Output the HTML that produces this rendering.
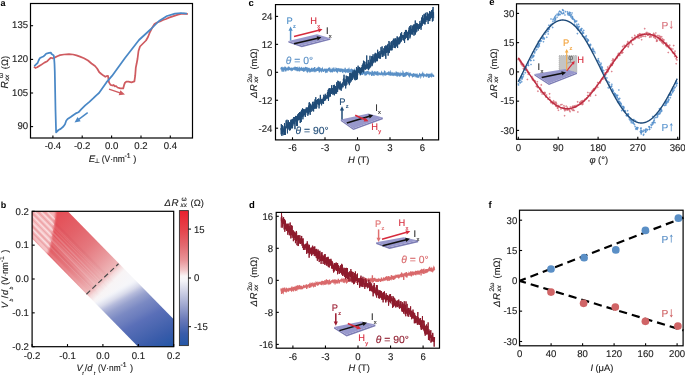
<!DOCTYPE html>
<html><head><meta charset="utf-8"><style>html,body{margin:0;padding:0;background:#fff;}svg{display:block;will-change:transform;}</style></head><body>
<svg xmlns="http://www.w3.org/2000/svg" width="685" height="375" viewBox="0 0 685 375" font-family="Liberation Sans, sans-serif" text-rendering="geometricPrecision">
<rect width="685" height="375" fill="#fff"/>
<text x="0.6" y="6.1" font-size="9" font-weight="bold">a</text>
<polyline points="34,66.6 35.4,68 37.2,67.3 40.8,65.1 44.4,62.6 47.3,61.2 49.4,59 50.9,57.8 52.3,58.3 54.5,57.6 57.3,56.2 60,55.1 64,54.5 69,54.1 73,54.5 76.5,55.4 80,56.6 84,58.2 88,60.5 91.5,63.5 95,66 97.1,68.5 99.3,72.3 101.4,74 103.5,75.6 105.3,76.8 106.7,76 108,75.8 108.3,78 109,82.4 110.5,84.9 112.4,85.5 113.5,85 114.9,86.3 116,86 117.5,87.5 120.3,88.4 123.2,88.4 124,85.4 124.8,83 126.3,81.7 128.5,81.7 131.5,82.3 134.4,81.4 135.2,75.7 135.8,67.6 136.7,63.3 137.5,59 138.5,51 140,46.5 143,43.5 146,40.5 148,37 150,32 152,28 154.5,24 157,22.5 160,21.5 163,20 166,19 169,17.6 172,16.6 175,15.6 178,14.6 181,14 184,13.6 188,14" fill="none" stroke="#CF5B60" stroke-width="1.75" stroke-linejoin="round"/>
<polyline points="187,13.6 181,13 175,13.6 167,16 159,21 151,29 139,40 125,58 112,75.9 106.4,82.4 99,93 96.3,95.3 93.4,98.2 89.4,101.9 85.2,105.4 81.4,109.1 78.4,112.3 76.4,113.1 73.5,115 70.7,117 67.6,119 66.2,120.7 65,124.3 63.4,126.5 60.7,128.9 58.5,130 56.1,132.3 55.5,110 54.8,72 54.5,63.7 54.1,58 53.7,55.4 52.7,54.7 51.6,54 50.9,52.6 49.1,52.9 47.3,53.3 45.8,54 44.7,55.4 43.3,56.5 41.5,57.2 39.7,58.3 38.6,60.5 37.6,63 36.1,64.4 34.3,66.2" fill="none" stroke="#4A88C6" stroke-width="1.75" stroke-linejoin="round"/>
<line x1="87.7" y1="112.7" x2="78.74" y2="119.42" stroke="#4A88C6" stroke-width="1.5"/>
<polygon points="74.5,122.6 77.58,117.04 80.7,121.2" fill="#4A88C6"/>
<line x1="109" y1="89.1" x2="119.99" y2="92.88" stroke="#CF5B60" stroke-width="1.5"/>
<polygon points="125,94.6 118.67,95.17 120.36,90.26" fill="#CF5B60"/>
<rect x="30.5" y="3.5" width="162" height="134.5" fill="none" stroke="#000" stroke-width="1.2"/>
<line x1="30.5" y1="25.7" x2="33.1" y2="25.7" stroke="#000" stroke-width="1.1"/>
<text x="28.1" y="28.2" font-size="9.8" text-anchor="end" fill="#1a1a1a" textLength="16.02" lengthAdjust="spacingAndGlyphs" stroke="#1a1a1a" stroke-width="0.12">135</text>
<line x1="30.5" y1="59.4" x2="33.1" y2="59.4" stroke="#000" stroke-width="1.1"/>
<text x="28.1" y="61.9" font-size="9.8" text-anchor="end" fill="#1a1a1a" textLength="16.02" lengthAdjust="spacingAndGlyphs" stroke="#1a1a1a" stroke-width="0.12">120</text>
<line x1="30.5" y1="93" x2="33.1" y2="93" stroke="#000" stroke-width="1.1"/>
<text x="28.1" y="95.5" font-size="9.8" text-anchor="end" fill="#1a1a1a" textLength="16.02" lengthAdjust="spacingAndGlyphs" stroke="#1a1a1a" stroke-width="0.12">105</text>
<line x1="30.5" y1="126.6" x2="33.1" y2="126.6" stroke="#000" stroke-width="1.1"/>
<text x="28.1" y="129.1" font-size="9.8" text-anchor="end" fill="#1a1a1a" textLength="10.68" lengthAdjust="spacingAndGlyphs" stroke="#1a1a1a" stroke-width="0.12">90</text>
<line x1="52.9" y1="138" x2="52.9" y2="135.4" stroke="#000" stroke-width="1.1"/>
<text x="52.9" y="149" font-size="9.8" text-anchor="middle" fill="#1a1a1a" textLength="16.54" lengthAdjust="spacingAndGlyphs" stroke="#1a1a1a" stroke-width="0.12">-0.4</text>
<line x1="82.2" y1="138" x2="82.2" y2="135.4" stroke="#000" stroke-width="1.1"/>
<text x="82.2" y="149" font-size="9.8" text-anchor="middle" fill="#1a1a1a" textLength="16.54" lengthAdjust="spacingAndGlyphs" stroke="#1a1a1a" stroke-width="0.12">-0.2</text>
<line x1="111.6" y1="138" x2="111.6" y2="135.4" stroke="#000" stroke-width="1.1"/>
<text x="111.6" y="149" font-size="9.8" text-anchor="middle" fill="#1a1a1a" textLength="13.35" lengthAdjust="spacingAndGlyphs" stroke="#1a1a1a" stroke-width="0.12">0.0</text>
<line x1="141" y1="138" x2="141" y2="135.4" stroke="#000" stroke-width="1.1"/>
<text x="141" y="149" font-size="9.8" text-anchor="middle" fill="#1a1a1a" textLength="13.35" lengthAdjust="spacingAndGlyphs" stroke="#1a1a1a" stroke-width="0.12">0.2</text>
<line x1="170.3" y1="138" x2="170.3" y2="135.4" stroke="#000" stroke-width="1.1"/>
<text x="170.3" y="149" font-size="9.8" text-anchor="middle" fill="#1a1a1a" textLength="13.35" lengthAdjust="spacingAndGlyphs" stroke="#1a1a1a" stroke-width="0.12">0.4</text>
<g transform="translate(88.8,162.2)" fill="#1a1a1a" stroke="#1a1a1a" stroke-width="0.12"><text x="0" y="0" font-size="9.6" font-style="italic">E</text><text x="5.4" y="0.9" font-size="6.5">⊥</text><text x="12.9" y="0" font-size="9.4" textLength="23.0" lengthAdjust="spacingAndGlyphs">(V·nm</text><text x="35.6" y="-3.9" font-size="6.8">-1</text><text x="44.4" y="0" font-size="9.4">)</text></g>
<g transform="translate(7.7,88.5) rotate(-90)" fill="#1a1a1a" stroke="#1a1a1a" stroke-width="0.12"><text x="0" y="0" font-size="10.2" font-style="italic">R</text><text x="7.4" y="1" font-size="6.3" font-style="italic">xx</text><text x="10.4" y="-5" font-size="6.6">ω</text><text x="19.3" y="0" font-size="9.4">(Ω)</text></g>
<text x="0.8" y="207.6" font-size="9" font-weight="bold">b</text>
<defs>
<linearGradient id="gb" gradientUnits="userSpaceOnUse" x1="121.5" y1="121.5" x2="259.75" y2="259.75">
<stop offset="0" stop-color="#E5434B"/>
<stop offset="0.13" stop-color="#E4525A"/>
<stop offset="0.232" stop-color="#E3636A"/>
<stop offset="0.333" stop-color="#E5787E"/>
<stop offset="0.42" stop-color="#E9969A"/>
<stop offset="0.5" stop-color="#EEB6B8"/>
<stop offset="0.522" stop-color="#F5DCDD"/>
<stop offset="0.548" stop-color="#F8F4F5"/>
<stop offset="0.6" stop-color="#F6F6F9"/>
<stop offset="1" stop-color="#F6F6F9"/>
</linearGradient>
<linearGradient id="gbb" gradientUnits="userSpaceOnUse" x1="147.8" y1="268.7" x2="187.9" y2="341.6">
<stop offset="0" stop-color="#F4F5FA" stop-opacity="0"/>
<stop offset="0.0316" stop-color="#F4F5FA" stop-opacity="0"/>
<stop offset="0.0737" stop-color="#ECEEF6" stop-opacity="0.9"/>
<stop offset="0.126" stop-color="#D8DAEA"/>
<stop offset="0.179" stop-color="#B4BADB"/>
<stop offset="0.238" stop-color="#98A2CE"/>
<stop offset="0.337" stop-color="#7A89C3"/>
<stop offset="0.437" stop-color="#6A7CBD"/>
<stop offset="0.513" stop-color="#5A6FB8"/>
<stop offset="0.653" stop-color="#4A66B0"/>
<stop offset="0.789" stop-color="#3A5CAA"/>
<stop offset="0.958" stop-color="#2356A6"/>
<stop offset="1" stop-color="#2255A5"/>
</linearGradient>
<linearGradient id="cb" x1="0" y1="0" x2="0" y2="1">
<stop offset="0" stop-color="#E9212F"/>
<stop offset="0.14" stop-color="#E6434B"/>
<stop offset="0.26" stop-color="#E26A70"/>
<stop offset="0.37" stop-color="#E99599"/>
<stop offset="0.44" stop-color="#F2C6C8"/>
<stop offset="0.485" stop-color="#FAF5F5"/>
<stop offset="0.52" stop-color="#F4F4F8"/>
<stop offset="0.59" stop-color="#D4D6E8"/>
<stop offset="0.70" stop-color="#A0A8D0"/>
<stop offset="0.81" stop-color="#6878B8"/>
<stop offset="0.91" stop-color="#3A5CAA"/>
<stop offset="1" stop-color="#2356A6"/>
</linearGradient>
<clipPath id="cbox"><rect x="32.1" y="211.3" width="141.6" height="135.4"/></clipPath>
<filter id="blur1"><feGaussianBlur stdDeviation="1.2"/></filter>
</defs>
<g clip-path="url(#cbox)"><polygon points="32.1,211.3 67.79,211.3 173.7,319.32 173.7,346.7 138.09,346.7 32.1,238.59" fill="url(#gb)"/><polygon points="32.1,211.3 67.79,211.3 173.7,319.32 173.7,346.7 138.09,346.7 32.1,238.59" fill="url(#gbb)"/>
<clipPath id="cs"><polygon points="32.1,211.3 67.79,211.3 173.7,319.32 173.7,346.7 138.09,346.7 32.1,238.59"/></clipPath>
<linearGradient id="gm" gradientUnits="userSpaceOnUse" x1="121.5" y1="121.5" x2="259.75" y2="259.75"><stop offset="0.3" stop-color="#fff"/><stop offset="0.5" stop-color="#fff" stop-opacity="0.6"/><stop offset="0.56" stop-color="#fff" stop-opacity="0"/></linearGradient>
<mask id="mk" maskUnits="userSpaceOnUse" x="0" y="180" width="200" height="195"><rect x="0" y="180" width="200" height="195" fill="url(#gm)"/></mask>
<g clip-path="url(#cs)" mask="url(#mk)">
<line x1="20" y1="202.91" x2="190" y2="376.31" stroke="#fff" stroke-width="1.02" opacity="0.08"/>
<line x1="20" y1="230.05" x2="190" y2="403.45" stroke="#fff" stroke-width="1.19" opacity="0.04"/>
<line x1="20" y1="204.4" x2="190" y2="377.8" stroke="#fff" stroke-width="0.93" opacity="0.14"/>
<line x1="20" y1="244.8" x2="190" y2="418.2" stroke="#fff" stroke-width="0.71" opacity="0.10"/>
<line x1="20" y1="230.69" x2="190" y2="404.09" stroke="#b03040" stroke-width="1.12" opacity="0.06"/>
<line x1="20" y1="233.25" x2="190" y2="406.65" stroke="#fff" stroke-width="1.01" opacity="0.12"/>
<line x1="20" y1="207.34" x2="190" y2="380.74" stroke="#fff" stroke-width="0.93" opacity="0.13"/>
<line x1="20" y1="236.57" x2="190" y2="409.97" stroke="#b03040" stroke-width="1.24" opacity="0.07"/>
<line x1="20" y1="213.9" x2="190" y2="387.3" stroke="#b03040" stroke-width="1.25" opacity="0.05"/>
<line x1="20" y1="247.77" x2="190" y2="421.17" stroke="#fff" stroke-width="0.75" opacity="0.05"/>
<line x1="20" y1="253.83" x2="190" y2="427.23" stroke="#fff" stroke-width="0.81" opacity="0.10"/>
<line x1="20" y1="221.76" x2="190" y2="395.16" stroke="#fff" stroke-width="1.01" opacity="0.08"/>
<line x1="20" y1="227.15" x2="190" y2="400.55" stroke="#b03040" stroke-width="1.25" opacity="0.06"/>
<line x1="20" y1="246.2" x2="190" y2="419.6" stroke="#b03040" stroke-width="0.71" opacity="0.06"/>
<line x1="20" y1="246.49" x2="190" y2="419.89" stroke="#b03040" stroke-width="1.00" opacity="0.08"/>
<line x1="20" y1="236.22" x2="190" y2="409.62" stroke="#fff" stroke-width="1.00" opacity="0.12"/>
<line x1="20" y1="206.2" x2="190" y2="379.6" stroke="#fff" stroke-width="1.29" opacity="0.13"/>
<line x1="20" y1="192.45" x2="190" y2="365.85" stroke="#b03040" stroke-width="0.71" opacity="0.05"/>
<line x1="20" y1="206.82" x2="190" y2="380.22" stroke="#b03040" stroke-width="0.63" opacity="0.07"/>
<line x1="20" y1="229.27" x2="190" y2="402.67" stroke="#fff" stroke-width="0.83" opacity="0.11"/>
<line x1="20" y1="247.91" x2="190" y2="421.31" stroke="#b03040" stroke-width="1.30" opacity="0.06"/>
<line x1="20" y1="207.93" x2="190" y2="381.33" stroke="#fff" stroke-width="0.62" opacity="0.10"/>
<line x1="20" y1="200.07" x2="190" y2="373.47" stroke="#fff" stroke-width="0.71" opacity="0.10"/>
<line x1="20" y1="189.22" x2="190" y2="362.62" stroke="#b03040" stroke-width="1.27" opacity="0.05"/>
<line x1="20" y1="249.02" x2="190" y2="422.42" stroke="#fff" stroke-width="0.96" opacity="0.09"/>
<line x1="20" y1="231.32" x2="190" y2="404.72" stroke="#fff" stroke-width="1.03" opacity="0.10"/>
<line x1="20" y1="252.09" x2="190" y2="425.49" stroke="#fff" stroke-width="1.10" opacity="0.08"/>
<line x1="20" y1="202.88" x2="190" y2="376.28" stroke="#fff" stroke-width="0.96" opacity="0.14"/>
<line x1="20" y1="224.64" x2="190" y2="398.04" stroke="#fff" stroke-width="1.01" opacity="0.08"/>
<line x1="20" y1="187.65" x2="190" y2="361.05" stroke="#b03040" stroke-width="0.64" opacity="0.06"/>
<line x1="20" y1="230.16" x2="190" y2="403.56" stroke="#fff" stroke-width="0.85" opacity="0.11"/>
<line x1="20" y1="235.74" x2="190" y2="409.14" stroke="#b03040" stroke-width="0.64" opacity="0.03"/>
<line x1="20" y1="233.57" x2="190" y2="406.97" stroke="#b03040" stroke-width="0.92" opacity="0.04"/>
<line x1="20" y1="227.74" x2="190" y2="401.14" stroke="#fff" stroke-width="0.82" opacity="0.08"/>
<line x1="20" y1="212.09" x2="190" y2="385.49" stroke="#fff" stroke-width="0.86" opacity="0.07"/>
<line x1="20" y1="240.31" x2="190" y2="413.71" stroke="#fff" stroke-width="1.11" opacity="0.10"/>
<line x1="20" y1="207.95" x2="190" y2="381.35" stroke="#fff" stroke-width="0.77" opacity="0.12"/>
<line x1="20" y1="199.37" x2="190" y2="372.77" stroke="#fff" stroke-width="0.67" opacity="0.11"/>
<line x1="20" y1="208.79" x2="190" y2="382.19" stroke="#fff" stroke-width="0.91" opacity="0.12"/>
<line x1="20" y1="246.14" x2="190" y2="419.54" stroke="#fff" stroke-width="1.06" opacity="0.07"/>
<line x1="20" y1="248.19" x2="190" y2="421.59" stroke="#fff" stroke-width="0.68" opacity="0.06"/>
<line x1="20" y1="223.32" x2="190" y2="396.72" stroke="#fff" stroke-width="1.19" opacity="0.12"/>
<line x1="20" y1="199.1" x2="190" y2="372.5" stroke="#fff" stroke-width="1.05" opacity="0.12"/>
<line x1="20" y1="242.69" x2="190" y2="416.09" stroke="#fff" stroke-width="0.80" opacity="0.05"/>
<line x1="20" y1="241.82" x2="190" y2="415.22" stroke="#fff" stroke-width="0.89" opacity="0.07"/>
<line x1="20" y1="215.63" x2="190" y2="389.03" stroke="#fff" stroke-width="0.71" opacity="0.13"/>
<line x1="20" y1="186.58" x2="190" y2="359.98" stroke="#b03040" stroke-width="1.29" opacity="0.07"/>
<line x1="20" y1="216.65" x2="190" y2="390.05" stroke="#b03040" stroke-width="0.76" opacity="0.08"/>
<line x1="20" y1="238.44" x2="190" y2="411.84" stroke="#b03040" stroke-width="0.96" opacity="0.06"/>
<line x1="20" y1="206.48" x2="190" y2="379.88" stroke="#fff" stroke-width="0.65" opacity="0.06"/>
<line x1="20" y1="227.46" x2="190" y2="400.86" stroke="#fff" stroke-width="0.63" opacity="0.12"/>
<line x1="20" y1="249.5" x2="190" y2="422.9" stroke="#b03040" stroke-width="1.23" opacity="0.08"/>
<line x1="20" y1="249.23" x2="190" y2="422.63" stroke="#fff" stroke-width="1.12" opacity="0.04"/>
<line x1="20" y1="198.28" x2="190" y2="371.68" stroke="#fff" stroke-width="0.97" opacity="0.11"/>
<line x1="20" y1="215.21" x2="190" y2="388.61" stroke="#b03040" stroke-width="0.84" opacity="0.06"/>
<line x1="20" y1="203.92" x2="190" y2="377.32" stroke="#b03040" stroke-width="1.15" opacity="0.05"/>
<line x1="20" y1="210.88" x2="190" y2="384.28" stroke="#fff" stroke-width="1.17" opacity="0.09"/>
<line x1="20" y1="198.24" x2="190" y2="371.64" stroke="#b03040" stroke-width="1.16" opacity="0.08"/>
<line x1="20" y1="243.89" x2="190" y2="417.29" stroke="#fff" stroke-width="1.20" opacity="0.10"/>
<line x1="20" y1="189.75" x2="190" y2="363.15" stroke="#fff" stroke-width="0.97" opacity="0.07"/>
<line x1="20" y1="215.86" x2="190" y2="389.26" stroke="#fff" stroke-width="0.60" opacity="0.12"/>
<line x1="20" y1="190.09" x2="190" y2="363.49" stroke="#fff" stroke-width="0.65" opacity="0.05"/>
<line x1="20" y1="254.48" x2="190" y2="427.88" stroke="#b03040" stroke-width="0.95" opacity="0.03"/>
<line x1="20" y1="208.36" x2="190" y2="381.76" stroke="#fff" stroke-width="1.05" opacity="0.08"/>
<line x1="20" y1="227.31" x2="190" y2="400.71" stroke="#fff" stroke-width="0.83" opacity="0.06"/>
<line x1="20" y1="194.91" x2="190" y2="368.31" stroke="#fff" stroke-width="0.87" opacity="0.11"/>
<line x1="20" y1="191.84" x2="190" y2="365.24" stroke="#fff" stroke-width="1.02" opacity="0.08"/>
<line x1="20" y1="241.03" x2="190" y2="414.43" stroke="#fff" stroke-width="1.04" opacity="0.12"/>
<line x1="20" y1="216.46" x2="190" y2="389.86" stroke="#fff" stroke-width="1.09" opacity="0.09"/>
<line x1="20" y1="215.69" x2="190" y2="389.09" stroke="#b03040" stroke-width="0.77" opacity="0.05"/>
</g>
<clipPath id="cw"><polygon points="32.1,211.3 55.9,211.3 54.8,220 53.5,228 52,234 51.2,240 49.6,248 47.5,254 44,252 32.1,238.59"/></clipPath>
<polygon points="32.1,211.3 55.9,211.3 54.8,220 53.5,228 52,234 51.2,240 49.6,248 47.5,254 44,252 32.1,238.59" fill="#fff" opacity="0.6" filter="url(#blur1)"/>
<g clip-path="url(#cw)" opacity="0.5">
<line x1="32.1" y1="196" x2="72.1" y2="236.8" stroke="#fff" stroke-width="1.2"/>
<line x1="32.1" y1="199.3" x2="72.1" y2="240.1" stroke="#E58A8E" stroke-width="1.2"/>
<line x1="32.1" y1="202.6" x2="72.1" y2="243.4" stroke="#fff" stroke-width="1.2"/>
<line x1="32.1" y1="205.9" x2="72.1" y2="246.7" stroke="#E58A8E" stroke-width="1.2"/>
<line x1="32.1" y1="209.2" x2="72.1" y2="250" stroke="#fff" stroke-width="1.2"/>
<line x1="32.1" y1="212.5" x2="72.1" y2="253.3" stroke="#E58A8E" stroke-width="1.2"/>
<line x1="32.1" y1="215.8" x2="72.1" y2="256.6" stroke="#fff" stroke-width="1.2"/>
<line x1="32.1" y1="219.1" x2="72.1" y2="259.9" stroke="#E58A8E" stroke-width="1.2"/>
<line x1="32.1" y1="222.4" x2="72.1" y2="263.2" stroke="#fff" stroke-width="1.2"/>
<line x1="32.1" y1="225.7" x2="72.1" y2="266.5" stroke="#E58A8E" stroke-width="1.2"/>
<line x1="32.1" y1="229" x2="72.1" y2="269.8" stroke="#fff" stroke-width="1.2"/>
<line x1="32.1" y1="232.3" x2="72.1" y2="273.1" stroke="#E58A8E" stroke-width="1.2"/>
</g>
</g>
<line x1="86.4" y1="294.2" x2="118.5" y2="263.8" stroke="#4a4a4a" stroke-width="1.2" stroke-dasharray="5.2,3"/>
<rect x="32.1" y="211.3" width="141.6" height="135.4" fill="none" stroke="#000" stroke-width="1.2"/>
<line x1="32.1" y1="211.3" x2="34.7" y2="211.3" stroke="#000" stroke-width="1.1"/>
<text x="28.9" y="214.6" font-size="9.8" text-anchor="end" fill="#1a1a1a" textLength="13.35" lengthAdjust="spacingAndGlyphs" stroke="#1a1a1a" stroke-width="0.12">0.2</text>
<line x1="32.1" y1="245.15" x2="34.7" y2="245.15" stroke="#000" stroke-width="1.1"/>
<text x="28.9" y="248.45" font-size="9.8" text-anchor="end" fill="#1a1a1a" textLength="13.35" lengthAdjust="spacingAndGlyphs" stroke="#1a1a1a" stroke-width="0.12">0.1</text>
<line x1="32.1" y1="279" x2="34.7" y2="279" stroke="#000" stroke-width="1.1"/>
<text x="28.9" y="282.3" font-size="9.8" text-anchor="end" fill="#1a1a1a" textLength="13.35" lengthAdjust="spacingAndGlyphs" stroke="#1a1a1a" stroke-width="0.12">0.0</text>
<line x1="32.1" y1="312.85" x2="34.7" y2="312.85" stroke="#000" stroke-width="1.1"/>
<text x="28.9" y="316.15" font-size="9.8" text-anchor="end" fill="#1a1a1a" textLength="16.54" lengthAdjust="spacingAndGlyphs" stroke="#1a1a1a" stroke-width="0.12">-0.1</text>
<line x1="32.1" y1="346.7" x2="34.7" y2="346.7" stroke="#000" stroke-width="1.1"/>
<text x="28.9" y="350" font-size="9.8" text-anchor="end" fill="#1a1a1a" textLength="16.54" lengthAdjust="spacingAndGlyphs" stroke="#1a1a1a" stroke-width="0.12">-0.2</text>
<line x1="32.1" y1="346.7" x2="32.1" y2="344.1" stroke="#000" stroke-width="1.1"/>
<text x="32.1" y="358.9" font-size="9.8" text-anchor="middle" fill="#1a1a1a" textLength="16.54" lengthAdjust="spacingAndGlyphs" stroke="#1a1a1a" stroke-width="0.12">-0.2</text>
<line x1="67.5" y1="346.7" x2="67.5" y2="344.1" stroke="#000" stroke-width="1.1"/>
<text x="67.5" y="358.9" font-size="9.8" text-anchor="middle" fill="#1a1a1a" textLength="16.54" lengthAdjust="spacingAndGlyphs" stroke="#1a1a1a" stroke-width="0.12">-0.1</text>
<line x1="102.9" y1="346.7" x2="102.9" y2="344.1" stroke="#000" stroke-width="1.1"/>
<text x="102.9" y="358.9" font-size="9.8" text-anchor="middle" fill="#1a1a1a" textLength="13.35" lengthAdjust="spacingAndGlyphs" stroke="#1a1a1a" stroke-width="0.12">0.0</text>
<line x1="138.3" y1="346.7" x2="138.3" y2="344.1" stroke="#000" stroke-width="1.1"/>
<text x="138.3" y="358.9" font-size="9.8" text-anchor="middle" fill="#1a1a1a" textLength="13.35" lengthAdjust="spacingAndGlyphs" stroke="#1a1a1a" stroke-width="0.12">0.1</text>
<line x1="173.7" y1="346.7" x2="173.7" y2="344.1" stroke="#000" stroke-width="1.1"/>
<text x="173.7" y="358.9" font-size="9.8" text-anchor="middle" fill="#1a1a1a" textLength="13.35" lengthAdjust="spacingAndGlyphs" stroke="#1a1a1a" stroke-width="0.12">0.2</text>
<g transform="translate(76.4,370.7)" fill="#1a1a1a" stroke="#1a1a1a" stroke-width="0.12"><text x="0" y="0" font-size="9.2" font-style="italic">V</text><text x="5.9" y="3.8" font-size="5" font-style="italic">t</text><text x="8.3" y="0" font-size="9.2">/</text><text x="10.9" y="0" font-size="9.2" font-style="italic">d</text><text x="17.4" y="4.2" font-size="5" font-style="italic">t</text><text x="21.6" y="0" font-size="9.4" textLength="22.6" lengthAdjust="spacingAndGlyphs">(V·nm</text><text x="44.2" y="-3.9" font-size="6.8">-1</text><text x="53.7" y="0" font-size="9.4">)</text></g>
<g transform="translate(8,308.2) rotate(-90)" fill="#1a1a1a" stroke="#1a1a1a" stroke-width="0.12"><text x="0" y="0" font-size="9.2" font-style="italic">V</text><text x="6.8" y="4.6" font-size="5" font-style="italic">b</text><text x="10" y="0" font-size="9.2">/</text><text x="13.3" y="0" font-size="9.2" font-style="italic">d</text><text x="18.6" y="4.6" font-size="5" font-style="italic">b</text><text x="23.4" y="0" font-size="9.4" textLength="22.6" lengthAdjust="spacingAndGlyphs">(V·nm</text><text x="46" y="-3.9" font-size="6.8">-1</text><text x="55.5" y="0" font-size="9.4">)</text></g>
<rect x="179.4" y="210.6" width="9" height="135" fill="url(#cb)" stroke="#333" stroke-width="0.9"/>
<line x1="188.4" y1="229.1" x2="191" y2="229.1" stroke="#000" stroke-width="1"/>
<text x="193.9" y="232.5" font-size="9.8" fill="#1a1a1a" textLength="10.68" lengthAdjust="spacingAndGlyphs" stroke="#1a1a1a" stroke-width="0.12">15</text>
<line x1="188.4" y1="278" x2="191" y2="278" stroke="#000" stroke-width="1"/>
<text x="193.9" y="281.4" font-size="9.8" fill="#1a1a1a" textLength="5.34" lengthAdjust="spacingAndGlyphs" stroke="#1a1a1a" stroke-width="0.12">0</text>
<line x1="188.4" y1="326.7" x2="191" y2="326.7" stroke="#000" stroke-width="1"/>
<text x="193.9" y="330.09999999999997" font-size="9.8" fill="#1a1a1a" textLength="13.88" lengthAdjust="spacingAndGlyphs" stroke="#1a1a1a" stroke-width="0.12">-15</text>
<g transform="translate(164.6,205.6)" fill="#1a1a1a" stroke="#1a1a1a" stroke-width="0.12"><text x="0" y="0" font-size="9.4" font-style="italic">Δ</text><text x="6.9" y="0" font-size="9.8" font-style="italic">R</text><text x="15.9" y="1" font-size="6.3" font-style="italic">xx</text><text x="16.9" y="-4.6" font-size="6.6">ω</text><text x="26" y="0" font-size="9.4">(Ω)</text></g>
<text x="248.6" y="5.6" font-size="9.5" font-weight="bold">c</text>
<polyline points="281,67.71 281.15,69.4 281.31,67.61 281.46,68.94 281.61,67.74 281.76,67.66 281.92,70.63 282.07,70.05 282.22,71.63 282.37,68.73 282.53,69.13 282.68,69.19 282.83,69.33 282.99,69.77 283.14,67.17 283.29,69.79 283.44,67.51 283.6,69.06 283.75,71.66 283.9,69.01 284.05,68.76 284.21,69.77 284.36,69.18 284.51,68.02 284.66,70.17 284.82,68.55 284.97,66.49 285.12,69.64 285.28,67.84 285.43,67.77 285.58,67.76 285.73,71.45 285.89,69.12 286.04,69.59 286.19,69.7 286.34,70.32 286.5,69.06 286.65,68.57 286.8,68.49 286.96,69.48 287.11,69.43 287.26,68.29 287.41,67.52 287.57,70.41 287.72,69.87 287.87,69.1 288.02,68.73 288.18,69.93 288.33,68.48 288.48,68.77 288.63,66.62 288.79,69.94 288.94,69.62 289.09,68.68 289.25,69.51 289.4,68.46 289.55,69.83 289.7,68.94 289.86,68.32 290.01,68.53 290.16,69.95 290.31,69.02 290.47,69.84 290.62,67.94 290.77,69.14 290.93,68.83 291.08,70.09 291.23,68.06 291.38,69.28 291.54,69.41 291.69,69.84 291.84,69.48 291.99,69.91 292.15,69.97 292.3,68.36 292.45,67.91 292.61,69.45 292.76,69.3 292.91,69.47 293.06,69.21 293.22,69.15 293.37,68.36 293.52,67.63 293.67,68.79 293.83,68.74 293.98,67.5 294.13,68.39 294.28,67.22 294.44,69.82 294.59,67.27 294.74,68.27 294.9,70.24 295.05,67.18 295.2,66.76 295.35,68 295.51,70.42 295.66,69.55 295.81,69.25 295.96,68.57 296.12,69.42 296.27,67.55 296.42,67.18 296.58,69.03 296.73,68.71 296.88,68.74 297.03,68.39 297.19,69 297.34,68.75 297.49,71.22 297.64,68.25 297.8,69.13 297.95,69.89 298.1,70.33 298.26,68.03 298.41,69.94 298.56,70.39 298.71,68.12 298.87,70.15 299.02,70.97 299.17,66.87 299.32,71.49 299.48,69.82 299.63,68.59 299.78,67.93 299.93,69.19 300.09,69.48 300.24,69.62 300.39,69.67 300.55,68.38 300.7,68.31 300.85,69.15 301,68.79 301.16,70.62 301.31,69.52 301.46,69.31 301.61,70.41 301.77,68.12 301.92,68.29 302.07,69.83 302.23,69.21 302.38,70.26 302.53,70.31 302.68,68.5 302.84,70.43 302.99,70.58 303.14,69.08 303.29,69.14 303.45,67.58 303.6,70.01 303.75,71.69 303.9,67.69 304.06,69.07 304.21,70.1 304.36,68.74 304.52,67.8 304.67,69.88 304.82,71.25 304.97,70.26 305.13,69.66 305.28,68.97 305.43,69.2 305.58,67.55 305.74,66.98 305.89,69.66 306.04,68.69 306.2,69.4 306.35,67.55 306.5,69.27 306.65,68.07 306.81,70.94 306.96,71.2 307.11,67.34 307.26,69.97 307.42,70.81 307.57,72.18 307.72,70.06 307.88,70.01 308.03,68.31 308.18,70.79 308.33,70.12 308.49,70.33 308.64,69.22 308.79,67.84 308.94,70.39 309.1,69.33 309.25,70.24 309.4,69.95 309.55,70.95 309.71,69.27 309.86,68.77 310.01,70.98 310.17,70.68 310.32,69.63 310.47,70.34 310.62,68.87 310.78,70.41 310.93,70.07 311.08,71.08 311.23,70.52 311.39,68.5 311.54,69.55 311.69,67.76 311.85,68.73 312,71.85 312.15,70.11 312.3,69.31 312.46,69.66 312.61,70.16 312.76,69.83 312.91,69.17 313.07,70.4 313.22,69.78 313.37,70.21 313.53,69.6 313.68,68.11 313.83,69.69 313.98,69.94 314.14,69.9 314.29,69.19 314.44,69.48 314.59,71.45 314.75,67.13 314.9,72.13 315.05,70.72 315.2,69.2 315.36,70.79 315.51,69.61 315.66,69.65 315.82,70.24 315.97,70.81 316.12,69.98 316.27,71.54 316.43,70.29 316.58,68.22 316.73,68.6 316.88,70.58 317.04,70.06 317.19,69.02 317.34,70.13 317.5,67.9 317.65,70.97 317.8,68.69 317.95,68.41 318.11,70.75 318.26,69.66 318.41,69.84 318.56,69.27 318.72,69.28 318.87,69.02 319.02,71.14 319.18,67.23 319.33,72.43 319.48,70.4 319.63,67.24 319.79,69.8 319.94,70.91 320.09,69.51 320.24,70.19 320.4,68.67 320.55,69.47 320.7,71.36 320.85,69.82 321.01,68.42 321.16,68.85 321.31,70.51 321.47,70.88 321.62,69.6 321.77,69.65 321.92,68.49 322.08,69.66 322.23,69.14 322.38,68.79 322.53,69.85 322.69,70.08 322.84,70.88 322.99,71.38 323.15,69.91 323.3,69.58 323.45,71.96 323.6,70.94 323.76,70.7 323.91,69.8 324.06,69.73 324.21,68.78 324.37,69.53 324.52,69.63 324.67,70.05 324.82,70.28 324.98,68.5 325.13,70.51 325.28,69.01 325.44,69.42 325.59,72.56 325.74,69.93 325.89,71.65 326.05,71.43 326.2,69.45 326.35,70.63 326.5,68.74 326.66,69.18 326.81,70.02 326.96,72.6 327.12,70.36 327.27,70.1 327.42,69.66 327.57,69.67 327.73,71.37 327.88,70.83 328.03,69.18 328.18,70.88 328.34,69.96 328.49,68.03 328.64,70.57 328.8,68.67 328.95,69.32 329.1,70.42 329.25,68.25 329.41,67.45 329.56,70 329.71,67.69 329.86,71.82 330.02,71.29 330.17,68.96 330.32,69.6 330.47,70.14 330.63,69.67 330.78,70.86 330.93,70.52 331.09,69.97 331.24,70.66 331.39,69.75 331.54,70.49 331.7,72.27 331.85,68.89 332,70.4 332.15,69.27 332.31,72.16 332.46,69.23 332.61,69.46 332.77,70.87 332.92,70.59 333.07,71.4 333.22,70.83 333.38,68.98 333.53,70.81 333.68,69.56 333.83,67.66 333.99,69.03 334.14,71.37 334.29,70.68 334.44,71.66 334.6,71.01 334.75,69.78 334.9,69.73 335.06,70.2 335.21,70.92 335.36,70.28 335.51,69.14 335.67,69.61 335.82,69.11 335.97,69.59 336.12,67.95 336.28,69.17 336.43,68.42 336.58,72.23 336.74,68.51 336.89,69.75 337.04,68.39 337.19,71.27 337.35,71.6 337.5,70.58 337.65,70.85 337.8,70.6 337.96,70.17 338.11,69.16 338.26,68.79 338.42,68.9 338.57,70.61 338.72,70.78 338.87,70.68 339.03,69.97 339.18,68.88 339.33,70.14 339.48,70.91 339.64,68.43 339.79,69.7 339.94,72.05 340.09,68.77 340.25,71.45 340.4,69.97 340.55,72.08 340.71,69.69 340.86,69.46 341.01,70.22 341.16,70.32 341.32,70.47 341.47,70.8 341.62,68.73 341.77,70.83 341.93,71.1 342.08,68.84 342.23,70.18 342.39,69.75 342.54,71.17 342.69,71.45 342.84,68.74 343,70.25 343.15,69.89 343.3,71.7 343.45,69.97 343.61,70.63 343.76,69.31 343.91,70.7 344.07,69.73 344.22,71.46 344.37,72.04 344.52,71.18 344.68,70.8 344.83,69.37 344.98,71.63 345.13,67.79 345.29,71.05 345.44,71.42 345.59,70.48 345.74,70.81 345.9,69.96 346.05,70.8 346.2,71.82 346.36,69.56 346.51,70.21 346.66,70.02 346.81,69.73 346.97,69.22 347.12,72.66 347.27,69.48 347.42,72.16 347.58,71.76 347.73,71.33 347.88,68.82 348.04,71.61 348.19,70.55 348.34,71.07 348.49,72.59 348.65,71.51 348.8,69.4 348.95,69.05 349.1,69.65 349.26,71.43 349.41,72.33 349.56,70.28 349.72,71.43 349.87,70.61 350.02,71.3 350.17,71.15 350.33,71.19 350.48,69.26 350.63,71.65 350.78,69.82 350.94,71.64 351.09,71.9 351.24,70.19 351.39,68.69 351.55,70.17 351.7,70.17 351.85,69.25 352.01,69.95 352.16,69.96 352.31,71.63 352.46,72.24 352.62,72.47 352.77,70.01 352.92,70.49 353.07,71.39 353.23,69.52 353.38,70.3 353.53,73.03 353.69,71.2 353.84,70.3 353.99,71.55 354.14,71.05 354.3,70.44 354.45,70.19 354.6,69.93 354.75,71.03 354.91,70.42 355.06,71.12 355.21,71.61 355.36,72.16 355.52,70.31 355.67,72.38 355.82,72.71 355.98,73.19 356.13,69.87 356.28,71.9 356.43,71.16 356.59,69.95 356.74,71.83 356.89,70.34 357.04,72.27 357.2,70.52 357.35,72.04 357.5,70.79 357.66,72.73 357.81,70.38 357.96,70.94 358.11,72.78 358.27,70.31 358.42,71.93 358.57,71.12 358.72,70.38 358.88,71.01 359.03,72.13 359.18,73.21 359.34,71.4 359.49,72.01 359.64,71.09 359.79,72.22 359.95,71.59 360.1,68.62 360.25,71.33 360.4,71.79 360.56,72.34 360.71,71.25 360.86,72.66 361.01,74.31 361.17,72.57 361.32,74.77 361.47,71.04 361.63,71.57 361.78,74.55 361.93,72.82 362.08,71.51 362.24,74.89 362.39,70.05 362.54,73.22 362.69,74.5 362.85,72.38 363,71.65 363.15,72.45 363.31,72.07 363.46,72.25 363.61,72.83 363.76,72.55 363.92,72.08 364.07,71.84 364.22,71.23 364.37,73.91 364.53,71.96 364.68,74.32 364.83,72.27 364.99,75.53 365.14,74.61 365.29,72.7 365.44,72.95 365.6,73.01 365.75,74.92 365.9,73.06 366.05,72.25 366.21,73.92 366.36,75.11 366.51,71.36 366.66,73.48 366.82,72.41 366.97,73.07 367.12,72.1 367.28,74.27 367.43,71.06 367.58,73.02 367.73,73.72 367.89,72.91 368.04,72.51 368.19,72.64 368.34,73.55 368.5,71.32 368.65,73.38 368.8,74.5 368.96,71.78 369.11,72.2 369.26,73.4 369.41,73.71 369.57,72.4 369.72,73.47 369.87,74.32 370.02,72.44 370.18,73.24 370.33,73.79 370.48,72.63 370.63,74.55 370.79,72.83 370.94,72.98 371.09,73.21 371.25,73.85 371.4,73.32 371.55,72.88 371.7,73.83 371.86,75.85 372.01,73.48 372.16,70.67 372.31,73.26 372.47,72.98 372.62,73.94 372.77,74.1 372.93,73.54 373.08,73.43 373.23,73.23 373.38,72.56 373.54,73.38 373.69,74.49 373.84,71.79 373.99,75.86 374.15,72.09 374.3,74.22 374.45,72.64 374.61,71.38 374.76,72.34 374.91,73.61 375.06,73.52 375.22,72.66 375.37,72.79 375.52,73.2 375.67,72.51 375.83,73.58 375.98,72.51 376.13,71.52 376.28,74.86 376.44,74.14 376.59,74.09 376.74,73.51 376.9,74.92 377.05,72.68 377.2,74.86 377.35,75.49 377.51,72.55 377.66,71.21 377.81,75.36 377.96,74.57 378.12,73.14 378.27,73.45 378.42,74.08 378.58,73.66 378.73,73.09 378.88,74.54 379.03,73.3 379.19,72.74 379.34,73.96 379.49,74.11 379.64,72.68 379.8,74.13 379.95,73.3 380.1,74.49 380.25,75.03 380.41,73.8 380.56,74.45 380.71,73.45 380.87,73.93 381.02,75.16 381.17,74.12 381.32,73.04 381.48,72.67 381.63,74.08 381.78,73.04 381.93,74.71 382.09,72.66 382.24,74.33 382.39,73.68 382.55,74.11 382.7,74.47 382.85,74.79 383,73.6 383.16,73.46 383.31,74.67 383.46,74.1 383.61,72.68 383.77,73.09 383.92,74.66 384.07,73.85 384.23,73.6 384.38,75.27 384.53,71.77 384.68,72 384.84,75.42 384.99,73.1 385.14,72.83 385.29,74.33 385.45,74.51 385.6,73.06 385.75,74.59 385.9,74.72 386.06,74.37 386.21,73.7 386.36,73.6 386.52,73.1 386.67,73.89 386.82,75.03 386.97,72.86 387.13,72.87 387.28,73.34 387.43,74.67 387.58,73.5 387.74,72.26 387.89,74.13 388.04,73.3 388.2,72.93 388.35,73.47 388.5,73.12 388.65,73.71 388.81,74.44 388.96,75.02 389.11,74.34 389.26,74.11 389.42,72.18 389.57,74.45 389.72,75.33 389.88,72.34 390.03,72.06 390.18,73.85 390.33,73.92 390.49,75.61 390.64,74.07 390.79,71.94 390.94,72.52 391.1,74.76 391.25,74.15 391.4,73.47 391.55,74.32 391.71,74.66 391.86,74.55 392.01,73.9 392.17,73.29 392.32,73.24 392.47,75.6 392.62,74.53 392.78,73.65 392.93,75.7 393.08,73.93 393.23,74.26 393.39,73.42 393.54,74.7 393.69,73.85 393.85,75.09 394,75.11 394.15,73.96 394.3,74.27 394.46,73.53 394.61,74.83 394.76,73.78 394.91,74.02 395.07,74.3 395.22,73.53 395.37,73.53 395.52,73.59 395.68,74.75 395.83,74.85 395.98,73.59 396.14,71.56 396.29,74.54 396.44,73.09 396.59,74.28 396.75,75.42 396.9,74.66 397.05,73.77 397.2,76.64 397.36,72.34 397.51,74.9 397.66,74.84 397.82,74.33 397.97,73.11 398.12,75.59 398.27,74.96 398.43,74.37 398.58,74.93 398.73,72.52 398.88,74.9 399.04,72.4 399.19,76.34 399.34,75.8 399.5,74.5 399.65,76.59 399.8,73.52 399.95,74.95 400.11,73.32 400.26,75.43 400.41,75.08 400.56,73.8 400.72,74.29 400.87,73.61 401.02,74.06 401.17,73.75 401.33,73.7 401.48,75.26 401.63,73.8 401.79,75.54 401.94,75.05 402.09,73.75 402.24,75.5 402.4,74.31 402.55,73.02 402.7,75.3 402.85,73.28 403.01,72.13 403.16,72.45 403.31,76.9 403.47,73.35 403.62,75.49 403.77,76.02 403.92,73.11 404.08,73.99 404.23,74.25 404.38,72.98 404.53,74.93 404.69,74.66 404.84,75.9 404.99,75.94 405.15,74.79 405.3,72.49 405.45,73.15 405.6,76.23 405.76,74.45 405.91,75.59 406.06,74.46 406.21,75.76 406.37,74.47 406.52,73.09 406.67,72.56 406.82,71.96 406.98,74.33 407.13,74.38 407.28,73.81 407.44,72.54 407.59,74.12 407.74,74.34 407.89,74.28 408.05,73.83 408.2,74.66 408.35,74.79 408.5,73.31 408.66,75.21 408.81,75.46 408.96,73.46 409.12,76.38 409.27,75.09 409.42,75.61 409.57,75 409.73,74.44 409.88,73.2 410.03,73.13 410.18,73.66 410.34,73.73 410.49,74.12 410.64,74.09 410.79,74.95 410.95,75.22 411.1,75.09 411.25,75.11 411.41,74.31 411.56,75.29 411.71,74.67 411.86,73.77 412.02,75.66 412.17,75.95 412.32,73.8 412.47,75.41 412.63,73.86 412.78,76.14 412.93,74.34 413.09,76.89 413.24,74.3 413.39,73.78 413.54,74.76 413.7,73.41 413.85,74.09 414,75.26 414.15,74.41 414.31,76.41 414.46,74.38 414.61,75.16 414.77,74.03 414.92,75.33 415.07,73.77 415.22,74.18 415.38,75.74 415.53,75.43 415.68,74.44 415.83,74.07 415.99,76.39 416.14,75.14 416.29,74.04 416.44,75.13 416.6,77.54 416.75,74.41 416.9,75.67 417.06,73.62 417.21,76.03 417.36,75.44 417.51,75.61 417.67,77.58 417.82,75.64 417.97,75.82 418.12,75.76 418.28,76.32 418.43,74.97 418.58,76.93 418.74,76.96 418.89,75.84 419.04,75.22 419.19,74.9 419.35,74.55 419.5,74.95 419.65,74.52 419.8,75.04 419.96,76.14 420.11,75.74 420.26,75.1 420.42,76.17 420.57,73.81 420.72,75.5 420.87,76.73 421.03,76.36 421.18,74.06 421.33,74.96 421.48,75.15 421.64,74.89 421.79,74.98 421.94,73.5 422.09,75.65 422.25,75.25 422.4,73.9 422.55,73.58 422.71,75.9 422.86,75.57 423.01,74.61 423.16,76.26 423.32,76.48 423.47,74.76 423.62,74.51 423.77,75.76 423.93,74.47 424.08,76.05 424.23,74.19 424.39,75.73 424.54,76.44 424.69,75.74 424.84,75.34 425,75.74 425.15,74.51 425.3,75.35 425.45,76.35 425.61,75.63 425.76,76.27 425.91,75.06 426.06,74.85 426.22,76.68 426.37,74.05 426.52,75.34 426.68,76 426.83,75.78 426.98,73.48 427.13,76.29 427.29,75.16 427.44,74.96 427.59,74.93 427.74,76.18 427.9,75.15 428.05,75.1 428.2,74.45 428.36,74.45 428.51,77.83 428.66,75.75 428.81,77.13 428.97,75.48 429.12,77.75 429.27,75.19 429.42,73.8 429.58,76.08 429.73,74.96 429.88,75.66 430.04,75.93 430.19,75.69 430.34,74.98 430.49,75.32 430.65,76.77 430.8,75.1 430.95,74.37 431.1,76.16 431.26,76.34 431.41,74.67 431.56,74.39 431.71,76.62 431.87,75.14 432.02,74.57 432.17,75.51 432.33,74.91 432.48,75.2 432.63,76.08 432.78,74.53 432.94,75.44 433.09,74.7 433.24,76.66 433.39,74.82 433.55,77.03 433.7,75.43" fill="none" stroke="#5A90C6" stroke-width="1.3"/>
<polyline points="281,130.19 281.11,127.97 281.22,134.39 281.33,124.11 281.44,128.13 281.55,128.84 281.65,131.03 281.76,130.4 281.87,135.96 281.98,128.13 282.09,129.69 282.2,133.19 282.31,125.12 282.42,131.39 282.53,133.59 282.64,130.45 282.75,126.19 282.85,128.9 282.96,127.28 283.07,128.3 283.18,135.21 283.29,129.59 283.4,130.09 283.51,128.83 283.62,131.47 283.73,128.92 283.84,131.52 283.94,130.29 284.05,127.78 284.16,126.11 284.27,126.53 284.38,125.26 284.49,123.17 284.6,135 284.71,130.78 284.82,128.74 284.93,131.49 285.04,131.47 285.14,126.96 285.25,128.87 285.36,134.99 285.47,127.29 285.58,126.89 285.69,126.39 285.8,127.07 285.91,128.29 286.02,122.98 286.13,120.4 286.24,123.75 286.34,128.21 286.45,123.71 286.56,124.39 286.67,126.53 286.78,126.06 286.89,123.81 287,119.73 287.11,123.89 287.22,125.74 287.33,128.97 287.44,133.39 287.54,125.24 287.65,126.76 287.76,125.9 287.87,124.48 287.98,122.3 288.09,128.89 288.2,124.51 288.31,126.92 288.42,120.3 288.53,124.22 288.63,122.21 288.74,127.77 288.85,125.2 288.96,126.7 289.07,122.56 289.18,129.99 289.29,125.43 289.4,122.29 289.51,124.36 289.62,125.29 289.73,130.59 289.83,124.47 289.94,127.76 290.05,124.68 290.16,128.5 290.27,124.02 290.38,130.05 290.49,123.21 290.6,126.41 290.71,126.88 290.82,120.28 290.93,124.3 291.03,126.55 291.14,119.57 291.25,128.45 291.36,126.73 291.47,127.13 291.58,123.9 291.69,120.36 291.8,122.85 291.91,119.64 292.02,122.08 292.13,123.5 292.23,124.32 292.34,128.32 292.45,118.86 292.56,128.05 292.67,124.14 292.78,121.63 292.89,125.63 293,118.95 293.11,120.99 293.22,122.98 293.33,123.51 293.43,121.02 293.54,122.28 293.65,122.94 293.76,117.03 293.87,119.39 293.98,121.61 294.09,122.26 294.2,124.22 294.31,119.51 294.42,118.8 294.52,119.91 294.63,117.02 294.74,121.73 294.85,123.2 294.96,129.17 295.07,119.73 295.18,120.97 295.29,117.91 295.4,118.25 295.51,115.94 295.62,120.1 295.72,120.53 295.83,120.14 295.94,117.58 296.05,122.14 296.16,115.92 296.27,124.29 296.38,116.37 296.49,118.6 296.6,120.03 296.71,125.99 296.82,120.95 296.92,122.01 297.03,121.2 297.14,122.98 297.25,122.67 297.36,126.11 297.47,116.52 297.58,121.6 297.69,115.63 297.8,118.14 297.91,114.64 298.02,116.36 298.12,114.01 298.23,118.53 298.34,116.83 298.45,118.31 298.56,120.27 298.67,113.16 298.78,114.58 298.89,117.47 299,114.14 299.11,117.59 299.21,114.64 299.32,117.16 299.43,119.77 299.54,112.53 299.65,114.9 299.76,112.12 299.87,117.36 299.98,114.99 300.09,116.96 300.2,123.04 300.31,117.49 300.41,112.52 300.52,115.63 300.63,115.37 300.74,121.95 300.85,115.38 300.96,114.27 301.07,111.28 301.18,122.02 301.29,119 301.4,116.91 301.51,109.77 301.61,113.28 301.72,112.77 301.83,116.98 301.94,115.44 302.05,112.25 302.16,110.9 302.27,114.01 302.38,116.97 302.49,112.07 302.6,108.31 302.71,116.64 302.81,113.25 302.92,119.3 303.03,113.18 303.14,113.84 303.25,113.71 303.36,109.37 303.47,114.82 303.58,112.04 303.69,109.21 303.8,111.58 303.9,116.47 304.01,111.05 304.12,115.03 304.23,114.85 304.34,112.96 304.45,113.54 304.56,109.49 304.67,114.89 304.78,111.73 304.89,111.07 305,109.71 305.1,110.55 305.21,111.93 305.32,110.49 305.43,116.98 305.54,109.44 305.65,113.16 305.76,114.64 305.87,110.45 305.98,111.01 306.09,109.07 306.2,107.62 306.3,109.7 306.41,111.75 306.52,108.01 306.63,111.25 306.74,112.59 306.85,110.06 306.96,111.59 307.07,107.39 307.18,111.47 307.29,112.87 307.4,112.67 307.5,107.92 307.61,110.65 307.72,110.49 307.83,115.77 307.94,108.49 308.05,112.8 308.16,108.27 308.27,108.21 308.38,107.07 308.49,111.05 308.6,105.65 308.7,114.32 308.81,106.36 308.92,112.31 309.03,108.56 309.14,102.63 309.25,105.67 309.36,111.14 309.47,102.38 309.58,107.32 309.69,112.2 309.79,109.44 309.9,107.49 310.01,107.62 310.12,111.65 310.23,114.84 310.34,110.21 310.45,106.16 310.56,108.89 310.67,103.66 310.78,107.34 310.89,104.71 310.99,111.51 311.1,111.94 311.21,110.24 311.32,107.24 311.43,106.11 311.54,107.83 311.65,106.46 311.76,105.56 311.87,109.95 311.98,110.57 312.09,111.12 312.19,107.07 312.3,107.26 312.41,105.96 312.52,105.03 312.63,101.87 312.74,103.58 312.85,109.57 312.96,108.18 313.07,108.61 313.18,106.52 313.29,110.6 313.39,106.19 313.5,104 313.61,111.46 313.72,107.04 313.83,104.72 313.94,101.62 314.05,106.49 314.16,108.98 314.27,107.11 314.38,102.11 314.48,105.85 314.59,107.45 314.7,107.92 314.81,104.66 314.92,108.19 315.03,99.39 315.14,102.22 315.25,108.5 315.36,106.28 315.47,103.26 315.58,104.49 315.68,106.43 315.79,97.16 315.9,103.38 316.01,108.24 316.12,100.68 316.23,108.6 316.34,104.66 316.45,101.76 316.56,100.03 316.67,102.92 316.78,107.35 316.88,103.67 316.99,104.46 317.1,101.57 317.21,102.15 317.32,99.91 317.43,103.9 317.54,103.25 317.65,99.02 317.76,99.99 317.87,102.89 317.98,99.32 318.08,103.43 318.19,102.67 318.3,103.64 318.41,100.75 318.52,100.76 318.63,104.57 318.74,98.45 318.85,99.34 318.96,102.88 319.07,108.43 319.18,99.51 319.28,105.37 319.39,101.06 319.5,103.9 319.61,102.83 319.72,103.1 319.83,101.52 319.94,104.16 320.05,103.6 320.16,101.43 320.27,97.17 320.37,94.89 320.48,102.27 320.59,97.36 320.7,101.9 320.81,100.25 320.92,100.13 321.03,100.71 321.14,101.47 321.25,103.87 321.36,99.23 321.47,99.71 321.57,105.34 321.68,100.67 321.79,100.14 321.9,100 322.01,100.38 322.12,102.08 322.23,98.86 322.34,101.09 322.45,103.13 322.56,102.87 322.67,100.2 322.77,99.04 322.88,103.62 322.99,101.05 323.1,98.43 323.21,98.28 323.32,97.73 323.43,97.21 323.54,103.94 323.65,96.46 323.76,94.78 323.87,97.26 323.97,98.22 324.08,101.06 324.19,97.84 324.3,97.14 324.41,99.29 324.52,99.21 324.63,100.77 324.74,95.63 324.85,96.66 324.96,100.06 325.06,100.07 325.17,99.5 325.28,93.82 325.39,96.92 325.5,96.07 325.61,100.35 325.72,97.52 325.83,97.52 325.94,97.13 326.05,97.27 326.16,96.1 326.26,96.93 326.37,97.65 326.48,97.11 326.59,97.7 326.7,98.29 326.81,99.03 326.92,95.09 327.03,95.96 327.14,95.54 327.25,96 327.36,92.75 327.46,97.76 327.57,92.02 327.68,98.36 327.79,95.94 327.9,94.69 328.01,95.07 328.12,89.9 328.23,96.04 328.34,97.48 328.45,100.88 328.56,99.91 328.66,92 328.77,97.49 328.88,89 328.99,91.47 329.1,90.12 329.21,88.02 329.32,92.64 329.43,94.4 329.54,93.41 329.65,96.32 329.75,88.31 329.86,95.49 329.97,90.59 330.08,96.8 330.19,94.55 330.3,92.81 330.41,95.8 330.52,93.16 330.63,92.35 330.74,92.15 330.85,88.26 330.95,93.33 331.06,90.48 331.17,93.83 331.28,92.37 331.39,89.23 331.5,93.92 331.61,85.29 331.72,92.61 331.83,92.78 331.94,91.58 332.05,88.2 332.15,92.77 332.26,92.25 332.37,90.22 332.48,88.27 332.59,92.52 332.7,91.45 332.81,94.65 332.92,92.67 333.03,92.39 333.14,88.73 333.25,90.21 333.35,84.98 333.46,93.7 333.57,87.47 333.68,91.31 333.79,86.36 333.9,90.19 334.01,94.36 334.12,91.79 334.23,90.82 334.34,95.32 334.44,89.79 334.55,84.78 334.66,89.74 334.77,86.94 334.88,90.06 334.99,90.57 335.1,91.01 335.21,90.47 335.32,90.76 335.43,89.61 335.54,86.12 335.64,93.79 335.75,87.79 335.86,90.06 335.97,90.08 336.08,92.83 336.19,90.46 336.3,87.93 336.41,88.01 336.52,91.62 336.63,93.6 336.74,82.21 336.84,89.41 336.95,91.95 337.06,89.18 337.17,89.71 337.28,90.31 337.39,91.64 337.5,86.47 337.61,91.93 337.72,84.63 337.83,80.69 337.94,85.37 338.04,84.92 338.15,86.42 338.26,87.31 338.37,84.44 338.48,86.53 338.59,81.05 338.7,88.38 338.81,83.72 338.92,85.42 339.03,87.89 339.14,89.6 339.24,89.66 339.35,86.8 339.46,82.29 339.57,82.65 339.68,88.38 339.79,83.18 339.9,89.01 340.01,88.78 340.12,81.45 340.23,82.5 340.33,88.28 340.44,89.65 340.55,88.45 340.66,84.25 340.77,86.22 340.88,86.08 340.99,84.28 341.1,85.86 341.21,90.75 341.32,85.51 341.43,87 341.53,84.53 341.64,83.83 341.75,83.59 341.86,88.39 341.97,83.88 342.08,83.9 342.19,83.79 342.3,84.74 342.41,86.65 342.52,83.39 342.63,82.44 342.73,83.48 342.84,84.66 342.95,84.26 343.06,87.25 343.17,83.17 343.28,83.49 343.39,79.02 343.5,82.28 343.61,81.54 343.72,78.38 343.83,82.41 343.93,81.24 344.04,74.72 344.15,85.02 344.26,81.88 344.37,80.28 344.48,81.43 344.59,85.61 344.7,80.94 344.81,84.17 344.92,82.98 345.02,80.44 345.13,79.25 345.24,79.59 345.35,82.2 345.46,82.84 345.57,82.97 345.68,88.43 345.79,81.5 345.9,84.2 346.01,85.73 346.12,81.29 346.22,75.66 346.33,82.18 346.44,82.03 346.55,83.53 346.66,78.91 346.77,80.82 346.88,84.69 346.99,77.46 347.1,81.57 347.21,76.01 347.32,81.39 347.42,77.69 347.53,79.33 347.64,81.07 347.75,80.07 347.86,80.12 347.97,79.04 348.08,78.98 348.19,80.95 348.3,78.07 348.41,82.67 348.52,79.8 348.62,81.28 348.73,77.09 348.84,83.53 348.95,76.31 349.06,79.62 349.17,78.34 349.28,83.92 349.39,85.18 349.5,76.74 349.61,80 349.72,83.3 349.82,73.04 349.93,80.11 350.04,82.71 350.15,72.78 350.26,77.09 350.37,80.72 350.48,78.19 350.59,76.63 350.7,72.84 350.81,79.22 350.91,74.58 351.02,76.46 351.13,81.54 351.24,77.59 351.35,73.77 351.46,78.56 351.57,77.41 351.68,80.3 351.79,74.7 351.9,75.85 352.01,77.36 352.11,72.85 352.22,76.4 352.33,72.86 352.44,79.87 352.55,73.24 352.66,72.31 352.77,75.16 352.88,76.46 352.99,75.05 353.1,70.33 353.21,71.94 353.31,77.18 353.42,74.89 353.53,75.44 353.64,71.92 353.75,75.45 353.86,74.88 353.97,78.67 354.08,73.15 354.19,74.74 354.3,73.76 354.41,77.93 354.51,75.3 354.62,79.61 354.73,69.97 354.84,73.72 354.95,78.55 355.06,71.41 355.17,75.85 355.28,80.26 355.39,71.47 355.5,74.14 355.6,75.91 355.71,71.57 355.82,71.93 355.93,74.77 356.04,73.58 356.15,73.8 356.26,72.54 356.37,74.58 356.48,67.06 356.59,80.01 356.7,71.32 356.8,72.74 356.91,67.8 357.02,68.45 357.13,71.91 357.24,77.16 357.35,78.56 357.46,79.21 357.57,70.49 357.68,75.29 357.79,69.55 357.9,71.32 358,67.16 358.11,65.7 358.22,72.21 358.33,69.72 358.44,67.75 358.55,70.79 358.66,70.57 358.77,72.37 358.88,68.18 358.99,69.61 359.1,66.94 359.2,71.05 359.31,72.98 359.42,68.65 359.53,67.64 359.64,67 359.75,67.59 359.86,69.89 359.97,72.79 360.08,73.96 360.19,67.94 360.29,75.28 360.4,68.73 360.51,73.96 360.62,70.26 360.73,70.35 360.84,67.94 360.95,73.51 361.06,69.19 361.17,72.69 361.28,69.2 361.39,71.87 361.49,69.4 361.6,67.3 361.71,68.92 361.82,67.78 361.93,69.8 362.04,69.64 362.15,66.21 362.26,65 362.37,68.14 362.48,67.59 362.59,71.62 362.69,67.25 362.8,67.97 362.91,70.11 363.02,63.48 363.13,68.18 363.24,64.32 363.35,72.46 363.46,60.7 363.57,63.91 363.68,65.87 363.79,70.85 363.89,66.68 364,66.45 364.11,67.93 364.22,67.6 364.33,69.44 364.44,63.73 364.55,61.45 364.66,68.73 364.77,66.29 364.88,67.78 364.99,67.13 365.09,68.06 365.2,65.97 365.31,67.69 365.42,64.7 365.53,69.54 365.64,66.88 365.75,69.38 365.86,68.95 365.97,66.28 366.08,61.9 366.18,65.21 366.29,67.87 366.4,65.8 366.51,66.3 366.62,65.34 366.73,55.48 366.84,68.89 366.95,66.22 367.06,64.32 367.17,66.86 367.28,68.08 367.38,65.27 367.49,66.98 367.6,63.74 367.71,64.98 367.82,64.76 367.93,68.54 368.04,65.57 368.15,66.41 368.26,59.94 368.37,70.22 368.48,62.51 368.58,66.38 368.69,62.9 368.8,69.34 368.91,63.91 369.02,64.29 369.13,66.28 369.24,65.72 369.35,65.2 369.46,62.65 369.57,68.36 369.68,62.97 369.78,62.58 369.89,61.19 370,55.77 370.11,63.61 370.22,65.64 370.33,66.17 370.44,61.66 370.55,67.41 370.66,59.91 370.77,63.82 370.87,61.8 370.98,61.96 371.09,64.49 371.2,59.13 371.31,59.6 371.42,62.57 371.53,62.65 371.64,63.09 371.75,56.15 371.86,66.24 371.97,63.78 372.07,62.25 372.18,57.83 372.29,63.38 372.4,56.18 372.51,65.34 372.62,62.34 372.73,59.79 372.84,63.44 372.95,60.64 373.06,54.29 373.17,59.43 373.27,59.42 373.38,58.41 373.49,59.59 373.6,62.51 373.71,61.24 373.82,61.64 373.93,59.38 374.04,56.84 374.15,58.19 374.26,60.12 374.37,59.84 374.47,61.05 374.58,55.59 374.69,60.28 374.8,60.91 374.91,53.97 375.02,55.51 375.13,62.57 375.24,52.84 375.35,62.07 375.46,59.51 375.56,55.11 375.67,60.16 375.78,59.95 375.89,56.89 376,53.21 376.11,53.72 376.22,55.97 376.33,56.28 376.44,60.66 376.55,54.4 376.66,61.19 376.76,56.34 376.87,57.7 376.98,58.58 377.09,61.24 377.2,60.04 377.31,56.61 377.42,59.65 377.53,60.96 377.64,49.75 377.75,53.92 377.86,53.92 377.96,54.52 378.07,55.49 378.18,54.89 378.29,54.21 378.4,58.24 378.51,53.08 378.62,51.87 378.73,54.48 378.84,55.96 378.95,57.23 379.06,57.94 379.16,54.78 379.27,53.75 379.38,53.75 379.49,54.97 379.6,57.35 379.71,57.11 379.82,58.74 379.93,51.02 380.04,55.39 380.15,54.06 380.25,52.86 380.36,58.61 380.47,53.93 380.58,53.81 380.69,57.12 380.8,53.96 380.91,52.41 381.02,47.14 381.13,54.33 381.24,54.44 381.35,54.17 381.45,50.02 381.56,50.35 381.67,50.37 381.78,51.06 381.89,52.3 382,52.92 382.11,46.4 382.22,56.58 382.33,50.41 382.44,52.85 382.55,54.99 382.65,56.99 382.76,54.05 382.87,56.51 382.98,55.28 383.09,50.82 383.2,53.86 383.31,54.71 383.42,55.01 383.53,54.58 383.64,53.15 383.75,48.25 383.85,50.08 383.96,50.53 384.07,55.8 384.18,52.91 384.29,52.75 384.4,53.31 384.51,49.6 384.62,50 384.73,52.76 384.84,46.17 384.95,48.6 385.05,50.28 385.16,46.89 385.27,52.56 385.38,50.24 385.49,56.53 385.6,47.49 385.71,48.87 385.82,58.89 385.93,45.3 386.04,48.65 386.14,48.07 386.25,50.42 386.36,45.96 386.47,48.59 386.58,52.94 386.69,52.14 386.8,46.61 386.91,49.77 387.02,52.31 387.13,52.39 387.24,47.82 387.34,50.05 387.45,44.93 387.56,50.41 387.67,52.19 387.78,47.48 387.89,45.27 388,43.89 388.11,55.67 388.22,49.12 388.33,49.6 388.44,49.61 388.54,48.6 388.65,47.84 388.76,53.1 388.87,44.05 388.98,41 389.09,43.53 389.2,46.75 389.31,47.8 389.42,52.71 389.53,45.73 389.64,47.4 389.74,50.3 389.85,46.25 389.96,42.5 390.07,48.61 390.18,50.09 390.29,49.98 390.4,45.46 390.51,50.05 390.62,46.78 390.73,46.32 390.83,49.4 390.94,50.24 391.05,46.45 391.16,50.22 391.27,41.71 391.38,48.44 391.49,43.85 391.6,46.09 391.71,41.18 391.82,46.4 391.93,47.23 392.03,50.29 392.14,50.14 392.25,44.86 392.36,48 392.47,46.7 392.58,45.45 392.69,43.03 392.8,42.23 392.91,40.32 393.02,41.02 393.13,44.2 393.23,40.87 393.34,42.99 393.45,38.69 393.56,43.28 393.67,44.99 393.78,39.9 393.89,47.62 394,46.68 394.11,40.26 394.22,42.75 394.33,42.39 394.43,48.01 394.54,42.47 394.65,46.53 394.76,43.72 394.87,38.5 394.98,46.48 395.09,42.72 395.2,41.07 395.31,48.13 395.42,38.52 395.52,42.6 395.63,44.36 395.74,42.3 395.85,46.34 395.96,38.72 396.07,46.55 396.18,40.81 396.29,42.88 396.4,45.36 396.51,43.17 396.62,39.92 396.72,41.98 396.83,42.94 396.94,41.15 397.05,38.82 397.16,36.32 397.27,39.14 397.38,37.79 397.49,40.18 397.6,48.02 397.71,43.27 397.82,41.49 397.92,37.02 398.03,40.89 398.14,44.19 398.25,39.4 398.36,39.95 398.47,44.16 398.58,41.19 398.69,43.75 398.8,38.13 398.91,42.49 399.02,38.66 399.12,44.36 399.23,38.78 399.34,41.6 399.45,42.29 399.56,38.72 399.67,43.42 399.78,36.88 399.89,43.21 400,42.79 400.11,36.29 400.22,42.04 400.32,36.89 400.43,39.28 400.54,42.02 400.65,33.44 400.76,39.43 400.87,37.75 400.98,36.9 401.09,41.7 401.2,37.7 401.31,41.07 401.41,37.69 401.52,33.63 401.63,32.19 401.74,33.7 401.85,34.59 401.96,39.07 402.07,40.11 402.18,38.31 402.29,38.16 402.4,38.33 402.51,35.76 402.61,35.04 402.72,37.53 402.83,37.09 402.94,36.81 403.05,37.77 403.16,35.84 403.27,37.61 403.38,37.82 403.49,40.43 403.6,36.71 403.71,34.87 403.81,36.8 403.92,36.09 404.03,35.61 404.14,36.56 404.25,32.91 404.36,33.74 404.47,32.21 404.58,42.96 404.69,37.57 404.8,39.15 404.91,34.39 405.01,31.95 405.12,37.09 405.23,33.11 405.34,38.89 405.45,30.03 405.56,36.75 405.67,36.77 405.78,37.88 405.89,34.45 406,29.91 406.1,30.67 406.21,37.66 406.32,30.19 406.43,32.88 406.54,34.02 406.65,33.26 406.76,31.75 406.87,31.96 406.98,34.93 407.09,35.75 407.2,37.83 407.3,34.81 407.41,36.8 407.52,40.15 407.63,31.91 407.74,33.95 407.85,33.85 407.96,34.08 408.07,33.19 408.18,40.18 408.29,36.86 408.4,31.16 408.5,34.63 408.61,30.36 408.72,31.59 408.83,31.82 408.94,33.78 409.05,27.56 409.16,31.57 409.27,30.94 409.38,33.51 409.49,30.64 409.6,31.49 409.7,27.49 409.81,26.1 409.92,38.41 410.03,34.75 410.14,29.38 410.25,36.64 410.36,29.46 410.47,33.81 410.58,27.06 410.69,28.18 410.79,31.91 410.9,25.19 411.01,27.38 411.12,33.64 411.23,28.97 411.34,34.32 411.45,29.72 411.56,32.67 411.67,34.23 411.78,29.97 411.89,33.03 411.99,29.81 412.1,31.03 412.21,30.94 412.32,25.61 412.43,28.32 412.54,34.59 412.65,30.39 412.76,29.86 412.87,28.49 412.98,29.18 413.09,28.7 413.19,31.25 413.3,26.64 413.41,31.99 413.52,27.3 413.63,27.57 413.74,24.96 413.85,26.15 413.96,35.71 414.07,24.17 414.18,28.12 414.29,32.51 414.39,31.87 414.5,30.65 414.61,29.45 414.72,24.78 414.83,29.37 414.94,28.41 415.05,34.87 415.16,28.21 415.27,20.49 415.38,29.83 415.49,33.93 415.59,28.44 415.7,30.71 415.81,27.84 415.92,32.5 416.03,25.32 416.14,27.86 416.25,22.92 416.36,27.61 416.47,27.71 416.58,27.57 416.68,26.35 416.79,31.76 416.9,30.41 417.01,23.84 417.12,24.79 417.23,25.25 417.34,23.47 417.45,28.72 417.56,27.33 417.67,24.46 417.78,24.56 417.88,27.11 417.99,26.27 418.1,26.4 418.21,29.16 418.32,30.61 418.43,27.06 418.54,27.44 418.65,29.04 418.76,24.06 418.87,25.52 418.98,25.54 419.08,26.43 419.19,25.94 419.3,26.18 419.41,28.9 419.52,25.19 419.63,25.57 419.74,22.67 419.85,21.13 419.96,21.38 420.07,24.74 420.18,28.14 420.28,25.41 420.39,23.33 420.5,26.51 420.61,23.68 420.72,25.06 420.83,24.3 420.94,24.08 421.05,29.79 421.16,24.02 421.27,20.51 421.37,20.14 421.48,26.72 421.59,21.58 421.7,23.43 421.81,17.38 421.92,22.65 422.03,21.81 422.14,18 422.25,25.71 422.36,20.33 422.47,15.4 422.57,20.6 422.68,19.47 422.79,21.88 422.9,23.79 423.01,21.75 423.12,20.25 423.23,18.6 423.34,22.73 423.45,21.18 423.56,18.69 423.67,18.98 423.77,23.29 423.88,18.82 423.99,22.13 424.1,13.88 424.21,23.55 424.32,14.73 424.43,24.2 424.54,17.58 424.65,21.59 424.76,19.79 424.87,16.64 424.97,17.02 425.08,24.38 425.19,18.18 425.3,19.48 425.41,12.87 425.52,21.23 425.63,20.76 425.74,20.38 425.85,21.01 425.96,21.94 426.06,21.81 426.17,17.1 426.28,18.06 426.39,18.89 426.5,16.38 426.61,20.06 426.72,19.31 426.83,19.89 426.94,20.2 427.05,12.28 427.16,16.86 427.26,16.76 427.37,17.1 427.48,18.55 427.59,19.72 427.7,13.78 427.81,13.17 427.92,14.22 428.03,22.07 428.14,23.99 428.25,13.98 428.36,20.8 428.46,19.42 428.57,17.21 428.68,17.63 428.79,19.03 428.9,20.67 429.01,20.08 429.12,19.73 429.23,18.89 429.34,18.15 429.45,12.99 429.56,11.21 429.66,17.79 429.77,21.09 429.88,17.5 429.99,19.17 430.1,17.53 430.21,13.15 430.32,11.8 430.43,18.51 430.54,15.25 430.65,18.38 430.76,17.82 430.86,16.2 430.97,17.81 431.08,11.68 431.19,16.37 431.3,17.65 431.41,14.37 431.52,10.2 431.63,14.78 431.74,15.13 431.85,16.3 431.95,13.4 432.06,15.56 432.17,13.5 432.28,14.79 432.39,21.48 432.5,9.5 432.61,20.62 432.72,14.36 432.83,15.05 432.94,20.82 433.05,6.98 433.15,15.53 433.26,13.42 433.37,15.07 433.48,12.57 433.59,12.08 433.7,18.23" fill="none" stroke="#1F4B77" stroke-width="1"/>
<rect x="275.5" y="4.6" width="163.1" height="135.3" fill="none" stroke="#000" stroke-width="1.2"/>
<line x1="275.5" y1="16.4" x2="278.1" y2="16.4" stroke="#000" stroke-width="1.1"/>
<text x="272.4" y="19.7" font-size="9.8" text-anchor="end" fill="#1a1a1a" textLength="10.68" lengthAdjust="spacingAndGlyphs" stroke="#1a1a1a" stroke-width="0.12">24</text>
<line x1="275.5" y1="44.35" x2="278.1" y2="44.35" stroke="#000" stroke-width="1.1"/>
<text x="272.4" y="47.65" font-size="9.8" text-anchor="end" fill="#1a1a1a" textLength="10.68" lengthAdjust="spacingAndGlyphs" stroke="#1a1a1a" stroke-width="0.12">12</text>
<line x1="275.5" y1="72.3" x2="278.1" y2="72.3" stroke="#000" stroke-width="1.1"/>
<text x="272.4" y="75.6" font-size="9.8" text-anchor="end" fill="#1a1a1a" textLength="5.34" lengthAdjust="spacingAndGlyphs" stroke="#1a1a1a" stroke-width="0.12">0</text>
<line x1="275.5" y1="100.25" x2="278.1" y2="100.25" stroke="#000" stroke-width="1.1"/>
<text x="272.4" y="103.55" font-size="9.8" text-anchor="end" fill="#1a1a1a" textLength="13.88" lengthAdjust="spacingAndGlyphs" stroke="#1a1a1a" stroke-width="0.12">-12</text>
<line x1="275.5" y1="128.2" x2="278.1" y2="128.2" stroke="#000" stroke-width="1.1"/>
<text x="272.4" y="131.5" font-size="9.8" text-anchor="end" fill="#1a1a1a" textLength="13.88" lengthAdjust="spacingAndGlyphs" stroke="#1a1a1a" stroke-width="0.12">-24</text>
<line x1="292.5" y1="139.9" x2="292.5" y2="137.3" stroke="#000" stroke-width="1.1"/>
<text x="292.5" y="151.3" font-size="9.8" text-anchor="middle" fill="#1a1a1a" textLength="8.54" lengthAdjust="spacingAndGlyphs" stroke="#1a1a1a" stroke-width="0.12">-6</text>
<line x1="325" y1="139.9" x2="325" y2="137.3" stroke="#000" stroke-width="1.1"/>
<text x="325" y="151.3" font-size="9.8" text-anchor="middle" fill="#1a1a1a" textLength="8.54" lengthAdjust="spacingAndGlyphs" stroke="#1a1a1a" stroke-width="0.12">-3</text>
<line x1="357.5" y1="139.9" x2="357.5" y2="137.3" stroke="#000" stroke-width="1.1"/>
<text x="357.5" y="151.3" font-size="9.8" text-anchor="middle" fill="#1a1a1a" textLength="5.34" lengthAdjust="spacingAndGlyphs" stroke="#1a1a1a" stroke-width="0.12">0</text>
<line x1="390" y1="139.9" x2="390" y2="137.3" stroke="#000" stroke-width="1.1"/>
<text x="390" y="151.3" font-size="9.8" text-anchor="middle" fill="#1a1a1a" textLength="5.34" lengthAdjust="spacingAndGlyphs" stroke="#1a1a1a" stroke-width="0.12">3</text>
<line x1="422.5" y1="139.9" x2="422.5" y2="137.3" stroke="#000" stroke-width="1.1"/>
<text x="422.5" y="151.3" font-size="9.8" text-anchor="middle" fill="#1a1a1a" textLength="5.34" lengthAdjust="spacingAndGlyphs" stroke="#1a1a1a" stroke-width="0.12">6</text>
<g transform="translate(348,162.8)" fill="#1a1a1a" stroke="#1a1a1a" stroke-width="0.12"><text x="0" y="0" font-size="9.4" font-style="italic">H</text><text x="9.4" y="0" font-size="9.4">(T)</text></g>
<g transform="translate(256.9,98.1) rotate(-90)" fill="#1a1a1a" stroke="#1a1a1a" stroke-width="0.12"><text x="0" y="0" font-size="9.4" font-style="italic">Δ</text><text x="6.9" y="0" font-size="9.8" font-style="italic">R</text><text x="15.3" y="1" font-size="6.3" font-style="italic">xx</text><text x="15.6" y="-5.3" font-size="6.6">2ω</text><text x="28.6" y="0" font-size="9.4">(mΩ)</text></g>
<text x="285.8" y="64.3" font-size="10.4" fill="#5A90C6" stroke="#5A90C6" stroke-width="0.12"><tspan font-style="italic">θ</tspan> = 0°</text>
<text x="295.5" y="134" font-size="10.4" fill="#1F4B77" stroke="#1F4B77" stroke-width="0.12"><tspan font-style="italic">θ</tspan> = 90°</text>
<polygon points="288.4,41 301.8,45.6 330.4,38.2 330.4,39.8 301.8,47.2 288.4,42.6" fill="#7C7CB4"/>
<polygon points="288.4,41 317,34.3 330.4,38.2 301.8,45.6" fill="#9898CC"/>
<line x1="294" y1="43.8" x2="317.7" y2="38.18" stroke="#111" stroke-width="1.5"/>
<polygon points="321.4,37.3 317.72,40.43 316.71,36.15" fill="#111"/>
<line x1="294" y1="36.5" x2="318.82" y2="30.23" stroke="#D62A3C" stroke-width="1.5"/>
<polygon points="322.5,29.3 318.87,32.49 317.79,28.22" fill="#D62A3C"/>
<line x1="290.6" y1="40.5" x2="290.6" y2="30.2" stroke="#4F8FC8" stroke-width="1.5"/>
<polygon points="290.6,26.5 292.7,30.7 288.5,30.7" fill="#4F8FC8"/>
<text x="286.6" y="24.3" font-size="9.3" fill="#4F8FC8" stroke="#4F8FC8" stroke-width="0.12">P<tspan font-size="5.8" dx="0.3" dy="3.8">z</tspan></text>
<text x="310.2" y="23.8" font-size="9.3" fill="#D62A3C" stroke="#D62A3C" stroke-width="0.12">H<tspan font-size="5.8" dx="0.3" dy="3.8">x</tspan></text>
<text x="325.9" y="34.4" font-size="9.3" fill="#222" stroke="#222" stroke-width="0.12">I<tspan font-size="5.8" dx="0.3" dy="3.8">x</tspan></text>
<polygon points="340.8,119.4 353.4,128.4 382.8,117.6 382.8,119.2 353.4,130 340.8,121" fill="#7C7CB4"/>
<polygon points="340.8,119.4 368.4,113.4 382.8,117.6 353.4,128.4" fill="#9898CC"/>
<line x1="346.8" y1="123" x2="369.56" y2="116.28" stroke="#111" stroke-width="1.5"/>
<polygon points="373.2,115.2 369.7,118.53 368.45,114.31" fill="#111"/>
<line x1="355.2" y1="115.2" x2="365.03" y2="119.67" stroke="#D62A3C" stroke-width="1.6"/>
<polygon points="368.4,121.2 363.67,121.46 365.49,117.46" fill="#D62A3C"/>
<line x1="342" y1="119.4" x2="342" y2="109.9" stroke="#1F4B77" stroke-width="1.5"/>
<polygon points="342,106.2 344.1,110.4 339.9,110.4" fill="#1F4B77"/>
<text x="339.3" y="104.5" font-size="9.3" fill="#1F4B77" stroke="#1F4B77" stroke-width="0.12">P<tspan font-size="5.8" dx="0.3" dy="3.8">z</tspan></text>
<text x="375.2" y="110.5" font-size="9.3" fill="#222" stroke="#222" stroke-width="0.12">I<tspan font-size="5.8" dx="0.3" dy="3.8">x</tspan></text>
<text x="371.2" y="129.6" font-size="9.3" fill="#D62A3C" stroke="#D62A3C" stroke-width="0.12">H<tspan font-size="5.8" dx="0.3" dy="3.8">y</tspan></text>
<text x="249" y="207.8" font-size="9.5" font-weight="bold">d</text>
<polyline points="281,288.46 281.15,290.55 281.31,291.37 281.46,290.34 281.61,293.88 281.77,291.2 281.92,290.42 282.08,290.86 282.23,290.63 282.38,291.24 282.54,291.5 282.69,291.49 282.84,287.86 283,292.58 283.15,292.85 283.3,291.8 283.46,291.49 283.61,288.33 283.76,291.53 283.92,290.19 284.07,289.39 284.23,289.94 284.38,290.94 284.53,287.63 284.69,291.67 284.84,289.52 284.99,290.03 285.15,289.23 285.3,291.74 285.45,291.2 285.61,291.71 285.76,289.65 285.92,289.29 286.07,290.59 286.22,292.56 286.38,289.87 286.53,289.79 286.68,288.08 286.84,289.38 286.99,289.93 287.14,289.89 287.3,290.31 287.45,291.36 287.6,289.26 287.76,291.43 287.91,290.26 288.07,288.52 288.22,289.62 288.37,289.88 288.53,291.64 288.68,288.71 288.83,289.96 288.99,287.82 289.14,288.88 289.29,288.49 289.45,290.71 289.6,287.95 289.76,288.96 289.91,289.97 290.06,288.64 290.22,289.36 290.37,289.8 290.52,290.7 290.68,287.88 290.83,289.72 290.98,288.42 291.14,290.67 291.29,288.52 291.44,289.94 291.6,289.6 291.75,288.11 291.91,286.47 292.06,289.86 292.21,289.58 292.37,289.13 292.52,288.18 292.67,288.35 292.83,290.62 292.98,289.86 293.13,288.96 293.29,287.95 293.44,291.51 293.6,287.08 293.75,288.82 293.9,288.41 294.06,289.39 294.21,289.58 294.36,289.46 294.52,287.59 294.67,286.83 294.82,288.3 294.98,288.58 295.13,287.66 295.28,289.45 295.44,290.37 295.59,290.26 295.75,288.79 295.9,287.43 296.05,286.47 296.21,285.81 296.36,287.4 296.51,289.85 296.67,290.03 296.82,287.73 296.97,286.73 297.13,288.73 297.28,289.24 297.44,288.17 297.59,285.28 297.74,288.21 297.9,288.94 298.05,285.64 298.2,287.94 298.36,287.65 298.51,288.12 298.66,289.4 298.82,288.2 298.97,287.39 299.12,288.16 299.28,285.82 299.43,285.75 299.59,287.22 299.74,286.58 299.89,285.48 300.05,289.26 300.2,287.8 300.35,288.57 300.51,285.84 300.66,286.49 300.81,285.99 300.97,287.77 301.12,289.4 301.28,286.8 301.43,285.83 301.58,286.47 301.74,287.59 301.89,287.38 302.04,287.82 302.2,288.02 302.35,286.72 302.5,289.02 302.66,287.84 302.81,287.61 302.96,287.06 303.12,287.12 303.27,286.88 303.43,288.11 303.58,284.91 303.73,285.53 303.89,288.25 304.04,285.51 304.19,286.89 304.35,286.21 304.5,285.51 304.65,286.25 304.81,285.85 304.96,287.59 305.12,286.13 305.27,286.1 305.42,285.37 305.58,287.68 305.73,285.95 305.88,285.83 306.04,285.77 306.19,285.42 306.34,284.43 306.5,286.09 306.65,288.97 306.8,288.1 306.96,285.67 307.11,286.85 307.27,286.84 307.42,284.76 307.57,286.38 307.73,286.32 307.88,286.55 308.03,284.76 308.19,286.58 308.34,285.53 308.49,285.6 308.65,284.66 308.8,285.1 308.96,285.63 309.11,284.09 309.26,285.55 309.42,284.86 309.57,285.37 309.72,287.84 309.88,286.8 310.03,285.67 310.18,284.54 310.34,284.2 310.49,284.09 310.64,286.76 310.8,286.06 310.95,284.92 311.11,287.19 311.26,284.04 311.41,284.27 311.57,285.12 311.72,285.89 311.87,283.86 312.03,283.61 312.18,284.65 312.33,285.39 312.49,284.38 312.64,283.76 312.8,286.4 312.95,283.29 313.1,284.83 313.26,283.72 313.41,284.96 313.56,285.92 313.72,285.53 313.87,285.21 314.02,285.53 314.18,282.56 314.33,283.71 314.48,284.69 314.64,283.43 314.79,285.06 314.95,286.36 315.1,286.83 315.25,285.47 315.41,283.63 315.56,283.68 315.71,282.97 315.87,284 316.02,284.61 316.17,282.46 316.33,282.62 316.48,284.51 316.64,282.51 316.79,284.65 316.94,283.78 317.1,285.38 317.25,284.55 317.4,284.74 317.56,283.65 317.71,284.47 317.86,283.17 318.02,283.49 318.17,283.73 318.32,283.43 318.48,284.98 318.63,282.34 318.79,283.88 318.94,283.62 319.09,282.57 319.25,283.46 319.4,282.9 319.55,283.73 319.71,281.87 319.86,282.69 320.01,284.04 320.17,283.27 320.32,282.78 320.48,283.84 320.63,281.9 320.78,282.92 320.94,284.33 321.09,284.4 321.24,283.84 321.4,283.08 321.55,281.32 321.7,285.21 321.86,284.26 322.01,283.67 322.16,280.9 322.32,283.22 322.47,282.77 322.63,281.77 322.78,284.44 322.93,281.05 323.09,284.35 323.24,283.34 323.39,281.91 323.55,283.94 323.7,282.44 323.85,282.15 324.01,282.34 324.16,283.95 324.32,283.74 324.47,282.73 324.62,284.81 324.78,282.85 324.93,280.16 325.08,283.53 325.24,282.83 325.39,284.57 325.54,283.18 325.7,282.19 325.85,280.63 326,282.18 326.16,281.39 326.31,281.26 326.47,279.31 326.62,281.44 326.77,282.42 326.93,284.44 327.08,281.77 327.23,280.56 327.39,283.46 327.54,281.38 327.69,280.03 327.85,281.29 328,279.97 328.16,282.79 328.31,281.94 328.46,283.15 328.62,283.47 328.77,282.79 328.92,281.64 329.08,284.58 329.23,281.97 329.38,284.49 329.54,279.55 329.69,283.14 329.84,281.19 330,282.96 330.15,281.94 330.31,283.07 330.46,284 330.61,283.31 330.77,280.98 330.92,281.57 331.07,282.13 331.23,281.66 331.38,281.45 331.53,280.94 331.69,280.83 331.84,281.68 332,282.2 332.15,280.95 332.3,282.58 332.46,280.7 332.61,280.62 332.76,282.23 332.92,279.61 333.07,281.16 333.22,281.03 333.38,281.63 333.53,282.31 333.68,279.77 333.84,282.22 333.99,282.03 334.15,282.86 334.3,279.93 334.45,281.26 334.61,279.65 334.76,281.77 334.91,281.78 335.07,284.38 335.22,280.03 335.37,280.05 335.53,279.59 335.68,281.2 335.84,282.99 335.99,282.18 336.14,280.59 336.3,279.87 336.45,282.68 336.6,281.34 336.76,280.35 336.91,282.78 337.06,282.71 337.22,283.54 337.37,281.94 337.52,282.03 337.68,282.09 337.83,280.96 337.99,281.45 338.14,280.74 338.29,278.87 338.45,280.19 338.6,282.3 338.75,280.39 338.91,280.61 339.06,281.84 339.21,280.75 339.37,283.39 339.52,281.45 339.68,280.01 339.83,281.2 339.98,281.11 340.14,280.56 340.29,281.37 340.44,280.45 340.6,279.56 340.75,280.39 340.9,280.46 341.06,281.68 341.21,281.02 341.36,279.15 341.52,279.82 341.67,279.54 341.83,281.53 341.98,278.96 342.13,280.44 342.29,280.1 342.44,278.86 342.59,281.47 342.75,280.6 342.9,279.11 343.05,280.44 343.21,279.73 343.36,282.7 343.52,280.6 343.67,279.93 343.82,278.98 343.98,278.28 344.13,281.55 344.28,279.81 344.44,278.74 344.59,281.84 344.74,282.13 344.9,281.78 345.05,279.58 345.2,278.93 345.36,280.62 345.51,281.37 345.67,280.77 345.82,280.63 345.97,281.02 346.13,279.5 346.28,280.92 346.43,282.72 346.59,278.8 346.74,282.37 346.89,282.17 347.05,280.13 347.2,280.57 347.36,280.87 347.51,279.84 347.66,281.2 347.82,280.58 347.97,280.66 348.12,277.63 348.28,279.59 348.43,281.01 348.58,281.71 348.74,280.33 348.89,279.94 349.04,281.51 349.2,277.47 349.35,281.76 349.51,278.97 349.66,278.77 349.81,280.08 349.97,279.23 350.12,280.7 350.27,278.88 350.43,281.43 350.58,279.86 350.73,278.76 350.89,280.08 351.04,280.64 351.2,279.62 351.35,279.75 351.5,280.53 351.66,279.97 351.81,278.73 351.96,279.97 352.12,280.63 352.27,279.82 352.42,280.42 352.58,279.4 352.73,279.9 352.88,279.46 353.04,280.24 353.19,278.15 353.35,278.06 353.5,278.42 353.65,279.92 353.81,278.13 353.96,282.08 354.11,281.48 354.27,280.55 354.42,280.33 354.57,281.71 354.73,278.07 354.88,280.11 355.04,280.56 355.19,280.98 355.34,279.28 355.5,281.13 355.65,279.78 355.8,280.1 355.96,279.21 356.11,279.7 356.26,278.46 356.42,280.11 356.57,282.89 356.72,279.66 356.88,280.31 357.03,279.36 357.19,279.85 357.34,280.16 357.49,279.7 357.65,282.63 357.8,279.84 357.95,282.08 358.11,279.31 358.26,278.37 358.41,280.47 358.57,280.78 358.72,279.55 358.88,280.32 359.03,277.97 359.18,282.47 359.34,280.9 359.49,280.19 359.64,280.42 359.8,280.6 359.95,279.45 360.1,279.22 360.26,278.57 360.41,279.56 360.56,279.35 360.72,279.33 360.87,280.36 361.03,280.25 361.18,281.07 361.33,280.13 361.49,280.06 361.64,279.9 361.79,281.28 361.95,282.8 362.1,280.01 362.25,279.73 362.41,279.84 362.56,279.81 362.72,280.52 362.87,279.25 363.02,281.17 363.18,281.49 363.33,280.34 363.48,281.31 363.64,280.43 363.79,281.69 363.94,278.75 364.1,279.5 364.25,279.32 364.4,280.22 364.56,277.2 364.71,280.78 364.87,280.56 365.02,280.93 365.17,282.8 365.33,279.92 365.48,279.74 365.63,281.96 365.79,278.46 365.94,279.33 366.09,280.58 366.25,281.28 366.4,279.92 366.56,280.69 366.71,279.93 366.86,281.33 367.02,280.6 367.17,281.15 367.32,279.21 367.48,278.75 367.63,279.66 367.78,279.64 367.94,279.92 368.09,280.45 368.24,279.87 368.4,280.82 368.55,279.72 368.71,279.18 368.86,279.44 369.01,278.81 369.17,280.11 369.32,279.45 369.47,280.68 369.63,279.86 369.78,281.42 369.93,280.42 370.09,278.27 370.24,282.8 370.4,279.54 370.55,280.85 370.7,279.62 370.86,280.15 371.01,279.73 371.16,280.87 371.32,279.59 371.47,279.86 371.62,280.94 371.78,280.1 371.93,281.48 372.08,282.8 372.24,278.84 372.39,275.28 372.55,280.38 372.7,281.66 372.85,280.76 373.01,278.5 373.16,278.56 373.31,281.45 373.47,281.5 373.62,280.57 373.77,280.25 373.93,278.36 374.08,280.87 374.24,280.4 374.39,280.31 374.54,280.13 374.7,277.9 374.85,280.27 375,279.47 375.16,280.74 375.31,280.75 375.46,279.9 375.62,278.68 375.77,280.32 375.92,280.39 376.08,282.03 376.23,280.52 376.39,280.27 376.54,280.11 376.69,281.7 376.85,280.51 377,280.59 377.15,278.88 377.31,281.38 377.46,279.82 377.61,281.22 377.77,280.72 377.92,281.88 378.08,279.84 378.23,279.55 378.38,280.34 378.54,281.77 378.69,278.9 378.84,280.03 379,280.93 379.15,279.43 379.3,280.03 379.46,279.27 379.61,278.81 379.76,280.86 379.92,279.13 380.07,280.7 380.23,278.98 380.38,281.69 380.53,281.13 380.69,281.82 380.84,280.47 380.99,280.26 381.15,280.09 381.3,279.5 381.45,277.62 381.61,278.97 381.76,280.9 381.92,279.37 382.07,279.64 382.22,280.29 382.38,279.48 382.53,280.4 382.68,280.51 382.84,278.78 382.99,279.58 383.14,279.35 383.3,279.02 383.45,280.6 383.6,277.66 383.76,278.48 383.91,279.02 384.07,280.49 384.22,279.44 384.37,279.42 384.53,280.6 384.68,278.72 384.83,278.1 384.99,279.03 385.14,278.85 385.29,279.27 385.45,277.07 385.6,279.12 385.76,278.01 385.91,279.9 386.06,279.91 386.22,278.93 386.37,276.24 386.52,278.22 386.68,277.76 386.83,278.96 386.98,278.3 387.14,278.85 387.29,279.2 387.44,278.18 387.6,277.28 387.75,278.1 387.91,280.89 388.06,277.52 388.21,276.12 388.37,279.39 388.52,277.62 388.67,279.01 388.83,277.22 388.98,277.16 389.13,277.53 389.29,276.4 389.44,280.83 389.6,276.73 389.75,278.29 389.9,278.72 390.06,278.83 390.21,277.29 390.36,278.2 390.52,277.97 390.67,278.28 390.82,277.05 390.98,278.86 391.13,279.05 391.28,275.32 391.44,275.67 391.59,278.27 391.75,278.9 391.9,276.83 392.05,277.39 392.21,277.13 392.36,278.75 392.51,277.75 392.67,279.34 392.82,277.08 392.97,278.54 393.13,276.56 393.28,277.07 393.44,275.84 393.59,277.45 393.74,279.93 393.9,275.77 394.05,277.76 394.2,277.25 394.36,277.61 394.51,277.78 394.66,275.61 394.82,277.02 394.97,278.13 395.12,277.57 395.28,277.7 395.43,276.81 395.59,276.35 395.74,276.03 395.89,277.15 396.05,276.63 396.2,277.75 396.35,275.04 396.51,276.09 396.66,275.84 396.81,275.05 396.97,275.97 397.12,277.4 397.28,276.45 397.43,276.84 397.58,277.65 397.74,275.52 397.89,276.3 398.04,274.78 398.2,277.7 398.35,276.51 398.5,274.54 398.66,278.36 398.81,275.97 398.96,277.91 399.12,276.2 399.27,275.4 399.43,274.88 399.58,276.29 399.73,275.42 399.89,277.37 400.04,276.61 400.19,275.78 400.35,274.11 400.5,274.89 400.65,274.69 400.81,275 400.96,275.18 401.12,274.51 401.27,276.3 401.42,276.43 401.58,272.51 401.73,276.83 401.88,276.31 402.04,275.64 402.19,274.32 402.34,274.63 402.5,275.59 402.65,275.93 402.8,275.9 402.96,276.21 403.11,275.27 403.27,273.55 403.42,274.32 403.57,275.34 403.73,279.93 403.88,274.73 404.03,274.52 404.19,275.34 404.34,273.98 404.49,274.75 404.65,275.69 404.8,274.05 404.96,274.24 405.11,274.84 405.26,274.58 405.42,275.79 405.57,273.11 405.72,275.84 405.88,276.68 406.03,273.21 406.18,272.04 406.34,274.08 406.49,277.5 406.64,274.83 406.8,274.42 406.95,275.38 407.11,275.71 407.26,274.42 407.41,275.03 407.57,274.21 407.72,274.36 407.87,275.06 408.03,273.98 408.18,275.6 408.33,274.83 408.49,273.01 408.64,275.45 408.8,273.6 408.95,274.83 409.1,272.99 409.26,273.18 409.41,272.48 409.56,273.42 409.72,275.74 409.87,272.81 410.02,275.13 410.18,273.58 410.33,275.71 410.48,273.04 410.64,273.66 410.79,271.4 410.95,272.46 411.1,273.23 411.25,272.52 411.41,276.52 411.56,274.38 411.71,272.09 411.87,272.74 412.02,271.91 412.17,273.33 412.33,273.37 412.48,274.06 412.64,274.45 412.79,274.35 412.94,271.39 413.1,273.72 413.25,272.66 413.4,275.44 413.56,272.05 413.71,273.5 413.86,272.56 414.02,273.76 414.17,272.15 414.32,274.75 414.48,273.06 414.63,273.68 414.79,274.5 414.94,272.95 415.09,271.42 415.25,272.78 415.4,273.03 415.55,275.24 415.71,270.85 415.86,273.58 416.01,271.88 416.17,273.08 416.32,272.94 416.48,271.1 416.63,272.75 416.78,273.29 416.94,273.05 417.09,273.84 417.24,273.64 417.4,272.48 417.55,271.26 417.7,270.82 417.86,271.99 418.01,272.41 418.16,271.87 418.32,274.38 418.47,272.11 418.63,271.35 418.78,271.14 418.93,271.16 419.09,272.56 419.24,274.75 419.39,271.71 419.55,270.74 419.7,272.03 419.85,272.08 420.01,272.16 420.16,271.15 420.32,273.26 420.47,270.75 420.62,270.53 420.78,270.58 420.93,271.85 421.08,275.5 421.24,270.25 421.39,270.09 421.54,271.71 421.7,271.27 421.85,270.63 422,272.1 422.16,272.28 422.31,269.51 422.47,270.96 422.62,270.3 422.77,272.27 422.93,271.82 423.08,271.15 423.23,269 423.39,273.66 423.54,269.93 423.69,269.7 423.85,272.61 424,273.98 424.16,271 424.31,271.32 424.46,272.12 424.62,270.85 424.77,272.55 424.92,271.31 425.08,270.8 425.23,269.44 425.38,270.71 425.54,271.4 425.69,273.18 425.84,272.12 426,272.7 426.15,271.56 426.31,268.96 426.46,272.51 426.61,270.25 426.77,270.39 426.92,270.63 427.07,272.75 427.23,270.18 427.38,271.93 427.53,270.44 427.69,270.62 427.84,269.08 428,270.8 428.15,270.77 428.3,271.38 428.46,268.74 428.61,270.62 428.76,268.88 428.92,268.57 429.07,269.79 429.22,268.73 429.38,270.29 429.53,269.06 429.68,266.79 429.84,271.34 429.99,268.99 430.15,268.45 430.3,269.35 430.45,269.45 430.61,271.19 430.76,269.84 430.91,270.06 431.07,268.12 431.22,269.14 431.37,268.87 431.53,271.67 431.68,268.68 431.84,268.58 431.99,269.35 432.14,270.55 432.3,269.4 432.45,268.85 432.6,270.87 432.76,271.22 432.91,270.78 433.06,269.32 433.22,268.54 433.37,269.2 433.52,267.2 433.68,270.63 433.83,270.08 433.99,267.33 434.14,267.56 434.29,269.03 434.45,269.24 434.6,269.81" fill="none" stroke="#D9696B" stroke-width="1.3"/>
<polyline points="281.2,227.59 281.31,217.3 281.42,221.18 281.53,211.97 281.64,220.15 281.75,215.9 281.86,222.51 281.97,220.34 282.08,218.48 282.19,227.73 282.3,220.18 282.41,220.31 282.51,223.89 282.62,221.57 282.73,226.29 282.84,220.53 282.95,223.89 283.06,220.09 283.17,224.03 283.28,222.45 283.39,217.49 283.5,223.68 283.61,217.34 283.72,220.89 283.83,219.24 283.94,224.12 284.05,225.72 284.16,229.45 284.27,222.96 284.38,219.11 284.49,223.09 284.6,219.36 284.71,228.22 284.82,231.75 284.93,220.05 285.03,223.24 285.14,227.08 285.25,220.87 285.36,223.14 285.47,221.07 285.58,224.58 285.69,229.36 285.8,225.53 285.91,228.65 286.02,226.45 286.13,226.05 286.24,227.9 286.35,225.89 286.46,230.86 286.57,224.45 286.68,227.44 286.79,226.39 286.9,226.72 287.01,223.56 287.12,224.23 287.23,229.78 287.34,223.94 287.45,226.47 287.56,230.6 287.66,225.96 287.77,234.72 287.88,224.02 287.99,227.65 288.1,228.55 288.21,226.02 288.32,230.18 288.43,227.08 288.54,228.27 288.65,232.39 288.76,232.01 288.87,223.59 288.98,232.02 289.09,231.92 289.2,229.33 289.31,235.27 289.42,230.14 289.53,226.34 289.64,227.74 289.75,234 289.86,230.55 289.97,228.93 290.08,226.42 290.18,222.51 290.29,234.38 290.4,235.34 290.51,233.61 290.62,232.29 290.73,232.81 290.84,238.43 290.95,227.73 291.06,234.25 291.17,225.18 291.28,227.67 291.39,234.49 291.5,235.06 291.61,234.11 291.72,231.9 291.83,225.95 291.94,232.48 292.05,225.75 292.16,237.8 292.27,230.64 292.38,235.57 292.49,232.61 292.6,231.77 292.7,231.46 292.81,234.86 292.92,235.22 293.03,235.26 293.14,233.78 293.25,230.32 293.36,241.2 293.47,238.07 293.58,234.5 293.69,236.97 293.8,233.19 293.91,231.31 294.02,234.2 294.13,240.13 294.24,238.71 294.35,235.08 294.46,232.31 294.57,237.47 294.68,236.09 294.79,235.07 294.9,236.44 295.01,237.59 295.12,238.09 295.23,233.05 295.33,232.77 295.44,243.2 295.55,233.59 295.66,236.55 295.77,236.6 295.88,237.76 295.99,233.94 296.1,237.77 296.21,231.62 296.32,241.05 296.43,230.97 296.54,234.15 296.65,232.5 296.76,237.91 296.87,240.28 296.98,245.18 297.09,238.76 297.2,235.86 297.31,238.96 297.42,236.07 297.53,235.57 297.64,240.01 297.75,240.31 297.85,240.76 297.96,241.14 298.07,246.05 298.18,237.62 298.29,237.19 298.4,235.52 298.51,245.73 298.62,237.28 298.73,240.2 298.84,235.24 298.95,240.17 299.06,238.42 299.17,238.61 299.28,243.51 299.39,242.74 299.5,241.6 299.61,241.42 299.72,240.22 299.83,235.24 299.94,241.91 300.05,239.7 300.16,239.72 300.27,242.47 300.38,243.9 300.48,240.38 300.59,240.34 300.7,243.44 300.81,238.26 300.92,241.05 301.03,240.84 301.14,243.22 301.25,240.6 301.36,236.03 301.47,243.24 301.58,240.12 301.69,235.94 301.8,242.05 301.91,239.59 302.02,245.73 302.13,242.85 302.24,238.65 302.35,240.44 302.46,239.22 302.57,243.19 302.68,243.62 302.79,243.98 302.9,248.03 303,245.41 303.11,238.38 303.22,240.73 303.33,246.59 303.44,249.99 303.55,243.6 303.66,245.5 303.77,247.2 303.88,250 303.99,245.29 304.1,246.66 304.21,247.31 304.32,246.82 304.43,248.27 304.54,246.5 304.65,247.18 304.76,244.68 304.87,247.04 304.98,249.91 305.09,246.91 305.2,244.32 305.31,246.32 305.42,245.74 305.52,244.98 305.63,247.23 305.74,245.55 305.85,248.06 305.96,243.84 306.07,244.68 306.18,243.93 306.29,249.08 306.4,243.55 306.51,246.99 306.62,253.77 306.73,246.12 306.84,246.45 306.95,250.95 307.06,253.28 307.17,244.88 307.28,241.33 307.39,244.21 307.5,249.14 307.61,243.38 307.72,245.34 307.83,246.55 307.94,247 308.05,251.54 308.15,244.54 308.26,252.33 308.37,246.56 308.48,253.08 308.59,252.78 308.7,246.66 308.81,248.58 308.92,252.71 309.03,247.47 309.14,257.71 309.25,246.4 309.36,248.31 309.47,244.85 309.58,254.48 309.69,247.49 309.8,250.66 309.91,251.95 310.02,254.16 310.13,250.29 310.24,252.68 310.35,250.63 310.46,250.84 310.57,248.69 310.67,247.86 310.78,248.07 310.89,252.12 311,251.22 311.11,253.64 311.22,249.01 311.33,250.61 311.44,247.54 311.55,255.74 311.66,248.76 311.77,252.12 311.88,255.12 311.99,249.84 312.1,252.54 312.21,250.29 312.32,252.55 312.43,245.96 312.54,249.7 312.65,245.69 312.76,247.39 312.87,252.3 312.98,254.18 313.09,251.41 313.19,253.65 313.3,246.84 313.41,254 313.52,253.16 313.63,251.23 313.74,250.91 313.85,252.93 313.96,250.24 314.07,251.09 314.18,250.57 314.29,255.85 314.4,247.08 314.51,247.12 314.62,253.51 314.73,246.33 314.84,246.74 314.95,250.38 315.06,249.07 315.17,256.19 315.28,250.61 315.39,250.07 315.5,255.82 315.61,254.5 315.71,251.56 315.82,254.51 315.93,251.52 316.04,249.53 316.15,252.49 316.26,257.53 316.37,258.13 316.48,249.17 316.59,251.41 316.7,248.89 316.81,252.53 316.92,255.07 317.03,250.34 317.14,252.56 317.25,257.16 317.36,260.78 317.47,252.22 317.58,254.7 317.69,255.13 317.8,252.13 317.91,253.29 318.02,259.34 318.13,249.56 318.24,257.87 318.34,255.21 318.45,255.4 318.56,255.94 318.67,258.74 318.78,256.9 318.89,251.04 319,258.33 319.11,253.21 319.22,262.07 319.33,251.65 319.44,257.66 319.55,257.69 319.66,253.09 319.77,255.57 319.88,250.79 319.99,253.28 320.1,256.95 320.21,256.89 320.32,257.09 320.43,258.5 320.54,260.61 320.65,259.56 320.76,260.85 320.86,258.58 320.97,255.55 321.08,263.91 321.19,260.2 321.3,252.69 321.41,258.76 321.52,258.95 321.63,260.59 321.74,259.97 321.85,253.27 321.96,252.09 322.07,252.29 322.18,254.89 322.29,258.72 322.4,260.99 322.51,260.63 322.62,257.47 322.73,258.17 322.84,257.82 322.95,254.89 323.06,257.35 323.17,263.99 323.28,260.5 323.38,256.47 323.49,256.94 323.6,256.84 323.71,258.82 323.82,258.57 323.93,261.42 324.04,256.32 324.15,261.04 324.26,260.24 324.37,256.71 324.48,263.33 324.59,255.43 324.7,254.38 324.81,264.88 324.92,259.01 325.03,254.71 325.14,254.11 325.25,255.26 325.36,257.15 325.47,259.48 325.58,263.16 325.69,262.37 325.8,262.25 325.91,263.08 326.01,258.2 326.12,262.24 326.23,264.6 326.34,262.49 326.45,265.57 326.56,260.54 326.67,257.29 326.78,260.35 326.89,258.83 327,260.98 327.11,263.4 327.22,263.98 327.33,258.9 327.44,260.61 327.55,259.04 327.66,257.27 327.77,258.65 327.88,265.8 327.99,261.52 328.1,256.77 328.21,261.25 328.32,267.09 328.43,262.09 328.53,258.73 328.64,265.62 328.75,262.39 328.86,264.58 328.97,260.53 329.08,259.97 329.19,263.49 329.3,267.47 329.41,261.04 329.52,259.94 329.63,262.78 329.74,259.12 329.85,259.34 329.96,259.4 330.07,261.45 330.18,259.73 330.29,264.04 330.4,265.41 330.51,265.38 330.62,263.48 330.73,260.79 330.84,263.62 330.95,258.81 331.06,265.61 331.16,262.88 331.27,264.23 331.38,260.68 331.49,267.01 331.6,268.47 331.71,262.02 331.82,264.56 331.93,263.68 332.04,260.96 332.15,262.65 332.26,266.7 332.37,264.7 332.48,268.33 332.59,266.24 332.7,262.49 332.81,268.79 332.92,263.73 333.03,265.83 333.14,267.11 333.25,265.43 333.36,270.98 333.47,266.65 333.58,272.5 333.68,271.72 333.79,268.47 333.9,265.32 334.01,266.74 334.12,269.14 334.23,269.3 334.34,271.35 334.45,263.18 334.56,264.2 334.67,263.94 334.78,267.17 334.89,267.55 335,268.85 335.11,263.15 335.22,267.84 335.33,264.23 335.44,266.21 335.55,268.44 335.66,264.22 335.77,268.78 335.88,270.25 335.99,265.37 336.1,264.22 336.2,262.49 336.31,268.26 336.42,270.99 336.53,268.33 336.64,270.53 336.75,266.84 336.86,264.42 336.97,270.81 337.08,263.09 337.19,269.96 337.3,267.17 337.41,268.99 337.52,274.25 337.63,263.17 337.74,273.44 337.85,272.65 337.96,268.9 338.07,271.34 338.18,267.15 338.29,268.36 338.4,265.19 338.51,268.67 338.62,270.63 338.73,270.19 338.83,266.22 338.94,270.52 339.05,268.06 339.16,272.46 339.27,273.88 339.38,271.63 339.49,270.87 339.6,270.31 339.71,272.17 339.82,268.09 339.93,269.82 340.04,273.05 340.15,271.98 340.26,266.36 340.37,267.93 340.48,265.32 340.59,271.43 340.7,267.24 340.81,270.53 340.92,272.5 341.03,272.6 341.14,272.55 341.25,272.11 341.35,273.09 341.46,273.38 341.57,268.83 341.68,263.84 341.79,269.17 341.9,274.32 342.01,274.02 342.12,266.79 342.23,274.84 342.34,267.28 342.45,264.77 342.56,275.57 342.67,270.03 342.78,275.91 342.89,267.81 343,269.75 343.11,271.93 343.22,273.12 343.33,269.77 343.44,272.19 343.55,273.74 343.66,269.58 343.77,272.38 343.87,272.26 343.98,274.78 344.09,267.78 344.2,272.32 344.31,276.11 344.42,271.1 344.53,272.51 344.64,273.26 344.75,277 344.86,276.4 344.97,275.09 345.08,268.02 345.19,273.28 345.3,277.37 345.41,272.35 345.52,278.64 345.63,279.17 345.74,274.1 345.85,273.01 345.96,268.15 346.07,272.94 346.18,271.04 346.29,267.83 346.39,269.11 346.5,269.08 346.61,269.55 346.72,278.06 346.83,271.12 346.94,272.45 347.05,275.7 347.16,271.53 347.27,276.1 347.38,279.01 347.49,268.11 347.6,271.91 347.71,277.23 347.82,275.34 347.93,276 348.04,279.01 348.15,272.66 348.26,272.89 348.37,276.81 348.48,275.52 348.59,277.15 348.7,278.3 348.81,272.35 348.92,278.69 349.02,281.51 349.13,277.73 349.24,274.37 349.35,275.18 349.46,275.46 349.57,272.74 349.68,275.1 349.79,271.21 349.9,274.94 350.01,274.68 350.12,276.83 350.23,273.53 350.34,275.02 350.45,273.76 350.56,273.95 350.67,277.04 350.78,274.69 350.89,269.07 351,281.42 351.11,276.08 351.22,271.77 351.33,275.22 351.44,271.48 351.54,272.09 351.65,275.1 351.76,276.38 351.87,278.58 351.98,273.04 352.09,282.43 352.2,275.73 352.31,274.8 352.42,271.8 352.53,275.83 352.64,272.21 352.75,277.23 352.86,282.43 352.97,277.17 353.08,271.96 353.19,277.12 353.3,279.91 353.41,277.99 353.52,278.66 353.63,284.18 353.74,280.74 353.85,277.94 353.96,276.15 354.06,283.99 354.17,277.34 354.28,273.77 354.39,280.44 354.5,273 354.61,274.47 354.72,282.91 354.83,274.52 354.94,277.7 355.05,278.04 355.16,281.54 355.27,277.62 355.38,271.45 355.49,276.69 355.6,279.7 355.71,275.4 355.82,279.69 355.93,278.95 356.04,281.07 356.15,274.34 356.26,276.3 356.37,278.62 356.48,277.17 356.59,281 356.69,278.07 356.8,280.45 356.91,278.96 357.02,278.16 357.13,280.53 357.24,278.8 357.35,275.97 357.46,273.51 357.57,285 357.68,282.84 357.79,282.53 357.9,278.94 358.01,278.27 358.12,279.76 358.23,279.34 358.34,280.3 358.45,278.94 358.56,281.96 358.67,279.4 358.78,279.91 358.89,281.72 359,278.69 359.11,281.86 359.21,280.87 359.32,278.51 359.43,285.32 359.54,281.01 359.65,287.79 359.76,284.32 359.87,279.81 359.98,286.64 360.09,284.15 360.2,280.75 360.31,282.37 360.42,277.53 360.53,285.25 360.64,285.78 360.75,278.78 360.86,283.86 360.97,275.66 361.08,285.44 361.19,282.96 361.3,283.64 361.41,282.75 361.52,277.95 361.63,284.53 361.74,284.47 361.84,286.59 361.95,283.43 362.06,278.45 362.17,286.57 362.28,279.47 362.39,281.81 362.5,286.23 362.61,282.97 362.72,281.79 362.83,284.78 362.94,276.72 363.05,287.06 363.16,283.91 363.27,284.23 363.38,280.01 363.49,280.66 363.6,283.07 363.71,282.42 363.82,279.43 363.93,279.65 364.04,278.85 364.15,282.23 364.26,282.81 364.36,285.36 364.47,285.81 364.58,283.71 364.69,282.69 364.8,288.83 364.91,284.19 365.02,286.83 365.13,284.56 365.24,286.01 365.35,286.07 365.46,282.67 365.57,286.58 365.68,286.52 365.79,278.35 365.9,285.64 366.01,285.76 366.12,286.25 366.23,284.05 366.34,284.14 366.45,284.99 366.56,280.52 366.67,281.52 366.78,283.92 366.88,286.76 366.99,284.4 367.1,283.39 367.21,286.16 367.32,287.64 367.43,288.28 367.54,283.25 367.65,284.54 367.76,285.72 367.87,284.73 367.98,286.36 368.09,287.43 368.2,283.82 368.31,285.28 368.42,286.46 368.53,286.82 368.64,283.89 368.75,283.29 368.86,279.76 368.97,287.58 369.08,284.73 369.19,283.08 369.3,283.78 369.41,286.59 369.51,285 369.62,291.09 369.73,282.56 369.84,284.09 369.95,287.63 370.06,282.1 370.17,285.34 370.28,289.83 370.39,287.08 370.5,288.31 370.61,283.64 370.72,286.11 370.83,290.71 370.94,286.88 371.05,287.76 371.16,291.11 371.27,289.85 371.38,288.61 371.49,289.35 371.6,283.45 371.71,291.34 371.82,289.29 371.93,288.45 372.03,287.08 372.14,290.42 372.25,291 372.36,288.82 372.47,290.42 372.58,290.48 372.69,290.98 372.8,285.71 372.91,292.25 373.02,288.77 373.13,296.31 373.24,287.36 373.35,288.19 373.46,291.19 373.57,293.39 373.68,290.6 373.79,291.21 373.9,285.08 374.01,292.6 374.12,290.4 374.23,283.02 374.34,290.74 374.45,286.38 374.55,285.04 374.66,285 374.77,293.26 374.88,291.35 374.99,291.62 375.1,287.43 375.21,290.87 375.32,289.81 375.43,292.58 375.54,290.36 375.65,290.26 375.76,294.54 375.87,294.65 375.98,292.5 376.09,291.23 376.2,290.48 376.31,296.22 376.42,290.34 376.53,297.5 376.64,285.03 376.75,292.96 376.86,291.03 376.97,289.26 377.07,291.7 377.18,285.17 377.29,288.74 377.4,291.14 377.51,288.7 377.62,295.25 377.73,290.28 377.84,291.31 377.95,292.28 378.06,289.75 378.17,294.54 378.28,291.76 378.39,298.03 378.5,294.73 378.61,292.3 378.72,293.51 378.83,293.69 378.94,297.68 379.05,298.07 379.16,293.8 379.27,298.66 379.38,293.32 379.49,290.33 379.6,292.23 379.7,294.47 379.81,292.4 379.92,294.74 380.03,295.22 380.14,295.12 380.25,291.74 380.36,293.02 380.47,290.64 380.58,291.38 380.69,297.68 380.8,293.04 380.91,294.42 381.02,291.68 381.13,297 381.24,296.01 381.35,298.32 381.46,291.17 381.57,296.75 381.68,296 381.79,295.72 381.9,299.83 382.01,293.89 382.12,292.67 382.22,294.95 382.33,297.83 382.44,294 382.55,294.55 382.66,293.33 382.77,299.52 382.88,300.07 382.99,294.95 383.1,302.35 383.21,300.44 383.32,297.91 383.43,292.18 383.54,293.16 383.65,295.58 383.76,297.42 383.87,296.93 383.98,298.6 384.09,292.13 384.2,298.88 384.31,293.09 384.42,291.32 384.53,298.79 384.64,294.39 384.75,296.76 384.85,294.63 384.96,299.57 385.07,297.62 385.18,297.2 385.29,296.56 385.4,299.42 385.51,297.57 385.62,301.77 385.73,298.93 385.84,302.51 385.95,301.72 386.06,299.28 386.17,293.17 386.28,300.35 386.39,295.3 386.5,298.31 386.61,298.92 386.72,296.89 386.83,298.68 386.94,298.31 387.05,299.11 387.16,295.15 387.27,296.63 387.37,299.59 387.48,294.98 387.59,299.56 387.7,295.88 387.81,298.29 387.92,300.22 388.03,296.28 388.14,297.61 388.25,302.12 388.36,297.6 388.47,299.26 388.58,305.67 388.69,303.82 388.8,300.72 388.91,295.74 389.02,299.7 389.13,299.27 389.24,300.04 389.35,297.92 389.46,294.47 389.57,301.71 389.68,300.28 389.79,298.79 389.89,298.36 390,298.95 390.11,301.76 390.22,296.74 390.33,303.24 390.44,296.06 390.55,294 390.66,300.49 390.77,301.85 390.88,300.35 390.99,297.27 391.1,299.33 391.21,297.76 391.32,299.31 391.43,299.99 391.54,301.01 391.65,298.45 391.76,298.42 391.87,298.57 391.98,296 392.09,304.32 392.2,303.74 392.31,301.4 392.42,299.98 392.52,303.47 392.63,307.93 392.74,298.28 392.85,305.98 392.96,305.01 393.07,304.02 393.18,300.68 393.29,303.83 393.4,298.32 393.51,296.56 393.62,306.86 393.73,304.52 393.84,300.61 393.95,303.07 394.06,297.73 394.17,298.01 394.28,305.73 394.39,302.64 394.5,301.02 394.61,300.55 394.72,298.52 394.83,300.6 394.94,300.78 395.04,305.2 395.15,299.8 395.26,303.04 395.37,304.22 395.48,305.18 395.59,306.39 395.7,303.65 395.81,307.52 395.92,303.23 396.03,304.63 396.14,304.35 396.25,303.51 396.36,304.35 396.47,306.33 396.58,304.13 396.69,300.78 396.8,306.12 396.91,301.68 397.02,305.08 397.13,303.91 397.24,302.52 397.35,303.54 397.46,307.1 397.56,302.55 397.67,303.5 397.78,306.76 397.89,300.44 398,302.4 398.11,304.92 398.22,300.45 398.33,305.21 398.44,304.1 398.55,304.3 398.66,305.86 398.77,299.56 398.88,302.92 398.99,306.29 399.1,305.32 399.21,307.84 399.32,304.86 399.43,308.69 399.54,308.77 399.65,305.43 399.76,304.64 399.87,307.69 399.98,301.34 400.09,307.16 400.19,305.68 400.3,304.43 400.41,307.44 400.52,302.71 400.63,306.05 400.74,307.6 400.85,301.06 400.96,301.21 401.07,306.13 401.18,307.85 401.29,307.85 401.4,308.98 401.51,308.39 401.62,309.62 401.73,310.49 401.84,309.34 401.95,304.42 402.06,310.42 402.17,311.67 402.28,302.08 402.39,311.56 402.5,309.92 402.61,309.45 402.71,306.88 402.82,307.11 402.93,303.34 403.04,306.55 403.15,307.52 403.26,308.89 403.37,306.25 403.48,311.23 403.59,313.53 403.7,308.34 403.81,305.83 403.92,304.22 404.03,310.5 404.14,307.13 404.25,301.26 404.36,310.41 404.47,311.4 404.58,308.66 404.69,310.85 404.8,308.3 404.91,311.61 405.02,314.28 405.13,311.4 405.23,312.15 405.34,309.52 405.45,304.79 405.56,308.67 405.67,313.95 405.78,316.26 405.89,311.28 406,301.37 406.11,304.44 406.22,311.94 406.33,313.51 406.44,312.22 406.55,310.67 406.66,309.45 406.77,310.23 406.88,313.39 406.99,310.94 407.1,303.89 407.21,307.19 407.32,308.98 407.43,310.09 407.54,312.94 407.65,315.59 407.75,308.85 407.86,309.3 407.97,308.91 408.08,308.9 408.19,316.44 408.3,316.87 408.41,313.2 408.52,310.83 408.63,307.89 408.74,310.45 408.85,311.57 408.96,308.41 409.07,308.02 409.18,311.26 409.29,309.71 409.4,310.14 409.51,311.03 409.62,314.37 409.73,312.73 409.84,310.63 409.95,313.85 410.06,314.4 410.17,313.69 410.28,316.74 410.38,313.93 410.49,314.08 410.6,306.34 410.71,312.94 410.82,312.1 410.93,311.53 411.04,314.12 411.15,315.31 411.26,311.2 411.37,316.67 411.48,316.47 411.59,310.71 411.7,319.22 411.81,319.01 411.92,316.89 412.03,315.66 412.14,317.65 412.25,317.3 412.36,311.56 412.47,313.38 412.58,318.26 412.69,318.13 412.8,312.27 412.9,317.71 413.01,309.58 413.12,314.19 413.23,315.33 413.34,317.99 413.45,315.99 413.56,314.01 413.67,312.14 413.78,313.44 413.89,313.56 414,318.99 414.11,316.42 414.22,318.18 414.33,323.33 414.44,315.27 414.55,322.95 414.66,313.14 414.77,317.46 414.88,318.16 414.99,319.67 415.1,317.94 415.21,318.49 415.32,320.21 415.43,323.04 415.53,315.5 415.64,321.07 415.75,322.7 415.86,318.4 415.97,318.03 416.08,323.25 416.19,322.37 416.3,321.54 416.41,319.36 416.52,319.71 416.63,317.73 416.74,316.23 416.85,317.16 416.96,319.69 417.07,317.98 417.18,321.72 417.29,319.76 417.4,324.88 417.51,316.25 417.62,320.13 417.73,318.36 417.84,312 417.95,322.96 418.05,320.94 418.16,321.72 418.27,321.04 418.38,317.45 418.49,319.45 418.6,317.9 418.71,324.52 418.82,324.54 418.93,319.67 419.04,321.58 419.15,319.2 419.26,320.42 419.37,322.61 419.48,323.02 419.59,323.99 419.7,324.84 419.81,320.78 419.92,318.36 420.03,320.54 420.14,319.94 420.25,324.59 420.36,320.04 420.47,327.18 420.57,318.01 420.68,324.33 420.79,322.83 420.9,320.46 421.01,321.24 421.12,329.49 421.23,323.08 421.34,322.82 421.45,321.13 421.56,320.45 421.67,329.81 421.78,328.44 421.89,321.04 422,327.42 422.11,329.04 422.22,327.24 422.33,323.42 422.44,316.11 422.55,321.24 422.66,320.7 422.77,320.43 422.88,327.78 422.99,325.94 423.1,325.84 423.2,328.07 423.31,327.08 423.42,329.66 423.53,327.52 423.64,327.15 423.75,320.57 423.86,322.85 423.97,320.84 424.08,331.25 424.19,327.35 424.3,325.03 424.41,323.47 424.52,324.81 424.63,328.37 424.74,333.45 424.85,325.87 424.96,327.65 425.07,326.51 425.18,335.73 425.29,325.73 425.4,330.76 425.51,334.15 425.62,332.96 425.72,328.53 425.83,330.65 425.94,328.33 426.05,334.73 426.16,332.13 426.27,329.14 426.38,330.73 426.49,330.82 426.6,324.45 426.71,328.43 426.82,326.02 426.93,334.08 427.04,331.57 427.15,334.18 427.26,331.51 427.37,328.52 427.48,326.44 427.59,329.02 427.7,334.23 427.81,333.54 427.92,330.74 428.03,333.8 428.14,322.39 428.24,331.31 428.35,334.63 428.46,340 428.57,331.48 428.68,333.28 428.79,334.54 428.9,331.07 429.01,329.42 429.12,330.92 429.23,333.07 429.34,335.69 429.45,340.43 429.56,334.04 429.67,338.14 429.78,334.37 429.89,330.82 430,333.34 430.11,337.94 430.22,334.38 430.33,331.87 430.44,337.1 430.55,335.05 430.66,335.91 430.77,331.2 430.87,330.16 430.98,342.62 431.09,334.87 431.2,337.05 431.31,336.36 431.42,338.29 431.53,337.4 431.64,341.12 431.75,341.77 431.86,335.74 431.97,339.2 432.08,336.01 432.19,337.58 432.3,337.76 432.41,341.14 432.52,333.27 432.63,341.29 432.74,332.87 432.85,334.25 432.96,337.7 433.07,338.73 433.18,339.76 433.29,339.26 433.39,340.37 433.5,338.14 433.61,337.02 433.72,338.38 433.83,341.97 433.94,338.63 434.05,338.83 434.16,346.63 434.27,341.58 434.38,337.39 434.49,341.62 434.6,337.09" fill="none" stroke="#8E1A2C" stroke-width="1"/>
<rect x="276.2" y="212.4" width="163.3" height="135.8" fill="none" stroke="#000" stroke-width="1.2"/>
<line x1="276.2" y1="216.3" x2="278.8" y2="216.3" stroke="#000" stroke-width="1.1"/>
<text x="273.1" y="219.6" font-size="9.8" text-anchor="end" fill="#1a1a1a" textLength="10.68" lengthAdjust="spacingAndGlyphs" stroke="#1a1a1a" stroke-width="0.12">16</text>
<line x1="276.2" y1="248.3" x2="278.8" y2="248.3" stroke="#000" stroke-width="1.1"/>
<text x="273.1" y="251.6" font-size="9.8" text-anchor="end" fill="#1a1a1a" textLength="5.34" lengthAdjust="spacingAndGlyphs" stroke="#1a1a1a" stroke-width="0.12">8</text>
<line x1="276.2" y1="280.35" x2="278.8" y2="280.35" stroke="#000" stroke-width="1.1"/>
<text x="273.1" y="283.65" font-size="9.8" text-anchor="end" fill="#1a1a1a" textLength="5.34" lengthAdjust="spacingAndGlyphs" stroke="#1a1a1a" stroke-width="0.12">0</text>
<line x1="276.2" y1="312.35" x2="278.8" y2="312.35" stroke="#000" stroke-width="1.1"/>
<text x="273.1" y="315.65" font-size="9.8" text-anchor="end" fill="#1a1a1a" textLength="8.54" lengthAdjust="spacingAndGlyphs" stroke="#1a1a1a" stroke-width="0.12">-8</text>
<line x1="276.2" y1="344.4" x2="278.8" y2="344.4" stroke="#000" stroke-width="1.1"/>
<text x="273.1" y="347.7" font-size="9.8" text-anchor="end" fill="#1a1a1a" textLength="13.88" lengthAdjust="spacingAndGlyphs" stroke="#1a1a1a" stroke-width="0.12">-16</text>
<line x1="292.9" y1="348.2" x2="292.9" y2="345.6" stroke="#000" stroke-width="1.1"/>
<text x="292.9" y="359.8" font-size="9.8" text-anchor="middle" fill="#1a1a1a" textLength="8.54" lengthAdjust="spacingAndGlyphs" stroke="#1a1a1a" stroke-width="0.12">-6</text>
<line x1="325.45" y1="348.2" x2="325.45" y2="345.6" stroke="#000" stroke-width="1.1"/>
<text x="325.45" y="359.8" font-size="9.8" text-anchor="middle" fill="#1a1a1a" textLength="8.54" lengthAdjust="spacingAndGlyphs" stroke="#1a1a1a" stroke-width="0.12">-3</text>
<line x1="358" y1="348.2" x2="358" y2="345.6" stroke="#000" stroke-width="1.1"/>
<text x="358" y="359.8" font-size="9.8" text-anchor="middle" fill="#1a1a1a" textLength="5.34" lengthAdjust="spacingAndGlyphs" stroke="#1a1a1a" stroke-width="0.12">0</text>
<line x1="390.55" y1="348.2" x2="390.55" y2="345.6" stroke="#000" stroke-width="1.1"/>
<text x="390.55" y="359.8" font-size="9.8" text-anchor="middle" fill="#1a1a1a" textLength="5.34" lengthAdjust="spacingAndGlyphs" stroke="#1a1a1a" stroke-width="0.12">3</text>
<line x1="423.1" y1="348.2" x2="423.1" y2="345.6" stroke="#000" stroke-width="1.1"/>
<text x="423.1" y="359.8" font-size="9.8" text-anchor="middle" fill="#1a1a1a" textLength="5.34" lengthAdjust="spacingAndGlyphs" stroke="#1a1a1a" stroke-width="0.12">6</text>
<g transform="translate(348.5,371.3)" fill="#1a1a1a" stroke="#1a1a1a" stroke-width="0.12"><text x="0" y="0" font-size="9.4" font-style="italic">H</text><text x="9.4" y="0" font-size="9.4">(T)</text></g>
<g transform="translate(256.9,306.4) rotate(-90)" fill="#1a1a1a" stroke="#1a1a1a" stroke-width="0.12"><text x="0" y="0" font-size="9.4" font-style="italic">Δ</text><text x="6.9" y="0" font-size="9.8" font-style="italic">R</text><text x="15.3" y="1" font-size="6.3" font-style="italic">xx</text><text x="15.6" y="-5.3" font-size="6.6">2ω</text><text x="28.6" y="0" font-size="9.4">(mΩ)</text></g>
<text x="401.2" y="262.6" font-size="10.4" fill="#D9696B" stroke="#D9696B" stroke-width="0.12"><tspan font-style="italic">θ</tspan> = 0°</text>
<text x="375.7" y="342.8" font-size="10.4" fill="#8E1A2C" stroke="#8E1A2C" stroke-width="0.12"><tspan font-style="italic">θ</tspan> = 90°</text>
<polygon points="376.2,242.3 389.5,247.3 418.2,240.6 418.2,242.2 389.5,248.9 376.2,243.9" fill="#7C7CB4"/>
<polygon points="376.2,242.3 403.6,237.3 418.2,240.6 389.5,247.3" fill="#9898CC"/>
<line x1="382.5" y1="245.7" x2="406.22" y2="239.73" stroke="#111" stroke-width="1.5"/>
<polygon points="409.9,238.8 406.27,241.98 405.19,237.72" fill="#111"/>
<line x1="382" y1="239.2" x2="406.64" y2="232.32" stroke="#D62A3C" stroke-width="1.5"/>
<polygon points="410.3,231.3 406.75,234.58 405.57,230.34" fill="#D62A3C"/>
<line x1="378.6" y1="229.4" x2="378.6" y2="238.2" stroke="#E07070" stroke-width="1.5"/>
<polygon points="378.6,241.9 376.5,237.7 380.7,237.7" fill="#E07070"/>
<text x="374.9" y="226.6" font-size="9.3" fill="#E07070" stroke="#E07070" stroke-width="0.12">P<tspan font-size="5.8" dx="0.3" dy="3.8">z</tspan></text>
<text x="398.4" y="226.2" font-size="9.3" fill="#D62A3C" stroke="#D62A3C" stroke-width="0.12">H<tspan font-size="5.8" dx="0.3" dy="3.8">x</tspan></text>
<text x="413.6" y="236.7" font-size="9.3" fill="#222" stroke="#222" stroke-width="0.12">I<tspan font-size="5.8" dx="0.3" dy="3.8">x</tspan></text>
<polygon points="334,327 346.6,334.8 375.4,324.6 375.4,326.2 346.6,336.4 334,328.6" fill="#7C7CB4"/>
<polygon points="334,327 361,321.6 375.4,324.6 346.6,334.8" fill="#9898CC"/>
<line x1="339.4" y1="330.6" x2="363.34" y2="323.83" stroke="#111" stroke-width="1.5"/>
<polygon points="367,322.8 363.46,326.09 362.26,321.85" fill="#111"/>
<line x1="347.8" y1="323.4" x2="357.58" y2="327.4" stroke="#D62A3C" stroke-width="1.6"/>
<polygon points="361,328.8 356.28,329.25 357.95,325.17" fill="#D62A3C"/>
<line x1="335.8" y1="313.2" x2="335.8" y2="322.1" stroke="#9B1B30" stroke-width="1.5"/>
<polygon points="335.8,325.8 333.7,321.6 337.9,321.6" fill="#9B1B30"/>
<text x="331.8" y="310.9" font-size="9.3" fill="#9B1B30" stroke="#9B1B30" stroke-width="0.12">P<tspan font-size="5.8" dx="0.3" dy="3.8">z</tspan></text>
<text x="370.9" y="319.9" font-size="9.3" fill="#222" stroke="#222" stroke-width="0.12">I<tspan font-size="5.8" dx="0.3" dy="3.8">x</tspan></text>
<text x="358.3" y="340.9" font-size="9.3" fill="#D62A3C" stroke="#D62A3C" stroke-width="0.12">H<tspan font-size="5.8" dx="0.3" dy="3.8">y</tspan></text>
<text x="489.3" y="5.4" font-size="9.5" font-weight="bold">e</text>
<path d="M590.9,91.67L591.95,90.62L593,91.67L591.95,92.72Z" fill="#D66C78" opacity="0.85"/>
<path d="M579.72,104.16L580.77,103.11L581.82,104.16L580.77,105.21Z" fill="#D66C78" opacity="0.85"/>
<path d="M624.8,45.85L625.85,44.8L626.9,45.85L625.85,46.9Z" fill="#D66C78" opacity="0.85"/>
<path d="M620.85,53.17L621.9,52.12L622.95,53.17L621.9,54.22Z" fill="#D66C78" opacity="0.85"/>
<path d="M670.26,49.81L671.31,48.76L672.36,49.81L671.31,50.86Z" fill="#D66C78" opacity="0.85"/>
<path d="M522.27,68.82L523.32,67.77L524.37,68.82L523.32,69.87Z" fill="#D66C78" opacity="0.85"/>
<path d="M588.73,93.32L589.78,92.27L590.83,93.32L589.78,94.37Z" fill="#D66C78" opacity="0.85"/>
<path d="M614.45,58.92L615.5,57.87L616.55,58.92L615.5,59.97Z" fill="#D66C78" opacity="0.85"/>
<path d="M603.78,76.26L604.83,75.21L605.88,76.26L604.83,77.31Z" fill="#D66C78" opacity="0.85"/>
<path d="M552.52,100.92L553.57,99.87L554.62,100.92L553.57,101.97Z" fill="#D66C78" opacity="0.85"/>
<path d="M594.66,95.23L595.71,94.18L596.76,95.23L595.71,96.28Z" fill="#D66C78" opacity="0.85"/>
<path d="M571.87,106.15L572.92,105.1L573.97,106.15L572.92,107.2Z" fill="#D66C78" opacity="0.85"/>
<path d="M574.75,106.81L575.8,105.76L576.85,106.81L575.8,107.86Z" fill="#D66C78" opacity="0.85"/>
<path d="M655.53,40.96L656.58,39.91L657.63,40.96L656.58,42.01Z" fill="#D66C78" opacity="0.85"/>
<path d="M526.34,79.54L527.39,78.49L528.44,79.54L527.39,80.59Z" fill="#D66C78" opacity="0.85"/>
<path d="M589.38,95.94L590.43,94.89L591.48,95.94L590.43,96.99Z" fill="#D66C78" opacity="0.85"/>
<path d="M638.49,33.71L639.54,32.66L640.59,33.71L639.54,34.76Z" fill="#D66C78" opacity="0.85"/>
<path d="M519.94,62.59L520.99,61.54L522.04,62.59L520.99,63.64Z" fill="#D66C78" opacity="0.85"/>
<path d="M522.89,68.86L523.94,67.81L524.99,68.86L523.94,69.91Z" fill="#D66C78" opacity="0.85"/>
<path d="M659.68,37.72L660.73,36.67L661.78,37.72L660.73,38.77Z" fill="#D66C78" opacity="0.85"/>
<path d="M630.22,40.68L631.27,39.63L632.32,40.68L631.27,41.73Z" fill="#D66C78" opacity="0.85"/>
<path d="M652.75,35.06L653.8,34.01L654.85,35.06L653.8,36.11Z" fill="#D66C78" opacity="0.85"/>
<path d="M541.07,93.93L542.12,92.88L543.17,93.93L542.12,94.98Z" fill="#D66C78" opacity="0.85"/>
<path d="M659.41,40.79L660.46,39.74L661.51,40.79L660.46,41.84Z" fill="#D66C78" opacity="0.85"/>
<path d="M646.93,34.89L647.98,33.84L649.03,34.89L647.98,35.94Z" fill="#D66C78" opacity="0.85"/>
<path d="M518.66,59.9L519.71,58.85L520.76,59.9L519.71,60.95Z" fill="#D66C78" opacity="0.85"/>
<path d="M643.66,28.66L644.71,27.61L645.76,28.66L644.71,29.71Z" fill="#D66C78" opacity="0.85"/>
<path d="M672.06,52.92L673.11,51.87L674.16,52.92L673.11,53.97Z" fill="#D66C78" opacity="0.85"/>
<path d="M592.88,88.86L593.93,87.81L594.98,88.86L593.93,89.91Z" fill="#D66C78" opacity="0.85"/>
<path d="M664.58,43.59L665.63,42.54L666.68,43.59L665.63,44.64Z" fill="#D66C78" opacity="0.85"/>
<path d="M531.84,79.28L532.89,78.23L533.94,79.28L532.89,80.33Z" fill="#D66C78" opacity="0.85"/>
<path d="M581.41,102.04L582.46,100.99L583.51,102.04L582.46,103.09Z" fill="#D66C78" opacity="0.85"/>
<path d="M649.04,36.71L650.09,35.66L651.14,36.71L650.09,37.76Z" fill="#D66C78" opacity="0.85"/>
<path d="M566.29,107.36L567.34,106.31L568.39,107.36L567.34,108.41Z" fill="#D66C78" opacity="0.85"/>
<path d="M522.14,64.4L523.19,63.35L524.24,64.4L523.19,65.45Z" fill="#D66C78" opacity="0.85"/>
<path d="M675.09,58.86L676.14,57.81L677.19,58.86L676.14,59.91Z" fill="#D66C78" opacity="0.85"/>
<path d="M548.65,97.2L549.7,96.15L550.75,97.2L549.7,98.25Z" fill="#D66C78" opacity="0.85"/>
<path d="M644.96,34.46L646.01,33.41L647.06,34.46L646.01,35.51Z" fill="#D66C78" opacity="0.85"/>
<path d="M628.28,43.76L629.33,42.71L630.38,43.76L629.33,44.81Z" fill="#D66C78" opacity="0.85"/>
<path d="M648.7,37.17L649.75,36.12L650.8,37.17L649.75,38.22Z" fill="#D66C78" opacity="0.85"/>
<path d="M608.45,65.97L609.5,64.92L610.55,65.97L609.5,67.02Z" fill="#D66C78" opacity="0.85"/>
<path d="M610.89,64.84L611.94,63.79L612.99,64.84L611.94,65.89Z" fill="#D66C78" opacity="0.85"/>
<path d="M658.69,40.28L659.74,39.23L660.79,40.28L659.74,41.33Z" fill="#D66C78" opacity="0.85"/>
<path d="M543.25,94.51L544.3,93.46L545.35,94.51L544.3,95.56Z" fill="#D66C78" opacity="0.85"/>
<path d="M592.93,90.31L593.98,89.26L595.03,90.31L593.98,91.36Z" fill="#D66C78" opacity="0.85"/>
<path d="M576.81,112.02L577.86,110.97L578.91,112.02L577.86,113.07Z" fill="#D66C78" opacity="0.85"/>
<path d="M660.45,41.61L661.5,40.56L662.55,41.61L661.5,42.66Z" fill="#D66C78" opacity="0.85"/>
<path d="M552.95,102.06L554,101.01L555.05,102.06L554,103.11Z" fill="#D66C78" opacity="0.85"/>
<path d="M545.2,97.01L546.25,95.96L547.3,97.01L546.25,98.06Z" fill="#D66C78" opacity="0.85"/>
<path d="M602.66,76.07L603.71,75.02L604.76,76.07L603.71,77.12Z" fill="#D66C78" opacity="0.85"/>
<path d="M655.75,41.24L656.8,40.19L657.85,41.24L656.8,42.29Z" fill="#D66C78" opacity="0.85"/>
<path d="M660.71,40.8L661.76,39.75L662.81,40.8L661.76,41.85Z" fill="#D66C78" opacity="0.85"/>
<path d="M661.12,42.79L662.17,41.74L663.22,42.79L662.17,43.84Z" fill="#D66C78" opacity="0.85"/>
<path d="M517.15,59.6L518.2,58.55L519.25,59.6L518.2,60.65Z" fill="#D66C78" opacity="0.85"/>
<path d="M535.79,86.45L536.84,85.4L537.89,86.45L536.84,87.5Z" fill="#D66C78" opacity="0.85"/>
<path d="M627.86,42.72L628.91,41.67L629.96,42.72L628.91,43.77Z" fill="#D66C78" opacity="0.85"/>
<path d="M520.24,63.08L521.29,62.03L522.34,63.08L521.29,64.13Z" fill="#D66C78" opacity="0.85"/>
<path d="M576.06,105.29L577.11,104.24L578.16,105.29L577.11,106.34Z" fill="#D66C78" opacity="0.85"/>
<path d="M579.96,102.07L581.01,101.02L582.06,102.07L581.01,103.12Z" fill="#D66C78" opacity="0.85"/>
<path d="M580.35,100.99L581.4,99.94L582.45,100.99L581.4,102.04Z" fill="#D66C78" opacity="0.85"/>
<path d="M576.59,101.86L577.64,100.81L578.69,101.86L577.64,102.91Z" fill="#D66C78" opacity="0.85"/>
<path d="M604.32,72.99L605.37,71.94L606.42,72.99L605.37,74.04Z" fill="#D66C78" opacity="0.85"/>
<path d="M609.89,65.6L610.94,64.55L611.99,65.6L610.94,66.65Z" fill="#D66C78" opacity="0.85"/>
<path d="M659.2,38.39L660.25,37.34L661.3,38.39L660.25,39.44Z" fill="#D66C78" opacity="0.85"/>
<path d="M636.93,35.54L637.98,34.49L639.03,35.54L637.98,36.59Z" fill="#D66C78" opacity="0.85"/>
<path d="M522.53,64.76L523.58,63.71L524.63,64.76L523.58,65.81Z" fill="#D66C78" opacity="0.85"/>
<path d="M581.33,101.22L582.38,100.17L583.43,101.22L582.38,102.27Z" fill="#D66C78" opacity="0.85"/>
<path d="M594.35,88.74L595.4,87.69L596.45,88.74L595.4,89.79Z" fill="#D66C78" opacity="0.85"/>
<path d="M648.99,34.04L650.04,32.99L651.09,34.04L650.04,35.09Z" fill="#D66C78" opacity="0.85"/>
<path d="M573.58,106.47L574.63,105.42L575.68,106.47L574.63,107.52Z" fill="#D66C78" opacity="0.85"/>
<path d="M552.69,102.9L553.74,101.85L554.79,102.9L553.74,103.95Z" fill="#D66C78" opacity="0.85"/>
<path d="M617.31,53.39L618.36,52.34L619.41,53.39L618.36,54.44Z" fill="#D66C78" opacity="0.85"/>
<path d="M571.42,107.06L572.47,106.01L573.52,107.06L572.47,108.11Z" fill="#D66C78" opacity="0.85"/>
<path d="M565.1,106.13L566.15,105.08L567.2,106.13L566.15,107.18Z" fill="#D66C78" opacity="0.85"/>
<path d="M606.92,70.38L607.97,69.33L609.02,70.38L607.97,71.43Z" fill="#D66C78" opacity="0.85"/>
<path d="M612.59,59.6L613.64,58.55L614.69,59.6L613.64,60.65Z" fill="#D66C78" opacity="0.85"/>
<path d="M664.22,43.55L665.27,42.5L666.32,43.55L665.27,44.6Z" fill="#D66C78" opacity="0.85"/>
<path d="M605.2,69.73L606.25,68.68L607.3,69.73L606.25,70.78Z" fill="#D66C78" opacity="0.85"/>
<path d="M520.49,63.15L521.54,62.1L522.59,63.15L521.54,64.2Z" fill="#D66C78" opacity="0.85"/>
<path d="M636.61,37.09L637.66,36.04L638.71,37.09L637.66,38.14Z" fill="#D66C78" opacity="0.85"/>
<path d="M629.78,40.81L630.83,39.76L631.88,40.81L630.83,41.86Z" fill="#D66C78" opacity="0.85"/>
<path d="M642.9,36.27L643.95,35.22L645,36.27L643.95,37.32Z" fill="#D66C78" opacity="0.85"/>
<path d="M583.26,100.96L584.31,99.91L585.36,100.96L584.31,102.01Z" fill="#D66C78" opacity="0.85"/>
<path d="M563.31,107.36L564.36,106.31L565.41,107.36L564.36,108.41Z" fill="#D66C78" opacity="0.85"/>
<path d="M587.91,100.84L588.96,99.79L590.01,100.84L588.96,101.89Z" fill="#D66C78" opacity="0.85"/>
<path d="M577.05,104.68L578.1,103.63L579.15,104.68L578.1,105.73Z" fill="#D66C78" opacity="0.85"/>
<path d="M556.78,107.56L557.83,106.51L558.88,107.56L557.83,108.61Z" fill="#D66C78" opacity="0.85"/>
<path d="M524.39,68.24L525.44,67.19L526.49,68.24L525.44,69.29Z" fill="#D66C78" opacity="0.85"/>
<path d="M649.3,35.63L650.35,34.58L651.4,35.63L650.35,36.68Z" fill="#D66C78" opacity="0.85"/>
<path d="M639.45,34.85L640.5,33.8L641.55,34.85L640.5,35.9Z" fill="#D66C78" opacity="0.85"/>
<path d="M606.55,69.89L607.6,68.84L608.65,69.89L607.6,70.94Z" fill="#D66C78" opacity="0.85"/>
<path d="M581.16,104.58L582.21,103.53L583.26,104.58L582.21,105.63Z" fill="#D66C78" opacity="0.85"/>
<path d="M586.55,95.54L587.6,94.49L588.65,95.54L587.6,96.59Z" fill="#D66C78" opacity="0.85"/>
<path d="M644.83,34.25L645.88,33.2L646.93,34.25L645.88,35.3Z" fill="#D66C78" opacity="0.85"/>
<path d="M526.24,70.08L527.29,69.03L528.34,70.08L527.29,71.13Z" fill="#D66C78" opacity="0.85"/>
<path d="M571.95,110.42L573,109.37L574.05,110.42L573,111.47Z" fill="#D66C78" opacity="0.85"/>
<path d="M536.33,83.99L537.38,82.94L538.43,83.99L537.38,85.04Z" fill="#D66C78" opacity="0.85"/>
<path d="M518.94,61.16L519.99,60.11L521.04,61.16L519.99,62.21Z" fill="#D66C78" opacity="0.85"/>
<path d="M640.9,34.9L641.95,33.85L643,34.9L641.95,35.95Z" fill="#D66C78" opacity="0.85"/>
<path d="M530.9,76.52L531.95,75.47L533,76.52L531.95,77.57Z" fill="#D66C78" opacity="0.85"/>
<path d="M664.72,45.54L665.77,44.49L666.82,45.54L665.77,46.59Z" fill="#D66C78" opacity="0.85"/>
<path d="M675.11,63.7L676.16,62.65L677.21,63.7L676.16,64.75Z" fill="#D66C78" opacity="0.85"/>
<path d="M540.2,84.88L541.25,83.83L542.3,84.88L541.25,85.93Z" fill="#D66C78" opacity="0.85"/>
<path d="M665.37,43.69L666.42,42.64L667.47,43.69L666.42,44.74Z" fill="#D66C78" opacity="0.85"/>
<path d="M616.04,57.89L617.09,56.84L618.14,57.89L617.09,58.94Z" fill="#D66C78" opacity="0.85"/>
<path d="M544.83,96.8L545.88,95.75L546.93,96.8L545.88,97.85Z" fill="#D66C78" opacity="0.85"/>
<path d="M550.32,101.29L551.37,100.24L552.42,101.29L551.37,102.34Z" fill="#D66C78" opacity="0.85"/>
<path d="M599.1,82.89L600.15,81.84L601.2,82.89L600.15,83.94Z" fill="#D66C78" opacity="0.85"/>
<path d="M585.51,98.32L586.56,97.27L587.61,98.32L586.56,99.37Z" fill="#D66C78" opacity="0.85"/>
<path d="M579.58,102.61L580.63,101.56L581.68,102.61L580.63,103.66Z" fill="#D66C78" opacity="0.85"/>
<path d="M669.23,48.39L670.28,47.34L671.33,48.39L670.28,49.44Z" fill="#D66C78" opacity="0.85"/>
<path d="M637.18,34.92L638.23,33.87L639.28,34.92L638.23,35.97Z" fill="#D66C78" opacity="0.85"/>
<path d="M615.5,57.54L616.55,56.49L617.6,57.54L616.55,58.59Z" fill="#D66C78" opacity="0.85"/>
<path d="M579.96,102.79L581.01,101.74L582.06,102.79L581.01,103.84Z" fill="#D66C78" opacity="0.85"/>
<path d="M598.91,82.37L599.96,81.32L601.01,82.37L599.96,83.42Z" fill="#D66C78" opacity="0.85"/>
<path d="M662.45,40.06L663.5,39.01L664.55,40.06L663.5,41.11Z" fill="#D66C78" opacity="0.85"/>
<path d="M564.17,109.3L565.22,108.25L566.27,109.3L565.22,110.35Z" fill="#D66C78" opacity="0.85"/>
<path d="M672.65,45.59L673.7,44.54L674.75,45.59L673.7,46.64Z" fill="#D66C78" opacity="0.85"/>
<path d="M563.55,115.8L564.6,114.75L565.65,115.8L564.6,116.85Z" fill="#D66C78" opacity="0.85"/>
<path d="M548.99,99.48L550.04,98.43L551.09,99.48L550.04,100.53Z" fill="#D66C78" opacity="0.85"/>
<path d="M554.7,105.68L555.75,104.63L556.8,105.68L555.75,106.73Z" fill="#D66C78" opacity="0.85"/>
<path d="M671.49,52.5L672.54,51.45L673.59,52.5L672.54,53.55Z" fill="#D66C78" opacity="0.85"/>
<path d="M659.31,36.45L660.36,35.4L661.41,36.45L660.36,37.5Z" fill="#D66C78" opacity="0.85"/>
<path d="M559.93,108.89L560.98,107.84L562.03,108.89L560.98,109.94Z" fill="#D66C78" opacity="0.85"/>
<path d="M573.55,107.15L574.6,106.1L575.65,107.15L574.6,108.2Z" fill="#D66C78" opacity="0.85"/>
<path d="M630.3,41.31L631.35,40.26L632.4,41.31L631.35,42.36Z" fill="#D66C78" opacity="0.85"/>
<path d="M624.86,45.72L625.91,44.67L626.96,45.72L625.91,46.77Z" fill="#D66C78" opacity="0.85"/>
<path d="M521.22,65.73L522.27,64.68L523.32,65.73L522.27,66.78Z" fill="#D66C78" opacity="0.85"/>
<path d="M573.51,106.11L574.56,105.06L575.61,106.11L574.56,107.16Z" fill="#D66C78" opacity="0.85"/>
<path d="M651.26,35.08L652.31,34.03L653.36,35.08L652.31,36.13Z" fill="#D66C78" opacity="0.85"/>
<path d="M639.47,34.65L640.52,33.6L641.57,34.65L640.52,35.7Z" fill="#D66C78" opacity="0.85"/>
<path d="M539.97,91.14L541.02,90.09L542.07,91.14L541.02,92.19Z" fill="#D66C78" opacity="0.85"/>
<path d="M572.13,109.83L573.18,108.78L574.23,109.83L573.18,110.88Z" fill="#D66C78" opacity="0.85"/>
<path d="M662.93,39.98L663.98,38.93L665.03,39.98L663.98,41.03Z" fill="#D66C78" opacity="0.85"/>
<path d="M549.82,102.58L550.87,101.53L551.92,102.58L550.87,103.63Z" fill="#D66C78" opacity="0.85"/>
<path d="M518.16,58.92L519.21,57.87L520.26,58.92L519.21,59.97Z" fill="#D66C78" opacity="0.85"/>
<path d="M636.54,36.56L637.59,35.51L638.64,36.56L637.59,37.61Z" fill="#D66C78" opacity="0.85"/>
<path d="M521.4,64.02L522.45,62.97L523.5,64.02L522.45,65.07Z" fill="#D66C78" opacity="0.85"/>
<path d="M533.45,80.53L534.5,79.48L535.55,80.53L534.5,81.58Z" fill="#D66C78" opacity="0.85"/>
<path d="M673.21,52.99L674.26,51.94L675.31,52.99L674.26,54.04Z" fill="#D66C78" opacity="0.85"/>
<path d="M555.47,106.17L556.52,105.12L557.57,106.17L556.52,107.22Z" fill="#D66C78" opacity="0.85"/>
<path d="M593.24,88.86L594.29,87.81L595.34,88.86L594.29,89.91Z" fill="#D66C78" opacity="0.85"/>
<path d="M585.74,98.04L586.79,96.99L587.84,98.04L586.79,99.09Z" fill="#D66C78" opacity="0.85"/>
<path d="M579.01,103.33L580.06,102.28L581.11,103.33L580.06,104.38Z" fill="#D66C78" opacity="0.85"/>
<path d="M522.49,66.46L523.54,65.41L524.59,66.46L523.54,67.51Z" fill="#D66C78" opacity="0.85"/>
<path d="M666.32,45.23L667.37,44.18L668.42,45.23L667.37,46.28Z" fill="#D66C78" opacity="0.85"/>
<path d="M527.22,74.22L528.27,73.17L529.32,74.22L528.27,75.27Z" fill="#D66C78" opacity="0.85"/>
<path d="M606.72,71.21L607.77,70.16L608.82,71.21L607.77,72.26Z" fill="#D66C78" opacity="0.85"/>
<path d="M555,102.3L556.05,101.25L557.1,102.3L556.05,103.35Z" fill="#D66C78" opacity="0.85"/>
<path d="M626.36,43.95L627.41,42.9L628.46,43.95L627.41,45Z" fill="#D66C78" opacity="0.85"/>
<path d="M639.88,34.01L640.93,32.96L641.98,34.01L640.93,35.06Z" fill="#D66C78" opacity="0.85"/>
<path d="M634.95,36.52L636,35.47L637.05,36.52L636,37.57Z" fill="#D66C78" opacity="0.85"/>
<path d="M665.4,42.99L666.45,41.94L667.5,42.99L666.45,44.04Z" fill="#D66C78" opacity="0.85"/>
<path d="M600.2,79.85L601.25,78.8L602.3,79.85L601.25,80.9Z" fill="#D66C78" opacity="0.85"/>
<path d="M533.69,80.98L534.74,79.93L535.79,80.98L534.74,82.03Z" fill="#D66C78" opacity="0.85"/>
<path d="M606.73,67.09L607.78,66.04L608.83,67.09L607.78,68.14Z" fill="#D66C78" opacity="0.85"/>
<path d="M653.59,34.79L654.64,33.74L655.69,34.79L654.64,35.84Z" fill="#D66C78" opacity="0.85"/>
<path d="M623.13,45.29L624.18,44.24L625.23,45.29L624.18,46.34Z" fill="#D66C78" opacity="0.85"/>
<path d="M595.71,86.04L596.76,84.99L597.81,86.04L596.76,87.09Z" fill="#D66C78" opacity="0.85"/>
<path d="M551.91,103.29L552.96,102.24L554.01,103.29L552.96,104.34Z" fill="#D66C78" opacity="0.85"/>
<path d="M670.09,48.62L671.14,47.57L672.19,48.62L671.14,49.67Z" fill="#D66C78" opacity="0.85"/>
<path d="M667.43,47.34L668.48,46.29L669.53,47.34L668.48,48.39Z" fill="#D66C78" opacity="0.85"/>
<path d="M563.7,110.65L564.75,109.6L565.8,110.65L564.75,111.7Z" fill="#D66C78" opacity="0.85"/>
<path d="M659.84,39.32L660.89,38.27L661.94,39.32L660.89,40.37Z" fill="#D66C78" opacity="0.85"/>
<path d="M555.65,104.03L556.7,102.98L557.75,104.03L556.7,105.08Z" fill="#D66C78" opacity="0.85"/>
<path d="M553.79,103.56L554.84,102.51L555.89,103.56L554.84,104.61Z" fill="#D66C78" opacity="0.85"/>
<path d="M664.7,43.44L665.75,42.39L666.8,43.44L665.75,44.49Z" fill="#D66C78" opacity="0.85"/>
<path d="M583.74,99.23L584.79,98.18L585.84,99.23L584.79,100.28Z" fill="#D66C78" opacity="0.85"/>
<path d="M573.06,110.43L574.11,109.38L575.16,110.43L574.11,111.48Z" fill="#D66C78" opacity="0.85"/>
<path d="M536.72,87.15L537.77,86.1L538.82,87.15L537.77,88.2Z" fill="#D66C78" opacity="0.85"/>
<path d="M602.49,77.7L603.54,76.65L604.59,77.7L603.54,78.75Z" fill="#D66C78" opacity="0.85"/>
<path d="M568.99,108.53L570.04,107.48L571.09,108.53L570.04,109.58Z" fill="#D66C78" opacity="0.85"/>
<path d="M674.45,55.76L675.5,54.71L676.55,55.76L675.5,56.81Z" fill="#D66C78" opacity="0.85"/>
<path d="M539.28,89.45L540.33,88.4L541.38,89.45L540.33,90.5Z" fill="#D66C78" opacity="0.85"/>
<path d="M578.74,102.44L579.79,101.39L580.84,102.44L579.79,103.49Z" fill="#D66C78" opacity="0.85"/>
<path d="M673.72,56.44L674.77,55.39L675.82,56.44L674.77,57.49Z" fill="#D66C78" opacity="0.85"/>
<path d="M554.17,102.37L555.22,101.32L556.27,102.37L555.22,103.42Z" fill="#D66C78" opacity="0.85"/>
<path d="M594.55,88.37L595.6,87.32L596.65,88.37L595.6,89.42Z" fill="#D66C78" opacity="0.85"/>
<path d="M631.52,44.54L632.57,43.49L633.62,44.54L632.57,45.59Z" fill="#D66C78" opacity="0.85"/>
<path d="M645.22,32.56L646.27,31.51L647.32,32.56L646.27,33.61Z" fill="#D66C78" opacity="0.85"/>
<path d="M620.88,52.36L621.93,51.31L622.98,52.36L621.93,53.41Z" fill="#D66C78" opacity="0.85"/>
<path d="M671.85,49.03L672.9,47.98L673.95,49.03L672.9,50.08Z" fill="#D66C78" opacity="0.85"/>
<path d="M602.17,77.53L603.22,76.48L604.27,77.53L603.22,78.58Z" fill="#D66C78" opacity="0.85"/>
<path d="M533.62,80.73L534.67,79.68L535.72,80.73L534.67,81.78Z" fill="#D66C78" opacity="0.85"/>
<path d="M648.82,34.79L649.87,33.74L650.92,34.79L649.87,35.84Z" fill="#D66C78" opacity="0.85"/>
<path d="M599.45,81.63L600.5,80.58L601.55,81.63L600.5,82.68Z" fill="#D66C78" opacity="0.85"/>
<path d="M551.66,102.37L552.71,101.32L553.76,102.37L552.71,103.42Z" fill="#D66C78" opacity="0.85"/>
<path d="M585.16,99.01L586.21,97.96L587.26,99.01L586.21,100.06Z" fill="#D66C78" opacity="0.85"/>
<path d="M606.85,71.64L607.9,70.59L608.95,71.64L607.9,72.69Z" fill="#D66C78" opacity="0.85"/>
<path d="M520.88,63.67L521.93,62.62L522.98,63.67L521.93,64.72Z" fill="#D66C78" opacity="0.85"/>
<path d="M661.58,42.7L662.63,41.65L663.68,42.7L662.63,43.75Z" fill="#D66C78" opacity="0.85"/>
<path d="M607.92,68.21L608.97,67.16L610.02,68.21L608.97,69.26Z" fill="#D66C78" opacity="0.85"/>
<path d="M640.22,35.55L641.27,34.5L642.32,35.55L641.27,36.6Z" fill="#D66C78" opacity="0.85"/>
<path d="M542.72,92.91L543.77,91.86L544.82,92.91L543.77,93.96Z" fill="#D66C78" opacity="0.85"/>
<path d="M601.29,78.35L602.34,77.3L603.39,78.35L602.34,79.4Z" fill="#D66C78" opacity="0.85"/>
<path d="M610.07,64.32L611.12,63.27L612.17,64.32L611.12,65.37Z" fill="#D66C78" opacity="0.85"/>
<path d="M531.85,79.95L532.9,78.9L533.95,79.95L532.9,81Z" fill="#D66C78" opacity="0.85"/>
<path d="M653.27,35.92L654.32,34.87L655.37,35.92L654.32,36.97Z" fill="#D66C78" opacity="0.85"/>
<path d="M620.94,51.33L621.99,50.28L623.04,51.33L621.99,52.38Z" fill="#D66C78" opacity="0.85"/>
<path d="M669.21,48.65L670.26,47.6L671.31,48.65L670.26,49.7Z" fill="#D66C78" opacity="0.85"/>
<path d="M667.21,52.56L668.26,51.51L669.31,52.56L668.26,53.61Z" fill="#D66C78" opacity="0.85"/>
<path d="M528.51,72.81L529.56,71.76L530.61,72.81L529.56,73.86Z" fill="#D66C78" opacity="0.85"/>
<path d="M545.53,95.01L546.58,93.96L547.63,95.01L546.58,96.06Z" fill="#D66C78" opacity="0.85"/>
<path d="M654.2,36.76L655.25,35.71L656.3,36.76L655.25,37.81Z" fill="#D66C78" opacity="0.85"/>
<path d="M640.62,39.77L641.67,38.72L642.72,39.77L641.67,40.82Z" fill="#D66C78" opacity="0.85"/>
<path d="M610.91,65.16L611.96,64.11L613.01,65.16L611.96,66.21Z" fill="#D66C78" opacity="0.85"/>
<path d="M643.39,34.11L644.44,33.06L645.49,34.11L644.44,35.16Z" fill="#D66C78" opacity="0.85"/>
<path d="M593.16,90.23L594.21,89.18L595.26,90.23L594.21,91.28Z" fill="#D66C78" opacity="0.85"/>
<path d="M551.49,103.63L552.54,102.58L553.59,103.63L552.54,104.68Z" fill="#D66C78" opacity="0.85"/>
<path d="M667.53,45.91L668.58,44.86L669.63,45.91L668.58,46.96Z" fill="#D66C78" opacity="0.85"/>
<path d="M566.45,109.64L567.5,108.59L568.55,109.64L567.5,110.69Z" fill="#D66C78" opacity="0.85"/>
<path d="M617.07,55.08L618.12,54.03L619.17,55.08L618.12,56.13Z" fill="#D66C78" opacity="0.85"/>
<path d="M581.89,100.49L582.94,99.44L583.99,100.49L582.94,101.54Z" fill="#D66C78" opacity="0.85"/>
<path d="M578.11,104.56L579.16,103.51L580.21,104.56L579.16,105.61Z" fill="#D66C78" opacity="0.85"/>
<path d="M572.02,107.52L573.07,106.47L574.12,107.52L573.07,108.57Z" fill="#D66C78" opacity="0.85"/>
<path d="M605.96,71.78L607.01,70.73L608.06,71.78L607.01,72.83Z" fill="#D66C78" opacity="0.85"/>
<path d="M621.62,49.84L622.67,48.79L623.72,49.84L622.67,50.89Z" fill="#D66C78" opacity="0.85"/>
<path d="M564.92,110.08L565.97,109.03L567.02,110.08L565.97,111.13Z" fill="#D66C78" opacity="0.85"/>
<path d="M646.07,32.63L647.12,31.58L648.17,32.63L647.12,33.68Z" fill="#D66C78" opacity="0.85"/>
<path d="M638.44,34.49L639.49,33.44L640.54,34.49L639.49,35.54Z" fill="#D66C78" opacity="0.85"/>
<path d="M621.77,52.46L622.82,51.41L623.87,52.46L622.82,53.51Z" fill="#D66C78" opacity="0.85"/>
<path d="M646.6,34.9L647.65,33.85L648.7,34.9L647.65,35.95Z" fill="#D66C78" opacity="0.85"/>
<path d="M561.88,107.54L562.93,106.49L563.98,107.54L562.93,108.59Z" fill="#D66C78" opacity="0.85"/>
<path d="M570.81,109.51L571.86,108.46L572.91,109.51L571.86,110.56Z" fill="#D66C78" opacity="0.85"/>
<path d="M539.08,87.78L540.13,86.73L541.18,87.78L540.13,88.83Z" fill="#D66C78" opacity="0.85"/>
<path d="M618.79,55L619.84,53.95L620.89,55L619.84,56.05Z" fill="#D66C78" opacity="0.85"/>
<path d="M523.11,68.71L524.16,67.66L525.21,68.71L524.16,69.76Z" fill="#D66C78" opacity="0.85"/>
<path d="M662.3,43.85L663.35,42.8L664.4,43.85L663.35,44.9Z" fill="#D66C78" opacity="0.85"/>
<path d="M620.59,50.68L621.64,49.63L622.69,50.68L621.64,51.73Z" fill="#D66C78" opacity="0.85"/>
<path d="M543.29,93.22L544.34,92.17L545.39,93.22L544.34,94.27Z" fill="#D66C78" opacity="0.85"/>
<path d="M605.97,72.55L607.02,71.5L608.07,72.55L607.02,73.6Z" fill="#D66C78" opacity="0.85"/>
<path d="M566.78,109.96L567.83,108.91L568.88,109.96L567.83,111.01Z" fill="#D66C78" opacity="0.85"/>
<path d="M557.22,105.6L558.27,104.55L559.32,105.6L558.27,106.65Z" fill="#D66C78" opacity="0.85"/>
<path d="M626.77,41.48L627.82,40.43L628.87,41.48L627.82,42.53Z" fill="#D66C78" opacity="0.85"/>
<path d="M520.9,64.36L521.95,63.31L523,64.36L521.95,65.41Z" fill="#D66C78" opacity="0.85"/>
<path d="M656.06,40.54L657.11,39.49L658.16,40.54L657.11,41.59Z" fill="#D66C78" opacity="0.85"/>
<path d="M612.81,60.58L613.86,59.53L614.91,60.58L613.86,61.63Z" fill="#D66C78" opacity="0.85"/>
<path d="M563.09,108.88L564.14,107.83L565.19,108.88L564.14,109.93Z" fill="#D66C78" opacity="0.85"/>
<path d="M652.6,33.38L653.65,32.33L654.7,33.38L653.65,34.43Z" fill="#D66C78" opacity="0.85"/>
<path d="M607.02,70.64L608.07,69.59L609.12,70.64L608.07,71.69Z" fill="#D66C78" opacity="0.85"/>
<path d="M592.29,90.13L593.34,89.08L594.39,90.13L593.34,91.18Z" fill="#D66C78" opacity="0.85"/>
<path d="M592.63,90.8L593.68,89.75L594.73,90.8L593.68,91.85Z" fill="#D66C78" opacity="0.85"/>
<path d="M657.47,37.83L658.52,36.78L659.57,37.83L658.52,38.88Z" fill="#D66C78" opacity="0.85"/>
<path d="M519.52,60.76L520.57,59.71L521.62,60.76L520.57,61.81Z" fill="#D66C78" opacity="0.85"/>
<path d="M540.06,92.24L541.11,91.19L542.16,92.24L541.11,93.29Z" fill="#D66C78" opacity="0.85"/>
<path d="M637.04,35.02L638.09,33.97L639.14,35.02L638.09,36.07Z" fill="#D66C78" opacity="0.85"/>
<path d="M654.44,37.95L655.49,36.9L656.54,37.95L655.49,39Z" fill="#D66C78" opacity="0.85"/>
<path d="M520.25,64.31L521.3,63.26L522.35,64.31L521.3,65.36Z" fill="#D66C78" opacity="0.85"/>
<path d="M596.72,87.2L597.77,86.15L598.82,87.2L597.77,88.25Z" fill="#D66C78" opacity="0.85"/>
<path d="M589.45,94.67L590.5,93.62L591.55,94.67L590.5,95.72Z" fill="#D66C78" opacity="0.85"/>
<path d="M606.56,71.07L607.61,70.02L608.66,71.07L607.61,72.12Z" fill="#D66C78" opacity="0.85"/>
<path d="M548.57,93.84L549.62,92.79L550.67,93.84L549.62,94.89Z" fill="#D66C78" opacity="0.85"/>
<path d="M593.04,89.15L594.09,88.1L595.14,89.15L594.09,90.2Z" fill="#D66C78" opacity="0.85"/>
<path d="M610.68,71.49L611.73,70.44L612.78,71.49L611.73,72.54Z" fill="#D66C78" opacity="0.85"/>
<path d="M560.93,104.57L561.98,103.52L563.03,104.57L561.98,105.62Z" fill="#D66C78" opacity="0.85"/>
<path d="M660.68,36.69L661.73,35.64L662.78,36.69L661.73,37.74Z" fill="#D66C78" opacity="0.85"/>
<path d="M612.07,63.56L613.12,62.51L614.17,63.56L613.12,64.61Z" fill="#D66C78" opacity="0.85"/>
<path d="M585.36,98.59L586.41,97.54L587.46,98.59L586.41,99.64Z" fill="#D66C78" opacity="0.85"/>
<path d="M519.84,62.52L520.89,61.47L521.94,62.52L520.89,63.57Z" fill="#D66C78" opacity="0.85"/>
<path d="M668.15,46.86L669.2,45.81L670.25,46.86L669.2,47.91Z" fill="#D66C78" opacity="0.85"/>
<path d="M531.14,79.06L532.19,78.01L533.24,79.06L532.19,80.11Z" fill="#D66C78" opacity="0.85"/>
<path d="M610.92,65.22L611.97,64.17L613.02,65.22L611.97,66.27Z" fill="#D66C78" opacity="0.85"/>
<path d="M571.19,107L572.24,105.95L573.29,107L572.24,108.05Z" fill="#D66C78" opacity="0.85"/>
<path d="M661.39,38.82L662.44,37.77L663.49,38.82L662.44,39.87Z" fill="#D66C78" opacity="0.85"/>
<path d="M536.28,81.75L537.33,80.7L538.38,81.75L537.33,82.8Z" fill="#D66C78" opacity="0.85"/>
<path d="M634.51,38.35L635.56,37.3L636.61,38.35L635.56,39.4Z" fill="#D66C78" opacity="0.85"/>
<path d="M668.17,48L669.22,46.95L670.27,48L669.22,49.05Z" fill="#D66C78" opacity="0.85"/>
<path d="M519.76,62.05L520.81,61L521.86,62.05L520.81,63.1Z" fill="#D66C78" opacity="0.85"/>
<path d="M637,35.06L638.05,34.01L639.1,35.06L638.05,36.11Z" fill="#D66C78" opacity="0.85"/>
<path d="M572.93,106.4L573.98,105.35L575.03,106.4L573.98,107.45Z" fill="#D66C78" opacity="0.85"/>
<path d="M523.07,66.7L524.12,65.65L525.17,66.7L524.12,67.75Z" fill="#D66C78" opacity="0.85"/>
<path d="M657.86,38.34L658.91,37.29L659.96,38.34L658.91,39.39Z" fill="#D66C78" opacity="0.85"/>
<path d="M673.66,53.33L674.71,52.28L675.76,53.33L674.71,54.38Z" fill="#D66C78" opacity="0.85"/>
<path d="M586.78,92.54L587.83,91.49L588.88,92.54L587.83,93.59Z" fill="#D66C78" opacity="0.85"/>
<path d="M655.71,39.71L656.76,38.66L657.81,39.71L656.76,40.76Z" fill="#D66C78" opacity="0.85"/>
<path d="M654.36,38.13L655.41,37.08L656.46,38.13L655.41,39.18Z" fill="#D66C78" opacity="0.85"/>
<path d="M618.57,53.94L619.62,52.89L620.67,53.94L619.62,54.99Z" fill="#D66C78" opacity="0.85"/>
<path d="M639.91,37.05L640.96,36L642.01,37.05L640.96,38.1Z" fill="#D66C78" opacity="0.85"/>
<path d="M618.45,55.56L619.5,54.51L620.55,55.56L619.5,56.61Z" fill="#D66C78" opacity="0.85"/>
<path d="M522.57,65.89L523.62,64.84L524.67,65.89L523.62,66.94Z" fill="#D66C78" opacity="0.85"/>
<path d="M591.21,90.55L592.26,89.5L593.31,90.55L592.26,91.6Z" fill="#D66C78" opacity="0.85"/>
<path d="M525.26,67.97L526.31,66.92L527.36,67.97L526.31,69.02Z" fill="#D66C78" opacity="0.85"/>
<path d="M532.71,80.33L533.76,79.28L534.81,80.33L533.76,81.38Z" fill="#D66C78" opacity="0.85"/>
<path d="M568.14,109.29L569.19,108.24L570.24,109.29L569.19,110.34Z" fill="#D66C78" opacity="0.85"/>
<path d="M552.81,103.51L553.86,102.46L554.91,103.51L553.86,104.56Z" fill="#D66C78" opacity="0.85"/>
<path d="M625.67,44.24L626.72,43.19L627.77,44.24L626.72,45.29Z" fill="#D66C78" opacity="0.85"/>
<path d="M601.82,79.28L602.87,78.23L603.92,79.28L602.87,80.33Z" fill="#D66C78" opacity="0.85"/>
<path d="M656.21,35.64L657.26,34.59L658.31,35.64L657.26,36.69Z" fill="#D66C78" opacity="0.85"/>
<path d="M647.64,33.21L648.69,32.16L649.74,33.21L648.69,34.26Z" fill="#D66C78" opacity="0.85"/>
<path d="M604.14,74.56L605.19,73.51L606.24,74.56L605.19,75.61Z" fill="#D66C78" opacity="0.85"/>
<path d="M646.95,35.19L648,34.14L649.05,35.19L648,36.24Z" fill="#D66C78" opacity="0.85"/>
<path d="M623.64,47.3L624.69,46.25L625.74,47.3L624.69,48.35Z" fill="#D66C78" opacity="0.85"/>
<path d="M653.06,34.65L654.11,33.6L655.16,34.65L654.11,35.7Z" fill="#D66C78" opacity="0.85"/>
<path d="M555.04,103.21L556.09,102.16L557.14,103.21L556.09,104.26Z" fill="#D66C78" opacity="0.85"/>
<path d="M614.25,59.82L615.3,58.77L616.35,59.82L615.3,60.87Z" fill="#D66C78" opacity="0.85"/>
<path d="M607.03,68.67L608.08,67.62L609.13,68.67L608.08,69.72Z" fill="#D66C78" opacity="0.85"/>
<path d="M617.64,55.12L618.69,54.07L619.74,55.12L618.69,56.17Z" fill="#D66C78" opacity="0.85"/>
<path d="M629.86,42.5L630.91,41.45L631.96,42.5L630.91,43.55Z" fill="#D66C78" opacity="0.85"/>
<path d="M652.76,36.61L653.81,35.56L654.86,36.61L653.81,37.66Z" fill="#D66C78" opacity="0.85"/>
<path d="M539.82,88.93L540.87,87.88L541.92,88.93L540.87,89.98Z" fill="#D66C78" opacity="0.85"/>
<path d="M654.75,33.02L655.8,31.97L656.85,33.02L655.8,34.07Z" fill="#D66C78" opacity="0.85"/>
<path d="M551.78,102.97L552.83,101.92L553.88,102.97L552.83,104.02Z" fill="#D66C78" opacity="0.85"/>
<path d="M617.74,54.33L618.79,53.28L619.84,54.33L618.79,55.38Z" fill="#D66C78" opacity="0.85"/>
<path d="M581.88,104.04L582.93,102.99L583.98,104.04L582.93,105.09Z" fill="#D66C78" opacity="0.85"/>
<path d="M605,80.53L606.05,79.48L607.1,80.53L606.05,81.58Z" fill="#D66C78" opacity="0.85"/>
<path d="M653.01,37.38L654.06,36.33L655.11,37.38L654.06,38.43Z" fill="#D66C78" opacity="0.85"/>
<path d="M531.75,78.15L532.8,77.1L533.85,78.15L532.8,79.2Z" fill="#D66C78" opacity="0.85"/>
<path d="M668.7,45.17L669.75,44.12L670.8,45.17L669.75,46.22Z" fill="#D66C78" opacity="0.85"/>
<path d="M556.67,108.17L557.72,107.12L558.77,108.17L557.72,109.22Z" fill="#D66C78" opacity="0.85"/>
<path d="M665.21,45.4L666.26,44.35L667.31,45.4L666.26,46.45Z" fill="#D66C78" opacity="0.85"/>
<path d="M579.34,102.87L580.39,101.82L581.44,102.87L580.39,103.92Z" fill="#D66C78" opacity="0.85"/>
<path d="M633.66,39.23L634.71,38.18L635.76,39.23L634.71,40.28Z" fill="#D66C78" opacity="0.85"/>
<path d="M638.1,38.12L639.15,37.07L640.2,38.12L639.15,39.17Z" fill="#D66C78" opacity="0.85"/>
<path d="M556.49,107.92L557.54,106.87L558.59,107.92L557.54,108.97Z" fill="#D66C78" opacity="0.85"/>
<path d="M597.08,82.94L598.13,81.89L599.18,82.94L598.13,83.99Z" fill="#D66C78" opacity="0.85"/>
<path d="M536.88,91.17L537.93,90.12L538.98,91.17L537.93,92.22Z" fill="#D66C78" opacity="0.85"/>
<path d="M627.2,46.63L628.25,45.58L629.3,46.63L628.25,47.68Z" fill="#D66C78" opacity="0.85"/>
<path d="M569.03,111.74L570.08,110.69L571.13,111.74L570.08,112.79Z" fill="#D66C78" opacity="0.85"/>
<path d="M547.02,99.21L548.07,98.16L549.12,99.21L548.07,100.26Z" fill="#D66C78" opacity="0.85"/>
<path d="M611.59,62.01L612.64,60.96L613.69,62.01L612.64,63.06Z" fill="#D66C78" opacity="0.85"/>
<path d="M657.92,35.55L658.97,34.5L660.02,35.55L658.97,36.6Z" fill="#D66C78" opacity="0.85"/>
<path d="M638.26,35.33L639.31,34.28L640.36,35.33L639.31,36.38Z" fill="#D66C78" opacity="0.85"/>
<path d="M661.39,40.26L662.44,39.21L663.49,40.26L662.44,41.31Z" fill="#D66C78" opacity="0.85"/>
<path d="M611.16,64.52L612.21,63.47L613.26,64.52L612.21,65.57Z" fill="#D66C78" opacity="0.85"/>
<path d="M534.44,82.25L535.49,81.2L536.54,82.25L535.49,83.3Z" fill="#D66C78" opacity="0.85"/>
<path d="M527.59,73.35L528.64,72.3L529.69,73.35L528.64,74.4Z" fill="#D66C78" opacity="0.85"/>
<path d="M623.34,46.33L624.39,45.28L625.44,46.33L624.39,47.38Z" fill="#D66C78" opacity="0.85"/>
<path d="M661.87,39.98L662.92,38.93L663.97,39.98L662.92,41.03Z" fill="#D66C78" opacity="0.85"/>
<path d="M557.36,110.29L558.41,109.24L559.46,110.29L558.41,111.34Z" fill="#D66C78" opacity="0.85"/>
<path d="M599.61,81.08L600.66,80.03L601.71,81.08L600.66,82.13Z" fill="#D66C78" opacity="0.85"/>
<path d="M658.34,39.81L659.39,38.76L660.44,39.81L659.39,40.86Z" fill="#D66C78" opacity="0.85"/>
<path d="M641.5,36.23L642.55,35.18L643.6,36.23L642.55,37.28Z" fill="#D66C78" opacity="0.85"/>
<path d="M656.84,37.89L657.89,36.84L658.94,37.89L657.89,38.94Z" fill="#D66C78" opacity="0.85"/>
<path d="M623.97,46.41L625.02,45.36L626.07,46.41L625.02,47.46Z" fill="#D66C78" opacity="0.85"/>
<path d="M621.88,49.78L622.93,48.73L623.98,49.78L622.93,50.83Z" fill="#D66C78" opacity="0.85"/>
<path d="M611.1,63.07L612.15,62.02L613.2,63.07L612.15,64.12Z" fill="#D66C78" opacity="0.85"/>
<path d="M543.9,92.54L544.95,91.49L546,92.54L544.95,93.59Z" fill="#D66C78" opacity="0.85"/>
<path d="M665.59,44.49L666.64,43.44L667.69,44.49L666.64,45.54Z" fill="#D66C78" opacity="0.85"/>
<path d="M667.19,46.08L668.24,45.03L669.29,46.08L668.24,47.13Z" fill="#D66C78" opacity="0.85"/>
<path d="M626.71,42.77L627.76,41.72L628.81,42.77L627.76,43.82Z" fill="#D66C78" opacity="0.85"/>
<path d="M603.94,74.9L604.99,73.85L606.04,74.9L604.99,75.95Z" fill="#D66C78" opacity="0.85"/>
<path d="M658.62,39.41L659.67,38.36L660.72,39.41L659.67,40.46Z" fill="#D66C78" opacity="0.85"/>
<path d="M543.28,92.5L544.33,91.45L545.38,92.5L544.33,93.55Z" fill="#D66C78" opacity="0.85"/>
<path d="M641.71,34.14L642.76,33.09L643.81,34.14L642.76,35.19Z" fill="#D66C78" opacity="0.85"/>
<path d="M630.13,42.94L631.18,41.89L632.23,42.94L631.18,43.99Z" fill="#D66C78" opacity="0.85"/>
<path d="M542.12,92.82L543.17,91.77L544.22,92.82L543.17,93.87Z" fill="#D66C78" opacity="0.85"/>
<path d="M592.82,89.71L593.87,88.66L594.92,89.71L593.87,90.76Z" fill="#D66C78" opacity="0.85"/>
<path d="M633.73,35.4L634.78,34.35L635.83,35.4L634.78,36.45Z" fill="#D66C78" opacity="0.85"/>
<path d="M526.5,72.01L527.55,70.96L528.6,72.01L527.55,73.06Z" fill="#D66C78" opacity="0.85"/>
<path d="M581.25,102.66L582.3,101.61L583.35,102.66L582.3,103.71Z" fill="#D66C78" opacity="0.85"/>
<path d="M609.71,64.36L610.76,63.31L611.81,64.36L610.76,65.41Z" fill="#D66C78" opacity="0.85"/>
<path d="M615.53,57.08L616.58,56.03L617.63,57.08L616.58,58.13Z" fill="#D66C78" opacity="0.85"/>
<path d="M673.44,53.7L674.49,52.65L675.54,53.7L674.49,54.75Z" fill="#D66C78" opacity="0.85"/>
<path d="M650.83,35.07L651.88,34.02L652.93,35.07L651.88,36.12Z" fill="#D66C78" opacity="0.85"/>
<path d="M518.37,59.66L519.42,58.61L520.47,59.66L519.42,60.71Z" fill="#D66C78" opacity="0.85"/>
<path d="M536.78,87.38L537.83,86.33L538.88,87.38L537.83,88.43Z" fill="#D66C78" opacity="0.85"/>
<path d="M603.79,78.67L604.84,77.62L605.89,78.67L604.84,79.72Z" fill="#D66C78" opacity="0.85"/>
<path d="M594.43,87.2L595.48,86.15L596.53,87.2L595.48,88.25Z" fill="#D66C78" opacity="0.85"/>
<path d="M631,37.6L632.05,36.55L633.1,37.6L632.05,38.65Z" fill="#D66C78" opacity="0.85"/>
<path d="M653.23,34.84L654.28,33.79L655.33,34.84L654.28,35.89Z" fill="#D66C78" opacity="0.85"/>
<path d="M580.65,103.38L581.7,102.33L582.75,103.38L581.7,104.43Z" fill="#D66C78" opacity="0.85"/>
<path d="M654.29,35.47L655.34,34.42L656.39,35.47L655.34,36.52Z" fill="#D66C78" opacity="0.85"/>
<path d="M666.17,46.02L667.22,44.97L668.27,46.02L667.22,47.07Z" fill="#D66C78" opacity="0.85"/>
<path d="M604.52,73.1L605.57,72.05L606.62,73.1L605.57,74.15Z" fill="#D66C78" opacity="0.85"/>
<path d="M639.91,36.87L640.96,35.82L642.01,36.87L640.96,37.92Z" fill="#D66C78" opacity="0.85"/>
<path d="M544.83,96.38L545.88,95.33L546.93,96.38L545.88,97.43Z" fill="#D66C78" opacity="0.85"/>
<path d="M527.09,71.38L528.14,70.33L529.19,71.38L528.14,72.43Z" fill="#D66C78" opacity="0.85"/>
<path d="M587.42,95.61L588.47,94.56L589.52,95.61L588.47,96.66Z" fill="#D66C78" opacity="0.85"/>
<path d="M540.33,90.34L541.38,89.29L542.43,90.34L541.38,91.39Z" fill="#D66C78" opacity="0.85"/>
<path d="M568.48,110.64L569.53,109.59L570.58,110.64L569.53,111.69Z" fill="#D66C78" opacity="0.85"/>
<path d="M673.96,51.14L675.01,50.09L676.06,51.14L675.01,52.19Z" fill="#D66C78" opacity="0.85"/>
<path d="M559.75,104.85L560.8,103.8L561.85,104.85L560.8,105.9Z" fill="#D66C78" opacity="0.85"/>
<path d="M579.61,102.54L580.66,101.49L581.71,102.54L580.66,103.59Z" fill="#D66C78" opacity="0.85"/>
<path d="M574.82,105.66L575.87,104.61L576.92,105.66L575.87,106.71Z" fill="#D66C78" opacity="0.85"/>
<path d="M600.73,78.7L601.78,77.65L602.83,78.7L601.78,79.75Z" fill="#D66C78" opacity="0.85"/>
<path d="M666.73,46.11L667.78,45.06L668.83,46.11L667.78,47.16Z" fill="#D66C78" opacity="0.85"/>
<path d="M566.92,108.96L567.97,107.91L569.02,108.96L567.97,110.01Z" fill="#D66C78" opacity="0.85"/>
<path d="M648.6,33.78L649.65,32.73L650.7,33.78L649.65,34.83Z" fill="#D66C78" opacity="0.85"/>
<path d="M555.12,106.08L556.17,105.03L557.22,106.08L556.17,107.13Z" fill="#D66C78" opacity="0.85"/>
<path d="M583.73,100.06L584.78,99.01L585.83,100.06L584.78,101.11Z" fill="#D66C78" opacity="0.85"/>
<path d="M624.43,46.43L625.48,45.38L626.53,46.43L625.48,47.48Z" fill="#D66C78" opacity="0.85"/>
<path d="M665.9,45.81L666.95,44.76L668,45.81L666.95,46.86Z" fill="#D66C78" opacity="0.85"/>
<path d="M633.46,37.57L634.51,36.52L635.56,37.57L634.51,38.62Z" fill="#D66C78" opacity="0.85"/>
<path d="M611.2,60.48L612.25,59.43L613.3,60.48L612.25,61.53Z" fill="#D66C78" opacity="0.85"/>
<path d="M619.64,52.82L620.69,51.77L621.74,52.82L620.69,53.87Z" fill="#D66C78" opacity="0.85"/>
<path d="M621.62,46.61L622.67,45.56L623.72,46.61L622.67,47.66Z" fill="#D66C78" opacity="0.85"/>
<path d="M659.65,40.07L660.7,39.02L661.75,40.07L660.7,41.12Z" fill="#D66C78" opacity="0.85"/>
<path d="M551.47,103.31L552.52,102.26L553.57,103.31L552.52,104.36Z" fill="#D66C78" opacity="0.85"/>
<path d="M562.86,105.71L563.91,104.66L564.96,105.71L563.91,106.76Z" fill="#D66C78" opacity="0.85"/>
<path d="M662.56,42.66L663.61,41.61L664.66,42.66L663.61,43.71Z" fill="#D66C78" opacity="0.85"/>
<path d="M658.11,36.77L659.16,35.72L660.21,36.77L659.16,37.82Z" fill="#D66C78" opacity="0.85"/>
<path d="M644.47,36.37L645.52,35.32L646.57,36.37L645.52,37.42Z" fill="#D66C78" opacity="0.85"/>
<path d="M592.21,89.39L593.26,88.34L594.31,89.39L593.26,90.44Z" fill="#D66C78" opacity="0.85"/>
<path d="M640.18,35.33L641.23,34.28L642.28,35.33L641.23,36.38Z" fill="#D66C78" opacity="0.85"/>
<path d="M543.94,93.41L544.99,92.36L546.04,93.41L544.99,94.46Z" fill="#D66C78" opacity="0.85"/>
<path d="M637.4,37.33L638.45,36.28L639.5,37.33L638.45,38.38Z" fill="#D66C78" opacity="0.85"/>
<path d="M627.09,46.81L628.14,45.76L629.19,46.81L628.14,47.86Z" fill="#D66C78" opacity="0.85"/>
<path d="M534.15,81.76L535.2,80.71L536.25,81.76L535.2,82.81Z" fill="#D66C78" opacity="0.85"/>
<path d="M603.95,73.18L605,72.13L606.05,73.18L605,74.23Z" fill="#D66C78" opacity="0.85"/>
<path d="M587.37,96.03L588.42,94.98L589.47,96.03L588.42,97.08Z" fill="#D66C78" opacity="0.85"/>
<path d="M596.09,85.11L597.14,84.06L598.19,85.11L597.14,86.16Z" fill="#D66C78" opacity="0.85"/>
<path d="M517.84,58.45L518.89,57.4L519.94,58.45L518.89,59.5Z" fill="#D66C78" opacity="0.85"/>
<path d="M645.19,33.96L646.24,32.91L647.29,33.96L646.24,35.01Z" fill="#D66C78" opacity="0.85"/>
<path d="M675.9,59.9L676.95,58.85L678,59.9L676.95,60.95Z" fill="#D66C78" opacity="0.85"/>
<path d="M607.93,69.12L608.98,68.07L610.03,69.12L608.98,70.17Z" fill="#D66C78" opacity="0.85"/>
<path d="M581.79,102.77L582.84,101.72L583.89,102.77L582.84,103.82Z" fill="#D66C78" opacity="0.85"/>
<path d="M569.32,107.01L570.37,105.96L571.42,107.01L570.37,108.06Z" fill="#D66C78" opacity="0.85"/>
<path d="M632.02,39.68L633.07,38.63L634.12,39.68L633.07,40.73Z" fill="#D66C78" opacity="0.85"/>
<path d="M542.86,93.71L543.91,92.66L544.96,93.71L543.91,94.76Z" fill="#D66C78" opacity="0.85"/>
<path d="M662.42,41.97L663.47,40.92L664.52,41.97L663.47,43.02Z" fill="#D66C78" opacity="0.85"/>
<path d="M627.86,44.97L628.91,43.92L629.96,44.97L628.91,46.02Z" fill="#D66C78" opacity="0.85"/>
<path d="M642.07,34.75L643.12,33.7L644.17,34.75L643.12,35.8Z" fill="#D66C78" opacity="0.85"/>
<path d="M631.34,39.37L632.39,38.32L633.44,39.37L632.39,40.42Z" fill="#D66C78" opacity="0.85"/>
<path d="M524.74,68.91L525.79,67.86L526.84,68.91L525.79,69.96Z" fill="#D66C78" opacity="0.85"/>
<path d="M616.51,55.57L617.56,54.52L618.61,55.57L617.56,56.62Z" fill="#D66C78" opacity="0.85"/>
<path d="M650.47,36.68L651.52,35.63L652.57,36.68L651.52,37.73Z" fill="#D66C78" opacity="0.85"/>
<path d="M589.43,92.73L590.48,91.68L591.53,92.73L590.48,93.78Z" fill="#D66C78" opacity="0.85"/>
<path d="M563.39,108.91L564.44,107.86L565.49,108.91L564.44,109.96Z" fill="#D66C78" opacity="0.85"/>
<path d="M658.96,38.28L660.01,37.23L661.06,38.28L660.01,39.33Z" fill="#D66C78" opacity="0.85"/>
<path d="M636.83,37.81L637.88,36.76L638.93,37.81L637.88,38.86Z" fill="#D66C78" opacity="0.85"/>
<path d="M632.45,40.07L633.5,39.02L634.55,40.07L633.5,41.12Z" fill="#D66C78" opacity="0.85"/>
<path d="M675.71,57.4L676.76,56.35L677.81,57.4L676.76,58.45Z" fill="#D66C78" opacity="0.85"/>
<path d="M596.74,82.51L597.79,81.46L598.84,82.51L597.79,83.56Z" fill="#D66C78" opacity="0.85"/>
<path d="M535.24,86.18L536.29,85.13L537.34,86.18L536.29,87.23Z" fill="#D66C78" opacity="0.85"/>
<path d="M550.61,101.94L551.66,100.89L552.71,101.94L551.66,102.99Z" fill="#D66C78" opacity="0.85"/>
<path d="M558.13,106.16L559.18,105.11L560.23,106.16L559.18,107.21Z" fill="#D66C78" opacity="0.85"/>
<path d="M609.67,65.24L610.72,64.19L611.77,65.24L610.72,66.29Z" fill="#D66C78" opacity="0.85"/>
<path d="M574.75,107.09L575.8,106.04L576.85,107.09L575.8,108.14Z" fill="#D66C78" opacity="0.85"/>
<path d="M611.85,59.07L612.9,58.02L613.95,59.07L612.9,60.12Z" fill="#D66C78" opacity="0.85"/>
<path d="M665.84,46.6L666.89,45.55L667.94,46.6L666.89,47.65Z" fill="#D66C78" opacity="0.85"/>
<path d="M597.86,61.57L598.91,60.52L599.96,61.57L598.91,62.62Z" fill="#5690CD" opacity="0.85"/>
<path d="M600.91,68.68L601.96,67.63L603.01,68.68L601.96,69.73Z" fill="#5690CD" opacity="0.85"/>
<path d="M593.47,51.5L594.52,50.45L595.57,51.5L594.52,52.55Z" fill="#5690CD" opacity="0.85"/>
<path d="M639.95,132.41L641,131.36L642.05,132.41L641,133.46Z" fill="#5690CD" opacity="0.85"/>
<path d="M571.31,16.5L572.36,15.45L573.41,16.5L572.36,17.55Z" fill="#5690CD" opacity="0.85"/>
<path d="M655.84,117.52L656.89,116.47L657.94,117.52L656.89,118.57Z" fill="#5690CD" opacity="0.85"/>
<path d="M620.11,104.63L621.16,103.58L622.21,104.63L621.16,105.68Z" fill="#5690CD" opacity="0.85"/>
<path d="M623.37,110.81L624.42,109.76L625.47,110.81L624.42,111.86Z" fill="#5690CD" opacity="0.85"/>
<path d="M640.39,132.79L641.44,131.74L642.49,132.79L641.44,133.84Z" fill="#5690CD" opacity="0.85"/>
<path d="M669.37,93.72L670.42,92.67L671.47,93.72L670.42,94.77Z" fill="#5690CD" opacity="0.85"/>
<path d="M576.24,26.05L577.29,25L578.34,26.05L577.29,27.1Z" fill="#5690CD" opacity="0.85"/>
<path d="M627.34,114.67L628.39,113.62L629.44,114.67L628.39,115.72Z" fill="#5690CD" opacity="0.85"/>
<path d="M599,64.52L600.05,63.47L601.1,64.52L600.05,65.57Z" fill="#5690CD" opacity="0.85"/>
<path d="M531.21,57.1L532.26,56.05L533.31,57.1L532.26,58.15Z" fill="#5690CD" opacity="0.85"/>
<path d="M634.45,120.7L635.5,119.65L636.55,120.7L635.5,121.75Z" fill="#5690CD" opacity="0.85"/>
<path d="M660.68,110.81L661.73,109.76L662.78,110.81L661.73,111.86Z" fill="#5690CD" opacity="0.85"/>
<path d="M624.2,111.39L625.25,110.34L626.3,111.39L625.25,112.44Z" fill="#5690CD" opacity="0.85"/>
<path d="M663.8,105.26L664.85,104.21L665.9,105.26L664.85,106.31Z" fill="#5690CD" opacity="0.85"/>
<path d="M666.15,102L667.2,100.95L668.25,102L667.2,103.05Z" fill="#5690CD" opacity="0.85"/>
<path d="M667.34,99.76L668.39,98.71L669.44,99.76L668.39,100.81Z" fill="#5690CD" opacity="0.85"/>
<path d="M541.35,38.03L542.4,36.98L543.45,38.03L542.4,39.08Z" fill="#5690CD" opacity="0.85"/>
<path d="M568.96,15.06L570.01,14.01L571.06,15.06L570.01,16.11Z" fill="#5690CD" opacity="0.85"/>
<path d="M651.01,122.95L652.06,121.9L653.11,122.95L652.06,124Z" fill="#5690CD" opacity="0.85"/>
<path d="M524.2,69.69L525.25,68.64L526.3,69.69L525.25,70.74Z" fill="#5690CD" opacity="0.85"/>
<path d="M592,51.44L593.05,50.39L594.1,51.44L593.05,52.49Z" fill="#5690CD" opacity="0.85"/>
<path d="M656.71,114.79L657.76,113.74L658.81,114.79L657.76,115.84Z" fill="#5690CD" opacity="0.85"/>
<path d="M651.68,116.6L652.73,115.55L653.78,116.6L652.73,117.65Z" fill="#5690CD" opacity="0.85"/>
<path d="M572.63,19.18L573.68,18.13L574.73,19.18L573.68,20.23Z" fill="#5690CD" opacity="0.85"/>
<path d="M532.53,56.13L533.58,55.08L534.63,56.13L533.58,57.18Z" fill="#5690CD" opacity="0.85"/>
<path d="M660.48,111.23L661.53,110.18L662.58,111.23L661.53,112.28Z" fill="#5690CD" opacity="0.85"/>
<path d="M622.29,108.72L623.34,107.67L624.39,108.72L623.34,109.77Z" fill="#5690CD" opacity="0.85"/>
<path d="M611.3,91.01L612.35,89.96L613.4,91.01L612.35,92.06Z" fill="#5690CD" opacity="0.85"/>
<path d="M571.35,17.79L572.4,16.74L573.45,17.79L572.4,18.84Z" fill="#5690CD" opacity="0.85"/>
<path d="M601.99,72.47L603.04,71.42L604.09,72.47L603.04,73.52Z" fill="#5690CD" opacity="0.85"/>
<path d="M599.5,64.74L600.55,63.69L601.6,64.74L600.55,65.79Z" fill="#5690CD" opacity="0.85"/>
<path d="M674.97,83.58L676.02,82.53L677.07,83.58L676.02,84.63Z" fill="#5690CD" opacity="0.85"/>
<path d="M642.36,135.08L643.41,134.03L644.46,135.08L643.41,136.13Z" fill="#5690CD" opacity="0.85"/>
<path d="M520.63,78.74L521.68,77.69L522.73,78.74L521.68,79.79Z" fill="#5690CD" opacity="0.85"/>
<path d="M558.33,11.55L559.38,10.5L560.43,11.55L559.38,12.6Z" fill="#5690CD" opacity="0.85"/>
<path d="M617.07,102.48L618.12,101.43L619.17,102.48L618.12,103.53Z" fill="#5690CD" opacity="0.85"/>
<path d="M629.66,119.18L630.71,118.13L631.76,119.18L630.71,120.23Z" fill="#5690CD" opacity="0.85"/>
<path d="M653.16,118.27L654.21,117.22L655.26,118.27L654.21,119.32Z" fill="#5690CD" opacity="0.85"/>
<path d="M581.66,31.71L582.71,30.66L583.76,31.71L582.71,32.76Z" fill="#5690CD" opacity="0.85"/>
<path d="M522.27,75.98L523.32,74.93L524.37,75.98L523.32,77.03Z" fill="#5690CD" opacity="0.85"/>
<path d="M529.95,64.45L531,63.4L532.05,64.45L531,65.5Z" fill="#5690CD" opacity="0.85"/>
<path d="M675.6,83.61L676.65,82.56L677.7,83.61L676.65,84.66Z" fill="#5690CD" opacity="0.85"/>
<path d="M579.12,29.28L580.17,28.23L581.22,29.28L580.17,30.33Z" fill="#5690CD" opacity="0.85"/>
<path d="M667.84,95.1L668.89,94.05L669.94,95.1L668.89,96.15Z" fill="#5690CD" opacity="0.85"/>
<path d="M622.44,108.78L623.49,107.73L624.54,108.78L623.49,109.83Z" fill="#5690CD" opacity="0.85"/>
<path d="M524.25,69.27L525.3,68.22L526.35,69.27L525.3,70.32Z" fill="#5690CD" opacity="0.85"/>
<path d="M632.19,121.8L633.24,120.75L634.29,121.8L633.24,122.85Z" fill="#5690CD" opacity="0.85"/>
<path d="M586.22,39.1L587.27,38.05L588.32,39.1L587.27,40.15Z" fill="#5690CD" opacity="0.85"/>
<path d="M538.2,46.16L539.25,45.11L540.3,46.16L539.25,47.21Z" fill="#5690CD" opacity="0.85"/>
<path d="M520.3,76.79L521.35,75.74L522.4,76.79L521.35,77.84Z" fill="#5690CD" opacity="0.85"/>
<path d="M568.09,13.43L569.14,12.38L570.19,13.43L569.14,14.48Z" fill="#5690CD" opacity="0.85"/>
<path d="M573.33,19.88L574.38,18.83L575.43,19.88L574.38,20.93Z" fill="#5690CD" opacity="0.85"/>
<path d="M635.87,127.58L636.92,126.53L637.97,127.58L636.92,128.63Z" fill="#5690CD" opacity="0.85"/>
<path d="M671.35,90.08L672.4,89.03L673.45,90.08L672.4,91.13Z" fill="#5690CD" opacity="0.85"/>
<path d="M592.4,49.67L593.45,48.62L594.5,49.67L593.45,50.72Z" fill="#5690CD" opacity="0.85"/>
<path d="M658.84,110.87L659.89,109.82L660.94,110.87L659.89,111.92Z" fill="#5690CD" opacity="0.85"/>
<path d="M593.97,53.06L595.02,52.01L596.07,53.06L595.02,54.11Z" fill="#5690CD" opacity="0.85"/>
<path d="M619,102.6L620.05,101.55L621.1,102.6L620.05,103.65Z" fill="#5690CD" opacity="0.85"/>
<path d="M664.59,101.92L665.64,100.87L666.69,101.92L665.64,102.97Z" fill="#5690CD" opacity="0.85"/>
<path d="M639.87,130.38L640.92,129.33L641.97,130.38L640.92,131.43Z" fill="#5690CD" opacity="0.85"/>
<path d="M546.43,28.32L547.48,27.27L548.53,28.32L547.48,29.37Z" fill="#5690CD" opacity="0.85"/>
<path d="M610.82,84.21L611.87,83.16L612.92,84.21L611.87,85.26Z" fill="#5690CD" opacity="0.85"/>
<path d="M628.44,119.5L629.49,118.45L630.54,119.5L629.49,120.55Z" fill="#5690CD" opacity="0.85"/>
<path d="M547.68,29.49L548.73,28.44L549.78,29.49L548.73,30.54Z" fill="#5690CD" opacity="0.85"/>
<path d="M673.82,86.94L674.87,85.89L675.92,86.94L674.87,87.99Z" fill="#5690CD" opacity="0.85"/>
<path d="M644.48,131.96L645.53,130.91L646.58,131.96L645.53,133.01Z" fill="#5690CD" opacity="0.85"/>
<path d="M669.13,95.32L670.18,94.27L671.23,95.32L670.18,96.37Z" fill="#5690CD" opacity="0.85"/>
<path d="M524.2,72.64L525.25,71.59L526.3,72.64L525.25,73.69Z" fill="#5690CD" opacity="0.85"/>
<path d="M554.73,15.58L555.78,14.53L556.83,15.58L555.78,16.63Z" fill="#5690CD" opacity="0.85"/>
<path d="M664.4,103L665.45,101.95L666.5,103L665.45,104.05Z" fill="#5690CD" opacity="0.85"/>
<path d="M527.21,63.43L528.26,62.38L529.31,63.43L528.26,64.48Z" fill="#5690CD" opacity="0.85"/>
<path d="M634.09,126.64L635.14,125.59L636.19,126.64L635.14,127.69Z" fill="#5690CD" opacity="0.85"/>
<path d="M569.75,16.87L570.8,15.82L571.85,16.87L570.8,17.92Z" fill="#5690CD" opacity="0.85"/>
<path d="M539.4,40.6L540.45,39.55L541.5,40.6L540.45,41.65Z" fill="#5690CD" opacity="0.85"/>
<path d="M589.5,44.38L590.55,43.33L591.6,44.38L590.55,45.43Z" fill="#5690CD" opacity="0.85"/>
<path d="M588.05,44.9L589.1,43.85L590.15,44.9L589.1,45.95Z" fill="#5690CD" opacity="0.85"/>
<path d="M557.19,14.32L558.24,13.27L559.29,14.32L558.24,15.37Z" fill="#5690CD" opacity="0.85"/>
<path d="M525.05,69.21L526.1,68.16L527.15,69.21L526.1,70.26Z" fill="#5690CD" opacity="0.85"/>
<path d="M555.96,14.28L557.01,13.23L558.06,14.28L557.01,15.33Z" fill="#5690CD" opacity="0.85"/>
<path d="M672.92,88.66L673.97,87.61L675.02,88.66L673.97,89.71Z" fill="#5690CD" opacity="0.85"/>
<path d="M601.4,71.07L602.45,70.02L603.5,71.07L602.45,72.12Z" fill="#5690CD" opacity="0.85"/>
<path d="M579.93,29.83L580.98,28.78L582.03,29.83L580.98,30.88Z" fill="#5690CD" opacity="0.85"/>
<path d="M658.29,113.1L659.34,112.05L660.39,113.1L659.34,114.15Z" fill="#5690CD" opacity="0.85"/>
<path d="M590.83,49.91L591.88,48.86L592.93,49.91L591.88,50.96Z" fill="#5690CD" opacity="0.85"/>
<path d="M577.17,27.77L578.22,26.72L579.27,27.77L578.22,28.82Z" fill="#5690CD" opacity="0.85"/>
<path d="M671.87,88.94L672.92,87.89L673.97,88.94L672.92,89.99Z" fill="#5690CD" opacity="0.85"/>
<path d="M558.73,11.31L559.78,10.26L560.83,11.31L559.78,12.36Z" fill="#5690CD" opacity="0.85"/>
<path d="M580.73,28.56L581.78,27.51L582.83,28.56L581.78,29.61Z" fill="#5690CD" opacity="0.85"/>
<path d="M621.19,106.47L622.24,105.42L623.29,106.47L622.24,107.52Z" fill="#5690CD" opacity="0.85"/>
<path d="M656.52,116.64L657.57,115.59L658.62,116.64L657.57,117.69Z" fill="#5690CD" opacity="0.85"/>
<path d="M659.61,109.46L660.66,108.41L661.71,109.46L660.66,110.51Z" fill="#5690CD" opacity="0.85"/>
<path d="M549.67,24.75L550.72,23.7L551.77,24.75L550.72,25.8Z" fill="#5690CD" opacity="0.85"/>
<path d="M564.43,11.65L565.48,10.6L566.53,11.65L565.48,12.7Z" fill="#5690CD" opacity="0.85"/>
<path d="M629.32,120.63L630.37,119.58L631.42,120.63L630.37,121.68Z" fill="#5690CD" opacity="0.85"/>
<path d="M659.07,113.03L660.12,111.98L661.17,113.03L660.12,114.08Z" fill="#5690CD" opacity="0.85"/>
<path d="M616.81,99.01L617.86,97.96L618.91,99.01L617.86,100.06Z" fill="#5690CD" opacity="0.85"/>
<path d="M615.14,95.84L616.19,94.79L617.24,95.84L616.19,96.89Z" fill="#5690CD" opacity="0.85"/>
<path d="M591.46,49.42L592.51,48.37L593.56,49.42L592.51,50.47Z" fill="#5690CD" opacity="0.85"/>
<path d="M610.27,86.52L611.32,85.47L612.37,86.52L611.32,87.57Z" fill="#5690CD" opacity="0.85"/>
<path d="M566.86,12.94L567.91,11.89L568.96,12.94L567.91,13.99Z" fill="#5690CD" opacity="0.85"/>
<path d="M529.9,60.43L530.95,59.38L532,60.43L530.95,61.48Z" fill="#5690CD" opacity="0.85"/>
<path d="M663.13,105.56L664.18,104.51L665.23,105.56L664.18,106.61Z" fill="#5690CD" opacity="0.85"/>
<path d="M535.05,50.08L536.1,49.03L537.15,50.08L536.1,51.13Z" fill="#5690CD" opacity="0.85"/>
<path d="M617.85,90.04L618.9,88.99L619.95,90.04L618.9,91.09Z" fill="#5690CD" opacity="0.85"/>
<path d="M570.99,12.94L572.04,11.89L573.09,12.94L572.04,13.99Z" fill="#5690CD" opacity="0.85"/>
<path d="M519.58,80.24L520.63,79.19L521.68,80.24L520.63,81.29Z" fill="#5690CD" opacity="0.85"/>
<path d="M549.96,19.03L551.01,17.98L552.06,19.03L551.01,20.08Z" fill="#5690CD" opacity="0.85"/>
<path d="M588.37,45.19L589.42,44.14L590.47,45.19L589.42,46.24Z" fill="#5690CD" opacity="0.85"/>
<path d="M670.05,94.38L671.1,93.33L672.15,94.38L671.1,95.43Z" fill="#5690CD" opacity="0.85"/>
<path d="M632.88,119.49L633.93,118.44L634.98,119.49L633.93,120.54Z" fill="#5690CD" opacity="0.85"/>
<path d="M625.35,115.53L626.4,114.48L627.45,115.53L626.4,116.58Z" fill="#5690CD" opacity="0.85"/>
<path d="M552.9,18.9L553.95,17.85L555,18.9L553.95,19.95Z" fill="#5690CD" opacity="0.85"/>
<path d="M671.34,92.72L672.39,91.67L673.44,92.72L672.39,93.77Z" fill="#5690CD" opacity="0.85"/>
<path d="M585.23,35.91L586.28,34.86L587.33,35.91L586.28,36.96Z" fill="#5690CD" opacity="0.85"/>
<path d="M591.77,48.31L592.82,47.26L593.87,48.31L592.82,49.36Z" fill="#5690CD" opacity="0.85"/>
<path d="M537.26,44.22L538.31,43.17L539.36,44.22L538.31,45.27Z" fill="#5690CD" opacity="0.85"/>
<path d="M538.5,43.52L539.55,42.47L540.6,43.52L539.55,44.57Z" fill="#5690CD" opacity="0.85"/>
<path d="M527.4,65.18L528.45,64.13L529.5,65.18L528.45,66.23Z" fill="#5690CD" opacity="0.85"/>
<path d="M584.42,36.91L585.47,35.86L586.52,36.91L585.47,37.96Z" fill="#5690CD" opacity="0.85"/>
<path d="M601.42,69.45L602.47,68.4L603.52,69.45L602.47,70.5Z" fill="#5690CD" opacity="0.85"/>
<path d="M667.54,100.61L668.59,99.56L669.64,100.61L668.59,101.66Z" fill="#5690CD" opacity="0.85"/>
<path d="M665.03,102.89L666.08,101.84L667.13,102.89L666.08,103.94Z" fill="#5690CD" opacity="0.85"/>
<path d="M651.57,124.42L652.62,123.37L653.67,124.42L652.62,125.47Z" fill="#5690CD" opacity="0.85"/>
<path d="M598.44,62.62L599.49,61.57L600.54,62.62L599.49,63.67Z" fill="#5690CD" opacity="0.85"/>
<path d="M573.9,20.73L574.95,19.68L576,20.73L574.95,21.78Z" fill="#5690CD" opacity="0.85"/>
<path d="M558.9,14.37L559.95,13.32L561,14.37L559.95,15.42Z" fill="#5690CD" opacity="0.85"/>
<path d="M586.31,41.42L587.36,40.37L588.41,41.42L587.36,42.47Z" fill="#5690CD" opacity="0.85"/>
<path d="M613.46,94.29L614.51,93.24L615.56,94.29L614.51,95.34Z" fill="#5690CD" opacity="0.85"/>
<path d="M675.44,85.84L676.49,84.79L677.54,85.84L676.49,86.89Z" fill="#5690CD" opacity="0.85"/>
<path d="M567.18,15L568.23,13.95L569.28,15L568.23,16.05Z" fill="#5690CD" opacity="0.85"/>
<path d="M614.35,95.98L615.4,94.93L616.45,95.98L615.4,97.03Z" fill="#5690CD" opacity="0.85"/>
<path d="M600.05,63.28L601.1,62.23L602.15,63.28L601.1,64.33Z" fill="#5690CD" opacity="0.85"/>
<path d="M665.59,101.18L666.64,100.13L667.69,101.18L666.64,102.23Z" fill="#5690CD" opacity="0.85"/>
<path d="M618.49,103.61L619.54,102.56L620.59,103.61L619.54,104.66Z" fill="#5690CD" opacity="0.85"/>
<path d="M518.71,80.79L519.76,79.74L520.81,80.79L519.76,81.84Z" fill="#5690CD" opacity="0.85"/>
<path d="M560.64,13.33L561.69,12.28L562.74,13.33L561.69,14.38Z" fill="#5690CD" opacity="0.85"/>
<path d="M658.4,108.87L659.45,107.82L660.5,108.87L659.45,109.92Z" fill="#5690CD" opacity="0.85"/>
<path d="M576.45,27.38L577.5,26.33L578.55,27.38L577.5,28.43Z" fill="#5690CD" opacity="0.85"/>
<path d="M557.51,13.16L558.56,12.11L559.61,13.16L558.56,14.21Z" fill="#5690CD" opacity="0.85"/>
<path d="M557.08,15.47L558.13,14.42L559.18,15.47L558.13,16.52Z" fill="#5690CD" opacity="0.85"/>
<path d="M570.97,17L572.02,15.95L573.07,17L572.02,18.05Z" fill="#5690CD" opacity="0.85"/>
<path d="M615.9,95.76L616.95,94.71L618,95.76L616.95,96.81Z" fill="#5690CD" opacity="0.85"/>
<path d="M608.23,82.58L609.28,81.53L610.33,82.58L609.28,83.63Z" fill="#5690CD" opacity="0.85"/>
<path d="M619.65,103.21L620.7,102.16L621.75,103.21L620.7,104.26Z" fill="#5690CD" opacity="0.85"/>
<path d="M601.6,70.33L602.65,69.28L603.7,70.33L602.65,71.38Z" fill="#5690CD" opacity="0.85"/>
<path d="M628.06,117.87L629.11,116.82L630.16,117.87L629.11,118.92Z" fill="#5690CD" opacity="0.85"/>
<path d="M580.05,30.5L581.1,29.45L582.15,30.5L581.1,31.55Z" fill="#5690CD" opacity="0.85"/>
<path d="M518.9,82.38L519.95,81.33L521,82.38L519.95,83.43Z" fill="#5690CD" opacity="0.85"/>
<path d="M625.43,115.72L626.48,114.67L627.53,115.72L626.48,116.77Z" fill="#5690CD" opacity="0.85"/>
<path d="M609.5,87.06L610.55,86.01L611.6,87.06L610.55,88.11Z" fill="#5690CD" opacity="0.85"/>
<path d="M554.58,18.85L555.63,17.8L556.68,18.85L555.63,19.9Z" fill="#5690CD" opacity="0.85"/>
<path d="M644.07,130.19L645.12,129.14L646.17,130.19L645.12,131.24Z" fill="#5690CD" opacity="0.85"/>
<path d="M597.07,60.23L598.12,59.18L599.17,60.23L598.12,61.28Z" fill="#5690CD" opacity="0.85"/>
<path d="M616.04,97.13L617.09,96.08L618.14,97.13L617.09,98.18Z" fill="#5690CD" opacity="0.85"/>
<path d="M670.06,94.9L671.11,93.85L672.16,94.9L671.11,95.95Z" fill="#5690CD" opacity="0.85"/>
<path d="M541.47,38.8L542.52,37.75L543.57,38.8L542.52,39.85Z" fill="#5690CD" opacity="0.85"/>
<path d="M629.18,118.2L630.23,117.15L631.28,118.2L630.23,119.25Z" fill="#5690CD" opacity="0.85"/>
<path d="M611.4,89.62L612.45,88.57L613.5,89.62L612.45,90.67Z" fill="#5690CD" opacity="0.85"/>
<path d="M650.18,127.55L651.23,126.5L652.28,127.55L651.23,128.6Z" fill="#5690CD" opacity="0.85"/>
<path d="M607.09,81.72L608.14,80.67L609.19,81.72L608.14,82.77Z" fill="#5690CD" opacity="0.85"/>
<path d="M561.72,13.74L562.77,12.69L563.82,13.74L562.77,14.79Z" fill="#5690CD" opacity="0.85"/>
<path d="M571.5,18.12L572.55,17.07L573.6,18.12L572.55,19.17Z" fill="#5690CD" opacity="0.85"/>
<path d="M575.22,25.95L576.27,24.9L577.32,25.95L576.27,27Z" fill="#5690CD" opacity="0.85"/>
<path d="M636.12,129.36L637.17,128.31L638.22,129.36L637.17,130.41Z" fill="#5690CD" opacity="0.85"/>
<path d="M529.04,59.62L530.09,58.57L531.14,59.62L530.09,60.67Z" fill="#5690CD" opacity="0.85"/>
<path d="M656.14,115.56L657.19,114.51L658.24,115.56L657.19,116.61Z" fill="#5690CD" opacity="0.85"/>
<path d="M551.61,27.38L552.66,26.33L553.71,27.38L552.66,28.43Z" fill="#5690CD" opacity="0.85"/>
<path d="M522.67,74.31L523.72,73.26L524.77,74.31L523.72,75.36Z" fill="#5690CD" opacity="0.85"/>
<path d="M563.9,14.94L564.95,13.89L566,14.94L564.95,15.99Z" fill="#5690CD" opacity="0.85"/>
<path d="M543.19,38.64L544.24,37.59L545.29,38.64L544.24,39.69Z" fill="#5690CD" opacity="0.85"/>
<path d="M616.64,95.29L617.69,94.24L618.74,95.29L617.69,96.34Z" fill="#5690CD" opacity="0.85"/>
<path d="M582.57,33.04L583.62,31.99L584.67,33.04L583.62,34.09Z" fill="#5690CD" opacity="0.85"/>
<path d="M623.84,110.53L624.89,109.48L625.94,110.53L624.89,111.58Z" fill="#5690CD" opacity="0.85"/>
<path d="M626.9,114.46L627.95,113.41L629,114.46L627.95,115.51Z" fill="#5690CD" opacity="0.85"/>
<path d="M540.19,38.28L541.24,37.23L542.29,38.28L541.24,39.33Z" fill="#5690CD" opacity="0.85"/>
<path d="M573.67,21.91L574.72,20.86L575.77,21.91L574.72,22.96Z" fill="#5690CD" opacity="0.85"/>
<path d="M642.31,131.43L643.36,130.38L644.41,131.43L643.36,132.48Z" fill="#5690CD" opacity="0.85"/>
<path d="M568.4,14.46L569.45,13.41L570.5,14.46L569.45,15.51Z" fill="#5690CD" opacity="0.85"/>
<path d="M623.02,110.73L624.07,109.68L625.12,110.73L624.07,111.78Z" fill="#5690CD" opacity="0.85"/>
<path d="M588.77,46.85L589.82,45.8L590.87,46.85L589.82,47.9Z" fill="#5690CD" opacity="0.85"/>
<path d="M566.68,13.93L567.73,12.88L568.78,13.93L567.73,14.98Z" fill="#5690CD" opacity="0.85"/>
<path d="M532.35,55.92L533.4,54.87L534.45,55.92L533.4,56.97Z" fill="#5690CD" opacity="0.85"/>
<path d="M599.49,64.82L600.54,63.77L601.59,64.82L600.54,65.87Z" fill="#5690CD" opacity="0.85"/>
<path d="M542.39,37.68L543.44,36.63L544.49,37.68L543.44,38.73Z" fill="#5690CD" opacity="0.85"/>
<path d="M664.73,104.15L665.78,103.1L666.83,104.15L665.78,105.2Z" fill="#5690CD" opacity="0.85"/>
<path d="M556.02,17.19L557.07,16.14L558.12,17.19L557.07,18.24Z" fill="#5690CD" opacity="0.85"/>
<path d="M554,18.16L555.05,17.11L556.1,18.16L555.05,19.21Z" fill="#5690CD" opacity="0.85"/>
<path d="M527.4,61.92L528.45,60.87L529.5,61.92L528.45,62.97Z" fill="#5690CD" opacity="0.85"/>
<path d="M646.12,129.56L647.17,128.51L648.22,129.56L647.17,130.61Z" fill="#5690CD" opacity="0.85"/>
<path d="M607.21,87.85L608.26,86.8L609.31,87.85L608.26,88.9Z" fill="#5690CD" opacity="0.85"/>
<path d="M641.09,131.39L642.14,130.34L643.19,131.39L642.14,132.44Z" fill="#5690CD" opacity="0.85"/>
<path d="M631.98,122.73L633.03,121.68L634.08,122.73L633.03,123.78Z" fill="#5690CD" opacity="0.85"/>
<path d="M627.27,114.07L628.32,113.02L629.37,114.07L628.32,115.12Z" fill="#5690CD" opacity="0.85"/>
<path d="M520.27,77.59L521.32,76.54L522.37,77.59L521.32,78.64Z" fill="#5690CD" opacity="0.85"/>
<path d="M531.02,55.81L532.07,54.76L533.12,55.81L532.07,56.86Z" fill="#5690CD" opacity="0.85"/>
<path d="M532.65,55.34L533.7,54.29L534.75,55.34L533.7,56.39Z" fill="#5690CD" opacity="0.85"/>
<path d="M660.07,109.73L661.12,108.68L662.17,109.73L661.12,110.78Z" fill="#5690CD" opacity="0.85"/>
<path d="M597.32,60.73L598.37,59.68L599.42,60.73L598.37,61.78Z" fill="#5690CD" opacity="0.85"/>
<path d="M618.55,101.84L619.6,100.79L620.65,101.84L619.6,102.89Z" fill="#5690CD" opacity="0.85"/>
<path d="M538.14,45.02L539.19,43.97L540.24,45.02L539.19,46.07Z" fill="#5690CD" opacity="0.85"/>
<path d="M656.23,114.37L657.28,113.32L658.33,114.37L657.28,115.42Z" fill="#5690CD" opacity="0.85"/>
<path d="M601.17,67.21L602.22,66.16L603.27,67.21L602.22,68.26Z" fill="#5690CD" opacity="0.85"/>
<path d="M533.59,49.05L534.64,48L535.69,49.05L534.64,50.1Z" fill="#5690CD" opacity="0.85"/>
<path d="M535.27,47.02L536.32,45.97L537.37,47.02L536.32,48.07Z" fill="#5690CD" opacity="0.85"/>
<path d="M573.4,24.34L574.45,23.29L575.5,24.34L574.45,25.39Z" fill="#5690CD" opacity="0.85"/>
<path d="M614.71,95.84L615.76,94.79L616.81,95.84L615.76,96.89Z" fill="#5690CD" opacity="0.85"/>
<path d="M532.71,60.27L533.76,59.22L534.81,60.27L533.76,61.32Z" fill="#5690CD" opacity="0.85"/>
<path d="M667.76,99.41L668.81,98.36L669.86,99.41L668.81,100.46Z" fill="#5690CD" opacity="0.85"/>
<path d="M542.88,38.97L543.93,37.92L544.98,38.97L543.93,40.02Z" fill="#5690CD" opacity="0.85"/>
<path d="M542.47,37.56L543.52,36.51L544.57,37.56L543.52,38.61Z" fill="#5690CD" opacity="0.85"/>
<path d="M548.28,27.98L549.33,26.93L550.38,27.98L549.33,29.03Z" fill="#5690CD" opacity="0.85"/>
<path d="M541.8,36.29L542.85,35.24L543.9,36.29L542.85,37.34Z" fill="#5690CD" opacity="0.85"/>
<path d="M600.75,66.98L601.8,65.93L602.85,66.98L601.8,68.03Z" fill="#5690CD" opacity="0.85"/>
<path d="M665.39,102.63L666.44,101.58L667.49,102.63L666.44,103.68Z" fill="#5690CD" opacity="0.85"/>
<path d="M586.44,41.66L587.49,40.61L588.54,41.66L587.49,42.71Z" fill="#5690CD" opacity="0.85"/>
<path d="M605.57,80.48L606.62,79.43L607.67,80.48L606.62,81.53Z" fill="#5690CD" opacity="0.85"/>
<path d="M614.59,94.26L615.64,93.21L616.69,94.26L615.64,95.31Z" fill="#5690CD" opacity="0.85"/>
<path d="M659.53,111.92L660.58,110.87L661.63,111.92L660.58,112.97Z" fill="#5690CD" opacity="0.85"/>
<path d="M640.01,127.94L641.06,126.89L642.11,127.94L641.06,128.99Z" fill="#5690CD" opacity="0.85"/>
<path d="M525.03,67.11L526.08,66.06L527.13,67.11L526.08,68.16Z" fill="#5690CD" opacity="0.85"/>
<path d="M635.85,128.58L636.9,127.53L637.95,128.58L636.9,129.63Z" fill="#5690CD" opacity="0.85"/>
<path d="M610.74,85.93L611.79,84.88L612.84,85.93L611.79,86.98Z" fill="#5690CD" opacity="0.85"/>
<path d="M650.46,125.5L651.51,124.45L652.56,125.5L651.51,126.55Z" fill="#5690CD" opacity="0.85"/>
<path d="M648.62,129.17L649.67,128.12L650.72,129.17L649.67,130.22Z" fill="#5690CD" opacity="0.85"/>
<path d="M547.15,34.04L548.2,32.99L549.25,34.04L548.2,35.09Z" fill="#5690CD" opacity="0.85"/>
<path d="M622.52,106.91L623.57,105.86L624.62,106.91L623.57,107.96Z" fill="#5690CD" opacity="0.85"/>
<path d="M562.55,12.98L563.6,11.93L564.65,12.98L563.6,14.03Z" fill="#5690CD" opacity="0.85"/>
<path d="M659.64,108.56L660.69,107.51L661.74,108.56L660.69,109.61Z" fill="#5690CD" opacity="0.85"/>
<path d="M568.79,13.15L569.84,12.1L570.89,13.15L569.84,14.2Z" fill="#5690CD" opacity="0.85"/>
<path d="M640.17,134.02L641.22,132.97L642.27,134.02L641.22,135.07Z" fill="#5690CD" opacity="0.85"/>
<path d="M668.3,94.95L669.35,93.9L670.4,94.95L669.35,96Z" fill="#5690CD" opacity="0.85"/>
<path d="M632.64,123.34L633.69,122.29L634.74,123.34L633.69,124.39Z" fill="#5690CD" opacity="0.85"/>
<path d="M613.87,93.67L614.92,92.62L615.97,93.67L614.92,94.72Z" fill="#5690CD" opacity="0.85"/>
<path d="M647.88,126.74L648.93,125.69L649.98,126.74L648.93,127.79Z" fill="#5690CD" opacity="0.85"/>
<path d="M644.45,131.98L645.5,130.93L646.55,131.98L645.5,133.03Z" fill="#5690CD" opacity="0.85"/>
<path d="M617.65,101.51L618.7,100.46L619.75,101.51L618.7,102.56Z" fill="#5690CD" opacity="0.85"/>
<path d="M538.34,40.72L539.39,39.67L540.44,40.72L539.39,41.77Z" fill="#5690CD" opacity="0.85"/>
<path d="M608.51,84.95L609.56,83.9L610.61,84.95L609.56,86Z" fill="#5690CD" opacity="0.85"/>
<path d="M611.43,89.91L612.48,88.86L613.53,89.91L612.48,90.96Z" fill="#5690CD" opacity="0.85"/>
<path d="M665.53,103.19L666.58,102.14L667.63,103.19L666.58,104.24Z" fill="#5690CD" opacity="0.85"/>
<path d="M631.94,122.99L632.99,121.94L634.04,122.99L632.99,124.04Z" fill="#5690CD" opacity="0.85"/>
<path d="M646.11,130.09L647.16,129.04L648.21,130.09L647.16,131.14Z" fill="#5690CD" opacity="0.85"/>
<path d="M570.39,14.8L571.44,13.75L572.49,14.8L571.44,15.85Z" fill="#5690CD" opacity="0.85"/>
<path d="M648.38,126.75L649.43,125.7L650.48,126.75L649.43,127.8Z" fill="#5690CD" opacity="0.85"/>
<path d="M665.15,103.19L666.2,102.14L667.25,103.19L666.2,104.24Z" fill="#5690CD" opacity="0.85"/>
<path d="M648.48,127.65L649.53,126.6L650.58,127.65L649.53,128.7Z" fill="#5690CD" opacity="0.85"/>
<path d="M544.79,32.17L545.84,31.12L546.89,32.17L545.84,33.22Z" fill="#5690CD" opacity="0.85"/>
<path d="M554,16.86L555.05,15.81L556.1,16.86L555.05,17.91Z" fill="#5690CD" opacity="0.85"/>
<path d="M536.98,44.02L538.03,42.97L539.08,44.02L538.03,45.07Z" fill="#5690CD" opacity="0.85"/>
<path d="M632.18,120.25L633.23,119.2L634.28,120.25L633.23,121.3Z" fill="#5690CD" opacity="0.85"/>
<path d="M617.64,99.66L618.69,98.61L619.74,99.66L618.69,100.71Z" fill="#5690CD" opacity="0.85"/>
<path d="M639.87,132.58L640.92,131.53L641.97,132.58L640.92,133.63Z" fill="#5690CD" opacity="0.85"/>
<path d="M524.26,69.76L525.31,68.71L526.36,69.76L525.31,70.81Z" fill="#5690CD" opacity="0.85"/>
<path d="M601.2,70.88L602.25,69.83L603.3,70.88L602.25,71.93Z" fill="#5690CD" opacity="0.85"/>
<path d="M539.4,41.5L540.45,40.45L541.5,41.5L540.45,42.55Z" fill="#5690CD" opacity="0.85"/>
<path d="M667.07,102.05L668.12,101L669.17,102.05L668.12,103.1Z" fill="#5690CD" opacity="0.85"/>
<path d="M605.82,77.88L606.87,76.83L607.92,77.88L606.87,78.93Z" fill="#5690CD" opacity="0.85"/>
<path d="M571.54,19.04L572.59,17.99L573.64,19.04L572.59,20.09Z" fill="#5690CD" opacity="0.85"/>
<path d="M540.14,40.92L541.19,39.87L542.24,40.92L541.19,41.97Z" fill="#5690CD" opacity="0.85"/>
<path d="M600.5,67.92L601.55,66.87L602.6,67.92L601.55,68.97Z" fill="#5690CD" opacity="0.85"/>
<path d="M582.68,30.38L583.73,29.33L584.78,30.38L583.73,31.43Z" fill="#5690CD" opacity="0.85"/>
<path d="M536.19,46.33L537.24,45.28L538.29,46.33L537.24,47.38Z" fill="#5690CD" opacity="0.85"/>
<path d="M581.89,33.12L582.94,32.07L583.99,33.12L582.94,34.17Z" fill="#5690CD" opacity="0.85"/>
<path d="M546.94,31.6L547.99,30.55L549.04,31.6L547.99,32.65Z" fill="#5690CD" opacity="0.85"/>
<path d="M575.7,21.03L576.75,19.98L577.8,21.03L576.75,22.08Z" fill="#5690CD" opacity="0.85"/>
<path d="M668.93,95.1L669.98,94.05L671.03,95.1L669.98,96.15Z" fill="#5690CD" opacity="0.85"/>
<path d="M672.05,91.35L673.1,90.3L674.15,91.35L673.1,92.4Z" fill="#5690CD" opacity="0.85"/>
<path d="M571.24,18.37L572.29,17.32L573.34,18.37L572.29,19.42Z" fill="#5690CD" opacity="0.85"/>
<path d="M567.14,13.43L568.19,12.38L569.24,13.43L568.19,14.48Z" fill="#5690CD" opacity="0.85"/>
<path d="M533.57,53.01L534.62,51.96L535.67,53.01L534.62,54.06Z" fill="#5690CD" opacity="0.85"/>
<path d="M622.4,106.84L623.45,105.79L624.5,106.84L623.45,107.89Z" fill="#5690CD" opacity="0.85"/>
<path d="M586.78,40.25L587.83,39.2L588.88,40.25L587.83,41.3Z" fill="#5690CD" opacity="0.85"/>
<path d="M519.15,82.85L520.2,81.8L521.25,82.85L520.2,83.9Z" fill="#5690CD" opacity="0.85"/>
<path d="M601.05,67.79L602.1,66.74L603.15,67.79L602.1,68.84Z" fill="#5690CD" opacity="0.85"/>
<path d="M657.45,113.46L658.5,112.41L659.55,113.46L658.5,114.51Z" fill="#5690CD" opacity="0.85"/>
<path d="M561.55,9.87L562.6,8.82L563.65,9.87L562.6,10.92Z" fill="#5690CD" opacity="0.85"/>
<path d="M630.68,120.45L631.73,119.4L632.78,120.45L631.73,121.5Z" fill="#5690CD" opacity="0.85"/>
<path d="M639.71,128.63L640.76,127.58L641.81,128.63L640.76,129.68Z" fill="#5690CD" opacity="0.85"/>
<path d="M596.88,60.61L597.93,59.56L598.98,60.61L597.93,61.66Z" fill="#5690CD" opacity="0.85"/>
<path d="M569.13,12.7L570.18,11.65L571.23,12.7L570.18,13.75Z" fill="#5690CD" opacity="0.85"/>
<path d="M597.26,58.75L598.31,57.7L599.36,58.75L598.31,59.8Z" fill="#5690CD" opacity="0.85"/>
<path d="M630.2,122.79L631.25,121.74L632.3,122.79L631.25,123.84Z" fill="#5690CD" opacity="0.85"/>
<path d="M521.32,77.33L522.37,76.28L523.42,77.33L522.37,78.38Z" fill="#5690CD" opacity="0.85"/>
<path d="M554.24,19.42L555.29,18.37L556.34,19.42L555.29,20.47Z" fill="#5690CD" opacity="0.85"/>
<path d="M552.04,19.38L553.09,18.33L554.14,19.38L553.09,20.43Z" fill="#5690CD" opacity="0.85"/>
<path d="M520.66,81.86L521.71,80.81L522.76,81.86L521.71,82.91Z" fill="#5690CD" opacity="0.85"/>
<path d="M618.67,98.39L619.72,97.34L620.77,98.39L619.72,99.44Z" fill="#5690CD" opacity="0.85"/>
<path d="M635.17,128.37L636.22,127.32L637.27,128.37L636.22,129.42Z" fill="#5690CD" opacity="0.85"/>
<path d="M537.42,45.74L538.47,44.69L539.52,45.74L538.47,46.79Z" fill="#5690CD" opacity="0.85"/>
<path d="M577.54,27.12L578.59,26.07L579.64,27.12L578.59,28.17Z" fill="#5690CD" opacity="0.85"/>
<path d="M566.38,11.83L567.43,10.78L568.48,11.83L567.43,12.88Z" fill="#5690CD" opacity="0.85"/>
<path d="M578.23,26.47L579.28,25.42L580.33,26.47L579.28,27.52Z" fill="#5690CD" opacity="0.85"/>
<path d="M581.52,33.82L582.57,32.77L583.62,33.82L582.57,34.87Z" fill="#5690CD" opacity="0.85"/>
<path d="M633.41,124.62L634.46,123.57L635.51,124.62L634.46,125.67Z" fill="#5690CD" opacity="0.85"/>
<path d="M610.18,86.86L611.23,85.81L612.28,86.86L611.23,87.91Z" fill="#5690CD" opacity="0.85"/>
<path d="M533.69,51.86L534.74,50.81L535.79,51.86L534.74,52.91Z" fill="#5690CD" opacity="0.85"/>
<path d="M648.22,129.49L649.27,128.44L650.32,129.49L649.27,130.54Z" fill="#5690CD" opacity="0.85"/>
<path d="M666.7,101.3L667.75,100.25L668.8,101.3L667.75,102.35Z" fill="#5690CD" opacity="0.85"/>
<path d="M651.69,122.53L652.74,121.48L653.79,122.53L652.74,123.58Z" fill="#5690CD" opacity="0.85"/>
<path d="M551.8,21.3L552.85,20.25L553.9,21.3L552.85,22.35Z" fill="#5690CD" opacity="0.85"/>
<path d="M604.71,74.31L605.76,73.26L606.81,74.31L605.76,75.36Z" fill="#5690CD" opacity="0.85"/>
<path d="M571.63,18.24L572.68,17.19L573.73,18.24L572.68,19.29Z" fill="#5690CD" opacity="0.85"/>
<path d="M547.77,25.26L548.82,24.21L549.87,25.26L548.82,26.31Z" fill="#5690CD" opacity="0.85"/>
<path d="M568.5,12.29L569.55,11.24L570.6,12.29L569.55,13.34Z" fill="#5690CD" opacity="0.85"/>
<path d="M580.21,30.37L581.26,29.32L582.31,30.37L581.26,31.42Z" fill="#5690CD" opacity="0.85"/>
<path d="M587.12,40.1L588.17,39.05L589.22,40.1L588.17,41.15Z" fill="#5690CD" opacity="0.85"/>
<path d="M575.79,24.32L576.84,23.27L577.89,24.32L576.84,25.37Z" fill="#5690CD" opacity="0.85"/>
<path d="M584.79,39.23L585.84,38.18L586.89,39.23L585.84,40.28Z" fill="#5690CD" opacity="0.85"/>
<path d="M621.94,106.45L622.99,105.4L624.04,106.45L622.99,107.5Z" fill="#5690CD" opacity="0.85"/>
<path d="M544.78,32.77L545.83,31.72L546.88,32.77L545.83,33.82Z" fill="#5690CD" opacity="0.85"/>
<path d="M640.56,132.07L641.61,131.02L642.66,132.07L641.61,133.12Z" fill="#5690CD" opacity="0.85"/>
<path d="M581.62,32.71L582.67,31.66L583.72,32.71L582.67,33.76Z" fill="#5690CD" opacity="0.85"/>
<path d="M653.99,122.81L655.04,121.76L656.09,122.81L655.04,123.86Z" fill="#5690CD" opacity="0.85"/>
<path d="M602.65,70.76L603.7,69.71L604.75,70.76L603.7,71.81Z" fill="#5690CD" opacity="0.85"/>
<path d="M676.09,83.41L677.14,82.36L678.19,83.41L677.14,84.46Z" fill="#5690CD" opacity="0.85"/>
<path d="M624.15,111.8L625.2,110.75L626.25,111.8L625.2,112.85Z" fill="#5690CD" opacity="0.85"/>
<path d="M585.08,38.13L586.13,37.08L587.18,38.13L586.13,39.18Z" fill="#5690CD" opacity="0.85"/>
<path d="M517.29,83.99L518.34,82.94L519.39,83.99L518.34,85.04Z" fill="#5690CD" opacity="0.85"/>
<path d="M673.96,87.61L675.01,86.56L676.06,87.61L675.01,88.66Z" fill="#5690CD" opacity="0.85"/>
<path d="M579.6,30.27L580.65,29.22L581.7,30.27L580.65,31.32Z" fill="#5690CD" opacity="0.85"/>
<path d="M530.7,57.97L531.75,56.92L532.8,57.97L531.75,59.02Z" fill="#5690CD" opacity="0.85"/>
<path d="M645.01,129.02L646.06,127.97L647.11,129.02L646.06,130.07Z" fill="#5690CD" opacity="0.85"/>
<path d="M652.67,121.71L653.72,120.66L654.77,121.71L653.72,122.76Z" fill="#5690CD" opacity="0.85"/>
<path d="M560.1,12.43L561.15,11.38L562.2,12.43L561.15,13.48Z" fill="#5690CD" opacity="0.85"/>
<path d="M611.34,89.09L612.39,88.04L613.44,89.09L612.39,90.14Z" fill="#5690CD" opacity="0.85"/>
<path d="M644.77,129.46L645.82,128.41L646.87,129.46L645.82,130.51Z" fill="#5690CD" opacity="0.85"/>
<path d="M558.85,14.81L559.9,13.76L560.95,14.81L559.9,15.86Z" fill="#5690CD" opacity="0.85"/>
<path d="M562.52,10.74L563.57,9.69L564.62,10.74L563.57,11.79Z" fill="#5690CD" opacity="0.85"/>
<path d="M535.8,49.32L536.85,48.27L537.9,49.32L536.85,50.37Z" fill="#5690CD" opacity="0.85"/>
<path d="M576.69,29.71L577.74,28.66L578.79,29.71L577.74,30.76Z" fill="#5690CD" opacity="0.85"/>
<path d="M658.58,113.88L659.63,112.83L660.68,113.88L659.63,114.93Z" fill="#5690CD" opacity="0.85"/>
<path d="M551.18,23.5L552.23,22.45L553.28,23.5L552.23,24.55Z" fill="#5690CD" opacity="0.85"/>
<path d="M604.62,74.69L605.67,73.64L606.72,74.69L605.67,75.74Z" fill="#5690CD" opacity="0.85"/>
<path d="M644.38,130.54L645.43,129.49L646.48,130.54L645.43,131.59Z" fill="#5690CD" opacity="0.85"/>
<path d="M546.87,31.02L547.92,29.97L548.97,31.02L547.92,32.07Z" fill="#5690CD" opacity="0.85"/>
<path d="M569.73,15.59L570.78,14.54L571.83,15.59L570.78,16.64Z" fill="#5690CD" opacity="0.85"/>
<path d="M589.44,45.36L590.49,44.31L591.54,45.36L590.49,46.41Z" fill="#5690CD" opacity="0.85"/>
<path d="M669.51,93.42L670.56,92.37L671.61,93.42L670.56,94.47Z" fill="#5690CD" opacity="0.85"/>
<path d="M630.61,121.54L631.66,120.49L632.71,121.54L631.66,122.59Z" fill="#5690CD" opacity="0.85"/>
<path d="M553.2,20.92L554.25,19.87L555.3,20.92L554.25,21.97Z" fill="#5690CD" opacity="0.85"/>
<path d="M635.98,128.51L637.03,127.46L638.08,128.51L637.03,129.56Z" fill="#5690CD" opacity="0.85"/>
<path d="M517.51,85L518.56,83.95L519.61,85L518.56,86.05Z" fill="#5690CD" opacity="0.85"/>
<path d="M527.2,65.33L528.25,64.28L529.3,65.33L528.25,66.38Z" fill="#5690CD" opacity="0.85"/>
<path d="M620.74,110.6L621.79,109.55L622.84,110.6L621.79,111.65Z" fill="#5690CD" opacity="0.85"/>
<path d="M626.7,114.03L627.75,112.98L628.8,114.03L627.75,115.08Z" fill="#5690CD" opacity="0.85"/>
<path d="M651.9,123.32L652.95,122.27L654,123.32L652.95,124.37Z" fill="#5690CD" opacity="0.85"/>
<path d="M544.01,34.19L545.06,33.14L546.11,34.19L545.06,35.24Z" fill="#5690CD" opacity="0.85"/>
<path d="M527.11,65.21L528.16,64.16L529.21,65.21L528.16,66.26Z" fill="#5690CD" opacity="0.85"/>
<path d="M537.16,47.49L538.21,46.44L539.26,47.49L538.21,48.54Z" fill="#5690CD" opacity="0.85"/>
<path d="M538.03,44.61L539.08,43.56L540.13,44.61L539.08,45.66Z" fill="#5690CD" opacity="0.85"/>
<path d="M653.25,119.98L654.3,118.93L655.35,119.98L654.3,121.03Z" fill="#5690CD" opacity="0.85"/>
<path d="M577.16,28.48L578.21,27.43L579.26,28.48L578.21,29.53Z" fill="#5690CD" opacity="0.85"/>
<path d="M553.6,17.51L554.65,16.46L555.7,17.51L554.65,18.56Z" fill="#5690CD" opacity="0.85"/>
<path d="M576.02,26.45L577.07,25.4L578.12,26.45L577.07,27.5Z" fill="#5690CD" opacity="0.85"/>
<path d="M603.93,74.96L604.98,73.91L606.03,74.96L604.98,76.01Z" fill="#5690CD" opacity="0.85"/>
<path d="M650.03,124.64L651.08,123.59L652.13,124.64L651.08,125.69Z" fill="#5690CD" opacity="0.85"/>
<path d="M537.29,41.66L538.34,40.61L539.39,41.66L538.34,42.71Z" fill="#5690CD" opacity="0.85"/>
<path d="M536.43,46.6L537.48,45.55L538.53,46.6L537.48,47.65Z" fill="#5690CD" opacity="0.85"/>
<path d="M636.7,127.8L637.75,126.75L638.8,127.8L637.75,128.85Z" fill="#5690CD" opacity="0.85"/>
<path d="M622.21,108.1L623.26,107.05L624.31,108.1L623.26,109.15Z" fill="#5690CD" opacity="0.85"/>
<path d="M559.64,11.82L560.69,10.77L561.74,11.82L560.69,12.87Z" fill="#5690CD" opacity="0.85"/>
<path d="M577.47,24.36L578.52,23.31L579.57,24.36L578.52,25.41Z" fill="#5690CD" opacity="0.85"/>
<path d="M576.35,33.59L577.4,32.54L578.45,33.59L577.4,34.64Z" fill="#5690CD" opacity="0.85"/>
<path d="M616.23,97.46L617.28,96.41L618.33,97.46L617.28,98.51Z" fill="#5690CD" opacity="0.85"/>
<path d="M545.7,37.28L546.75,36.23L547.8,37.28L546.75,38.33Z" fill="#5690CD" opacity="0.85"/>
<path d="M549.42,26.15L550.47,25.1L551.52,26.15L550.47,27.2Z" fill="#5690CD" opacity="0.85"/>
<path d="M645,131.3L646.05,130.25L647.1,131.3L646.05,132.35Z" fill="#5690CD" opacity="0.85"/>
<path d="M549,25.7L550.05,24.65L551.1,25.7L550.05,26.75Z" fill="#5690CD" opacity="0.85"/>
<path d="M554.06,20.53L555.11,19.48L556.16,20.53L555.11,21.58Z" fill="#5690CD" opacity="0.85"/>
<path d="M613.98,94L615.03,92.95L616.08,94L615.03,95.05Z" fill="#5690CD" opacity="0.85"/>
<path d="M574.2,21.75L575.25,20.7L576.3,21.75L575.25,22.8Z" fill="#5690CD" opacity="0.85"/>
<path d="M652.5,122.43L653.55,121.38L654.6,122.43L653.55,123.48Z" fill="#5690CD" opacity="0.85"/>
<path d="M573.63,21.06L574.68,20.01L575.73,21.06L574.68,22.11Z" fill="#5690CD" opacity="0.85"/>
<path d="M580.52,28.92L581.57,27.87L582.62,28.92L581.57,29.97Z" fill="#5690CD" opacity="0.85"/>
<path d="M574.96,21.61L576.01,20.56L577.06,21.61L576.01,22.66Z" fill="#5690CD" opacity="0.85"/>
<path d="M612.22,90.87L613.27,89.82L614.32,90.87L613.27,91.92Z" fill="#5690CD" opacity="0.85"/>
<path d="M561.85,10.19L562.9,9.14L563.95,10.19L562.9,11.24Z" fill="#5690CD" opacity="0.85"/>
<path d="M635.47,128.45L636.52,127.4L637.57,128.45L636.52,129.5Z" fill="#5690CD" opacity="0.85"/>
<path d="M521.71,77.02L522.76,75.97L523.81,77.02L522.76,78.07Z" fill="#5690CD" opacity="0.85"/>
<path d="M613.37,93.13L614.42,92.08L615.47,93.13L614.42,94.18Z" fill="#5690CD" opacity="0.85"/>
<path d="M652.92,120.61L653.97,119.56L655.02,120.61L653.97,121.66Z" fill="#5690CD" opacity="0.85"/>
<path d="M521.18,78.84L522.23,77.79L523.28,78.84L522.23,79.89Z" fill="#5690CD" opacity="0.85"/>
<path d="M548.07,29.03L549.12,27.98L550.17,29.03L549.12,30.08Z" fill="#5690CD" opacity="0.85"/>
<path d="M640.61,130.61L641.66,129.56L642.71,130.61L641.66,131.66Z" fill="#5690CD" opacity="0.85"/>
<path d="M617.88,101.3L618.93,100.25L619.98,101.3L618.93,102.35Z" fill="#5690CD" opacity="0.85"/>
<path d="M529.6,60.43L530.65,59.38L531.7,60.43L530.65,61.48Z" fill="#5690CD" opacity="0.85"/>
<path d="M617.59,99L618.64,97.95L619.69,99L618.64,100.05Z" fill="#5690CD" opacity="0.85"/>
<path d="M612.1,91.19L613.15,90.14L614.2,91.19L613.15,92.24Z" fill="#5690CD" opacity="0.85"/>
<path d="M639.21,131.8L640.26,130.75L641.31,131.8L640.26,132.85Z" fill="#5690CD" opacity="0.85"/>
<path d="M587.31,40.4L588.36,39.35L589.41,40.4L588.36,41.45Z" fill="#5690CD" opacity="0.85"/>
<path d="M531.94,57.02L532.99,55.97L534.04,57.02L532.99,58.07Z" fill="#5690CD" opacity="0.85"/>
<path d="M634.76,129.11L635.81,128.06L636.86,129.11L635.81,130.16Z" fill="#5690CD" opacity="0.85"/>
<path d="M627.05,116.31L628.1,115.26L629.15,116.31L628.1,117.36Z" fill="#5690CD" opacity="0.85"/>
<path d="M664.77,105.29L665.82,104.24L666.87,105.29L665.82,106.34Z" fill="#5690CD" opacity="0.85"/>
<path d="M581.54,36.09L582.59,35.04L583.64,36.09L582.59,37.14Z" fill="#5690CD" opacity="0.85"/>
<path d="M672.92,90.24L673.97,89.19L675.02,90.24L673.97,91.29Z" fill="#5690CD" opacity="0.85"/>
<path d="M525.03,68.88L526.08,67.83L527.13,68.88L526.08,69.93Z" fill="#5690CD" opacity="0.85"/>
<path d="M636.63,127.9L637.68,126.85L638.73,127.9L637.68,128.95Z" fill="#5690CD" opacity="0.85"/>
<path d="M592.57,51.14L593.62,50.09L594.67,51.14L593.62,52.19Z" fill="#5690CD" opacity="0.85"/>
<path d="M671.49,91.64L672.54,90.59L673.59,91.64L672.54,92.69Z" fill="#5690CD" opacity="0.85"/>
<path d="M642.84,130.14L643.89,129.09L644.94,130.14L643.89,131.19Z" fill="#5690CD" opacity="0.85"/>
<path d="M622.89,107.82L623.94,106.77L624.99,107.82L623.94,108.87Z" fill="#5690CD" opacity="0.85"/>
<path d="M654.42,117.51L655.47,116.46L656.52,117.51L655.47,118.56Z" fill="#5690CD" opacity="0.85"/>
<path d="M675.67,81.93L676.72,80.88L677.77,81.93L676.72,82.98Z" fill="#5690CD" opacity="0.85"/>
<path d="M626.6,110.78L627.65,109.73L628.7,110.78L627.65,111.83Z" fill="#5690CD" opacity="0.85"/>
<path d="M657.29,114.33L658.34,113.28L659.39,114.33L658.34,115.38Z" fill="#5690CD" opacity="0.85"/>
<path d="M652.73,122.47L653.78,121.42L654.83,122.47L653.78,123.52Z" fill="#5690CD" opacity="0.85"/>
<path d="M615.49,95.19L616.54,94.14L617.59,95.19L616.54,96.24Z" fill="#5690CD" opacity="0.85"/>
<path d="M674.84,81.28L675.89,80.23L676.94,81.28L675.89,82.33Z" fill="#5690CD" opacity="0.85"/>
<path d="M660.27,109.74L661.32,108.69L662.37,109.74L661.32,110.79Z" fill="#5690CD" opacity="0.85"/>
<path d="M568.44,15.2L569.49,14.15L570.54,15.2L569.49,16.25Z" fill="#5690CD" opacity="0.85"/>
<path d="M669.26,97.68L670.31,96.63L671.36,97.68L670.31,98.73Z" fill="#5690CD" opacity="0.85"/>
<path d="M562.64,13.17L563.69,12.12L564.74,13.17L563.69,14.22Z" fill="#5690CD" opacity="0.85"/>
<path d="M583.42,37.02L584.47,35.97L585.52,37.02L584.47,38.07Z" fill="#5690CD" opacity="0.85"/>
<path d="M600.01,66.21L601.06,65.16L602.11,66.21L601.06,67.26Z" fill="#5690CD" opacity="0.85"/>
<path d="M533.51,51.96L534.56,50.91L535.61,51.96L534.56,53.01Z" fill="#5690CD" opacity="0.85"/>
<path d="M674.89,83.66L675.94,82.61L676.99,83.66L675.94,84.71Z" fill="#5690CD" opacity="0.85"/>
<path d="M521.48,73.93L522.53,72.88L523.58,73.93L522.53,74.98Z" fill="#5690CD" opacity="0.85"/>
<path d="M557.53,14.77L558.58,13.72L559.63,14.77L558.58,15.82Z" fill="#5690CD" opacity="0.85"/>
<path d="M524.32,69.8L525.37,68.75L526.42,69.8L525.37,70.85Z" fill="#5690CD" opacity="0.85"/>
<path d="M619.73,105.45L620.78,104.4L621.83,105.45L620.78,106.5Z" fill="#5690CD" opacity="0.85"/>
<path d="M667.34,97.77L668.39,96.72L669.44,97.77L668.39,98.82Z" fill="#5690CD" opacity="0.85"/>
<path d="M642.67,134.3L643.72,133.25L644.77,134.3L643.72,135.35Z" fill="#5690CD" opacity="0.85"/>
<path d="M542.39,41.76L543.44,40.71L544.49,41.76L543.44,42.81Z" fill="#5690CD" opacity="0.85"/>
<path d="M619.94,103.49L620.99,102.44L622.04,103.49L620.99,104.54Z" fill="#5690CD" opacity="0.85"/>
<path d="M579.47,32.71L580.52,31.66L581.57,32.71L580.52,33.76Z" fill="#5690CD" opacity="0.85"/>
<polyline points="518.2,57.93 518.45,58.27 518.7,58.62 518.95,58.96 519.2,59.31 519.45,59.66 519.7,60.01 519.95,60.37 520.2,60.72 520.45,61.07 520.7,61.43 520.95,61.78 521.2,62.14 521.45,62.5 521.7,62.86 521.95,63.22 522.2,63.58 522.45,63.94 522.7,64.3 522.95,64.66 523.2,65.02 523.45,65.39 523.7,65.75 523.95,66.12 524.2,66.48 524.45,66.85 524.7,67.22 524.95,67.58 525.2,67.95 525.45,68.32 525.7,68.68 525.95,69.05 526.2,69.42 526.45,69.79 526.7,70.16 526.95,70.53 527.2,70.9 527.45,71.26 527.7,71.63 527.95,72 528.2,72.37 528.45,72.74 528.7,73.11 528.95,73.48 529.2,73.85 529.45,74.21 529.7,74.58 529.95,74.95 530.2,75.32 530.45,75.68 530.7,76.05 530.95,76.41 531.2,76.78 531.45,77.14 531.7,77.51 531.95,77.87 532.2,78.24 532.45,78.6 532.7,78.96 532.95,79.32 533.2,79.68 533.45,80.04 533.7,80.4 533.95,80.76 534.2,81.11 534.45,81.47 534.7,81.82 534.95,82.18 535.2,82.53 535.45,82.88 535.7,83.23 535.95,83.58 536.2,83.93 536.45,84.28 536.7,84.62 536.95,84.97 537.2,85.31 537.45,85.65 537.7,85.99 537.95,86.33 538.2,86.67 538.45,87 538.7,87.34 538.95,87.67 539.2,88 539.45,88.33 539.7,88.66 539.95,88.99 540.2,89.31 540.45,89.63 540.7,89.96 540.95,90.28 541.2,90.59 541.45,90.91 541.7,91.22 541.95,91.53 542.2,91.84 542.45,92.15 542.7,92.46 542.95,92.76 543.2,93.06 543.45,93.36 543.7,93.66 543.95,93.95 544.2,94.25 544.45,94.54 544.7,94.83 544.95,95.11 545.2,95.4 545.45,95.68 545.7,95.96 545.95,96.23 546.2,96.51 546.45,96.78 546.7,97.05 546.95,97.32 547.2,97.58 547.45,97.84 547.7,98.1 547.95,98.36 548.2,98.61 548.45,98.87 548.7,99.11 548.95,99.36 549.2,99.6 549.45,99.84 549.7,100.08 549.95,100.32 550.2,100.55 550.45,100.78 550.7,101 550.95,101.23 551.2,101.45 551.45,101.67 551.7,101.88 551.95,102.09 552.2,102.3 552.45,102.51 552.7,102.71 552.95,102.91 553.2,103.11 553.45,103.3 553.7,103.49 553.95,103.68 554.2,103.86 554.45,104.04 554.7,104.22 554.95,104.4 555.2,104.57 555.45,104.74 555.7,104.9 555.95,105.06 556.2,105.22 556.45,105.37 556.7,105.53 556.95,105.67 557.2,105.82 557.45,105.96 557.7,106.1 557.95,106.23 558.2,106.37 558.45,106.49 558.7,106.62 558.95,106.74 559.2,106.86 559.45,106.97 559.7,107.08 559.95,107.19 560.2,107.29 560.45,107.4 560.7,107.49 560.95,107.59 561.2,107.68 561.45,107.76 561.7,107.84 561.95,107.92 562.2,108 562.45,108.07 562.7,108.14 562.95,108.2 563.2,108.27 563.45,108.32 563.7,108.38 563.95,108.43 564.2,108.48 564.45,108.52 564.7,108.56 564.95,108.59 565.2,108.63 565.45,108.66 565.7,108.68 565.95,108.7 566.2,108.72 566.45,108.73 566.7,108.74 566.95,108.75 567.2,108.75 567.45,108.75 567.7,108.75 567.95,108.74 568.2,108.73 568.45,108.72 568.7,108.7 568.95,108.68 569.2,108.65 569.45,108.62 569.7,108.59 569.95,108.55 570.2,108.51 570.45,108.47 570.7,108.42 570.95,108.37 571.2,108.31 571.45,108.25 571.7,108.19 571.95,108.13 572.2,108.06 572.45,107.98 572.7,107.91 572.95,107.83 573.2,107.74 573.45,107.66 573.7,107.57 573.95,107.47 574.2,107.38 574.45,107.27 574.7,107.17 574.95,107.06 575.2,106.95 575.45,106.84 575.7,106.72 575.95,106.59 576.2,106.47 576.45,106.34 576.7,106.21 576.95,106.07 577.2,105.93 577.45,105.79 577.7,105.65 577.95,105.5 578.2,105.34 578.45,105.19 578.7,105.03 578.95,104.87 579.2,104.7 579.45,104.53 579.7,104.36 579.95,104.19 580.2,104.01 580.45,103.83 580.7,103.64 580.95,103.45 581.2,103.26 581.45,103.07 581.7,102.87 581.95,102.67 582.2,102.47 582.45,102.26 582.7,102.05 582.95,101.84 583.2,101.62 583.45,101.4 583.7,101.18 583.95,100.96 584.2,100.73 584.45,100.5 584.7,100.27 584.95,100.03 585.2,99.8 585.45,99.55 585.7,99.31 585.95,99.06 586.2,98.82 586.45,98.56 586.7,98.31 586.95,98.05 587.2,97.79 587.45,97.53 587.7,97.26 587.95,97 588.2,96.73 588.45,96.45 588.7,96.18 588.95,95.9 589.2,95.62 589.45,95.34 589.7,95.06 589.95,94.77 590.2,94.48 590.45,94.19 590.7,93.9 590.95,93.6 591.2,93.3 591.45,93 591.7,92.7 591.95,92.4 592.2,92.09 592.45,91.78 592.7,91.47 592.95,91.16 593.2,90.85 593.45,90.53 593.7,90.21 593.95,89.89 594.2,89.57 594.45,89.25 594.7,88.92 594.95,88.6 595.2,88.27 595.45,87.94 595.7,87.61 595.95,87.27 596.2,86.94 596.45,86.6 596.7,86.26 596.95,85.92 597.2,85.58 597.45,85.24 597.7,84.9 597.95,84.55 598.2,84.21 598.45,83.86 598.7,83.51 598.95,83.16 599.2,82.81 599.45,82.46 599.7,82.11 599.95,81.75 600.2,81.4 600.45,81.04 600.7,80.68 600.95,80.33 601.2,79.97 601.45,79.61 601.7,79.25 601.95,78.89 602.2,78.53 602.45,78.16 602.7,77.8 602.95,77.44 603.2,77.07 603.45,76.71 603.7,76.34 603.95,75.98 604.2,75.61 604.45,75.24 604.7,74.88 604.95,74.51 605.2,74.14 605.45,73.77 605.7,73.4 605.95,73.04 606.2,72.67 606.45,72.3 606.7,71.93 606.95,71.56 607.2,71.19 607.45,70.82 607.7,70.45 607.95,70.08 608.2,69.72 608.45,69.35 608.7,68.98 608.95,68.61 609.2,68.24 609.45,67.88 609.7,67.51 609.95,67.14 610.2,66.78 610.45,66.41 610.7,66.04 610.95,65.68 611.2,65.32 611.45,64.95 611.7,64.59 611.95,64.23 612.2,63.87 612.45,63.5 612.7,63.14 612.95,62.78 613.2,62.43 613.45,62.07 613.7,61.71 613.95,61.36 614.2,61 614.45,60.65 614.7,60.29 614.95,59.94 615.2,59.59 615.45,59.24 615.7,58.9 615.95,58.55 616.2,58.2 616.45,57.86 616.7,57.52 616.95,57.17 617.2,56.83 617.45,56.49 617.7,56.16 617.95,55.82 618.2,55.49 618.45,55.15 618.7,54.82 618.95,54.49 619.2,54.16 619.45,53.84 619.7,53.51 619.95,53.19 620.2,52.87 620.45,52.55 620.7,52.23 620.95,51.92 621.2,51.6 621.45,51.29 621.7,50.98 621.95,50.67 622.2,50.37 622.45,50.06 622.7,49.76 622.95,49.46 623.2,49.17 623.45,48.87 623.7,48.58 623.95,48.29 624.2,48 624.45,47.71 624.7,47.43 624.95,47.15 625.2,46.87 625.45,46.59 625.7,46.32 625.95,46.04 626.2,45.77 626.45,45.51 626.7,45.24 626.95,44.98 627.2,44.72 627.45,44.47 627.7,44.21 627.95,43.96 628.2,43.71 628.45,43.47 628.7,43.22 628.95,42.98 629.2,42.74 629.45,42.51 629.7,42.28 629.95,42.05 630.2,41.82 630.45,41.6 630.7,41.38 630.95,41.16 631.2,40.94 631.45,40.73 631.7,40.52 631.95,40.32 632.2,40.11 632.45,39.91 632.7,39.72 632.95,39.52 633.2,39.33 633.45,39.15 633.7,38.96 633.95,38.78 634.2,38.6 634.45,38.43 634.7,38.26 634.95,38.09 635.2,37.93 635.45,37.76 635.7,37.61 635.95,37.45 636.2,37.3 636.45,37.15 636.7,37.01 636.95,36.86 637.2,36.73 637.45,36.59 637.7,36.46 637.95,36.33 638.2,36.21 638.45,36.08 638.7,35.97 638.95,35.85 639.2,35.74 639.45,35.63 639.7,35.53 639.95,35.43 640.2,35.33 640.45,35.24 640.7,35.15 640.95,35.06 641.2,34.98 641.45,34.9 641.7,34.83 641.95,34.75 642.2,34.69 642.45,34.62 642.7,34.56 642.95,34.5 643.2,34.45 643.45,34.4 643.7,34.35 643.95,34.31 644.2,34.27 644.45,34.23 644.7,34.2 644.95,34.17 645.2,34.14 645.45,34.12 645.7,34.11 645.95,34.09 646.2,34.08 646.45,34.07 646.7,34.07 646.95,34.07 647.2,34.07 647.45,34.08 647.7,34.09 647.95,34.11 648.2,34.13 648.45,34.15 648.7,34.18 648.95,34.2 649.2,34.24 649.45,34.27 649.7,34.31 649.95,34.36 650.2,34.41 650.45,34.46 650.7,34.51 650.95,34.57 651.2,34.63 651.45,34.7 651.7,34.77 651.95,34.84 652.2,34.92 652.45,35 652.7,35.08 652.95,35.17 653.2,35.26 653.45,35.35 653.7,35.45 653.95,35.55 654.2,35.66 654.45,35.76 654.7,35.87 654.95,35.99 655.2,36.11 655.45,36.23 655.7,36.36 655.95,36.48 656.2,36.62 656.45,36.75 656.7,36.89 656.95,37.03 657.2,37.18 657.45,37.33 657.7,37.48 657.95,37.64 658.2,37.8 658.45,37.96 658.7,38.12 658.95,38.29 659.2,38.46 659.45,38.64 659.7,38.82 659.95,39 660.2,39.18 660.45,39.37 660.7,39.56 660.95,39.76 661.2,39.95 661.45,40.15 661.7,40.36 661.95,40.56 662.2,40.77 662.45,40.99 662.7,41.2 662.95,41.42 663.2,41.64 663.45,41.87 663.7,42.09 663.95,42.32 664.2,42.56 664.45,42.79 664.7,43.03 664.95,43.27 665.2,43.51 665.45,43.76 665.7,44.01 665.95,44.26 666.2,44.52 666.45,44.77 666.7,45.03 666.95,45.3 667.2,45.56 667.45,45.83 667.7,46.1 667.95,46.37 668.2,46.65 668.45,46.92 668.7,47.2 668.95,47.48 669.2,47.77 669.45,48.06 669.7,48.34 669.95,48.64 670.2,48.93 670.45,49.23 670.7,49.52 670.95,49.82 671.2,50.12 671.45,50.43 671.7,50.74 671.95,51.04 672.2,51.35 672.45,51.67 672.7,51.98 672.95,52.3 673.2,52.61 673.45,52.93 673.7,53.25 673.95,53.58 674.2,53.9 674.45,54.23 674.7,54.56 674.95,54.89 675.2,55.22 675.45,55.55 675.7,55.89 675.95,56.22 676.2,56.56 676.45,56.9 676.7,57.24 676.95,57.58 677.2,57.93" fill="none" stroke="#BC2B40" stroke-width="1.4"/>
<polyline points="518.2,81.92 518.45,81.41 518.7,80.91 518.95,80.4 519.2,79.9 519.45,79.39 519.7,78.88 519.95,78.37 520.2,77.86 520.45,77.35 520.7,76.84 520.95,76.33 521.2,75.82 521.45,75.31 521.7,74.8 521.95,74.28 522.2,73.77 522.45,73.26 522.7,72.74 522.95,72.23 523.2,71.72 523.45,71.2 523.7,70.69 523.95,70.17 524.2,69.66 524.45,69.15 524.7,68.63 524.95,68.12 525.2,67.61 525.45,67.1 525.7,66.59 525.95,66.07 526.2,65.56 526.45,65.05 526.7,64.54 526.95,64.04 527.2,63.53 527.45,63.02 527.7,62.51 527.95,62.01 528.2,61.5 528.45,61 528.7,60.5 528.95,60 529.2,59.5 529.45,59 529.7,58.5 529.95,58 530.2,57.51 530.45,57.02 530.7,56.52 530.95,56.03 531.2,55.54 531.45,55.06 531.7,54.57 531.95,54.09 532.2,53.6 532.45,53.12 532.7,52.64 532.95,52.17 533.2,51.69 533.45,51.22 533.7,50.75 533.95,50.28 534.2,49.81 534.45,49.35 534.7,48.88 534.95,48.42 535.2,47.96 535.45,47.51 535.7,47.06 535.95,46.6 536.2,46.16 536.45,45.71 536.7,45.27 536.95,44.83 537.2,44.39 537.45,43.95 537.7,43.52 537.95,43.09 538.2,42.66 538.45,42.24 538.7,41.82 538.95,41.4 539.2,40.99 539.45,40.57 539.7,40.16 539.95,39.76 540.2,39.36 540.45,38.96 540.7,38.56 540.95,38.17 541.2,37.78 541.45,37.39 541.7,37.01 541.95,36.63 542.2,36.25 542.45,35.88 542.7,35.51 542.95,35.14 543.2,34.78 543.45,34.42 543.7,34.07 543.95,33.72 544.2,33.37 544.45,33.03 544.7,32.69 544.95,32.35 545.2,32.02 545.45,31.7 545.7,31.37 545.95,31.05 546.2,30.74 546.45,30.42 546.7,30.12 546.95,29.81 547.2,29.51 547.45,29.22 547.7,28.93 547.95,28.64 548.2,28.36 548.45,28.08 548.7,27.81 548.95,27.54 549.2,27.27 549.45,27.01 549.7,26.76 549.95,26.51 550.2,26.26 550.45,26.02 550.7,25.78 550.95,25.54 551.2,25.31 551.45,25.09 551.7,24.87 551.95,24.66 552.2,24.44 552.45,24.24 552.7,24.04 552.95,23.84 553.2,23.65 553.45,23.46 553.7,23.28 553.95,23.1 554.2,22.93 554.45,22.76 554.7,22.6 554.95,22.44 555.2,22.29 555.45,22.14 555.7,22 555.95,21.86 556.2,21.73 556.45,21.6 556.7,21.48 556.95,21.36 557.2,21.24 557.45,21.14 557.7,21.03 557.95,20.93 558.2,20.84 558.45,20.75 558.7,20.67 558.95,20.59 559.2,20.52 559.45,20.45 559.7,20.39 559.95,20.33 560.2,20.28 560.45,20.23 560.7,20.19 560.95,20.15 561.2,20.12 561.45,20.09 561.7,20.07 561.95,20.05 562.2,20.04 562.45,20.03 562.7,20.03 562.95,20.03 563.2,20.04 563.45,20.06 563.7,20.08 563.95,20.1 564.2,20.13 564.45,20.16 564.7,20.2 564.95,20.25 565.2,20.3 565.45,20.35 565.7,20.41 565.95,20.48 566.2,20.55 566.45,20.62 566.7,20.7 566.95,20.79 567.2,20.88 567.45,20.97 567.7,21.07 567.95,21.18 568.2,21.29 568.45,21.4 568.7,21.52 568.95,21.65 569.2,21.78 569.45,21.91 569.7,22.06 569.95,22.2 570.2,22.35 570.45,22.51 570.7,22.67 570.95,22.83 571.2,23 571.45,23.17 571.7,23.35 571.95,23.54 572.2,23.73 572.45,23.92 572.7,24.12 572.95,24.32 573.2,24.53 573.45,24.74 573.7,24.96 573.95,25.18 574.2,25.41 574.45,25.64 574.7,25.87 574.95,26.11 575.2,26.36 575.45,26.61 575.7,26.86 575.95,27.12 576.2,27.38 576.45,27.65 576.7,27.92 576.95,28.19 577.2,28.47 577.45,28.76 577.7,29.04 577.95,29.34 578.2,29.63 578.45,29.93 578.7,30.24 578.95,30.55 579.2,30.86 579.45,31.18 579.7,31.5 579.95,31.83 580.2,32.15 580.45,32.49 580.7,32.83 580.95,33.17 581.2,33.51 581.45,33.86 581.7,34.21 581.95,34.57 582.2,34.93 582.45,35.29 582.7,35.66 582.95,36.03 583.2,36.4 583.45,36.78 583.7,37.16 583.95,37.54 584.2,37.93 584.45,38.32 584.7,38.72 584.95,39.12 585.2,39.52 585.45,39.92 585.7,40.33 585.95,40.74 586.2,41.15 586.45,41.57 586.7,41.99 586.95,42.41 587.2,42.83 587.45,43.26 587.7,43.69 587.95,44.13 588.2,44.56 588.45,45 588.7,45.44 588.95,45.89 589.2,46.34 589.45,46.78 589.7,47.24 589.95,47.69 590.2,48.15 590.45,48.61 590.7,49.07 590.95,49.53 591.2,50 591.45,50.46 591.7,50.93 591.95,51.41 592.2,51.88 592.45,52.36 592.7,52.83 592.95,53.31 593.2,53.8 593.45,54.28 593.7,54.76 593.95,55.25 594.2,55.74 594.45,56.23 594.7,56.72 594.95,57.21 595.2,57.71 595.45,58.2 595.7,58.7 595.95,59.2 596.2,59.7 596.45,60.2 596.7,60.7 596.95,61.2 597.2,61.71 597.45,62.21 597.7,62.72 597.95,63.22 598.2,63.73 598.45,64.24 598.7,64.75 598.95,65.26 599.2,65.77 599.45,66.28 599.7,66.79 599.95,67.3 600.2,67.81 600.45,68.33 600.7,68.84 600.95,69.35 601.2,69.87 601.45,70.38 601.7,70.89 601.95,71.41 602.2,71.92 602.45,72.43 602.7,72.95 602.95,73.46 603.2,73.98 603.45,74.49 603.7,75 603.95,75.51 604.2,76.03 604.45,76.54 604.7,77.05 604.95,77.56 605.2,78.07 605.45,78.58 605.7,79.09 605.95,79.59 606.2,80.1 606.45,80.61 606.7,81.11 606.95,81.62 607.2,82.12 607.45,82.62 607.7,83.12 607.95,83.62 608.2,84.12 608.45,84.62 608.7,85.11 608.95,85.61 609.2,86.1 609.45,86.6 609.7,87.09 609.95,87.57 610.2,88.06 610.45,88.55 610.7,89.03 610.95,89.51 611.2,89.99 611.45,90.47 611.7,90.95 611.95,91.42 612.2,91.9 612.45,92.37 612.7,92.84 612.95,93.3 613.2,93.77 613.45,94.23 613.7,94.69 613.95,95.15 614.2,95.6 614.45,96.05 614.7,96.5 614.95,96.95 615.2,97.4 615.45,97.84 615.7,98.28 615.95,98.72 616.2,99.15 616.45,99.59 616.7,100.01 616.95,100.44 617.2,100.86 617.45,101.29 617.7,101.7 617.95,102.12 618.2,102.53 618.45,102.94 618.7,103.34 618.95,103.74 619.2,104.14 619.45,104.54 619.7,104.93 619.95,105.32 620.2,105.71 620.45,106.09 620.7,106.47 620.95,106.84 621.2,107.22 621.45,107.58 621.7,107.95 621.95,108.31 622.2,108.67 622.45,109.02 622.7,109.37 622.95,109.72 623.2,110.06 623.45,110.4 623.7,110.73 623.95,111.06 624.2,111.39 624.45,111.71 624.7,112.03 624.95,112.35 625.2,112.66 625.45,112.96 625.7,113.27 625.95,113.57 626.2,113.86 626.45,114.15 626.7,114.43 626.95,114.72 627.2,114.99 627.45,115.27 627.7,115.53 627.95,115.8 628.2,116.06 628.45,116.31 628.7,116.56 628.95,116.81 629.2,117.05 629.45,117.29 629.7,117.52 629.95,117.75 630.2,117.97 630.45,118.19 630.7,118.41 630.95,118.62 631.2,118.82 631.45,119.02 631.7,119.22 631.95,119.41 632.2,119.59 632.45,119.78 632.7,119.95 632.95,120.12 633.2,120.29 633.45,120.45 633.7,120.61 633.95,120.76 634.2,120.91 634.45,121.05 634.7,121.19 634.95,121.32 635.2,121.45 635.45,121.57 635.7,121.69 635.95,121.8 636.2,121.91 636.45,122.01 636.7,122.11 636.95,122.2 637.2,122.29 637.45,122.37 637.7,122.44 637.95,122.52 638.2,122.58 638.45,122.65 638.7,122.7 638.95,122.75 639.2,122.8 639.45,122.84 639.7,122.88 639.95,122.91 640.2,122.94 640.45,122.96 640.7,122.97 640.95,122.98 641.2,122.99 641.45,122.99 641.7,122.98 641.95,122.98 642.2,122.96 642.45,122.94 642.7,122.92 642.95,122.89 643.2,122.85 643.45,122.81 643.7,122.76 643.95,122.71 644.2,122.66 644.45,122.6 644.7,122.53 644.95,122.46 645.2,122.38 645.45,122.3 645.7,122.22 645.95,122.12 646.2,122.03 646.45,121.93 646.7,121.82 646.95,121.71 647.2,121.59 647.45,121.47 647.7,121.34 647.95,121.21 648.2,121.08 648.45,120.94 648.7,120.79 648.95,120.64 649.2,120.48 649.45,120.32 649.7,120.16 649.95,119.99 650.2,119.81 650.45,119.63 650.7,119.45 650.95,119.26 651.2,119.06 651.45,118.86 651.7,118.66 651.95,118.45 652.2,118.24 652.45,118.02 652.7,117.8 652.95,117.57 653.2,117.34 653.45,117.1 653.7,116.86 653.95,116.61 654.2,116.36 654.45,116.11 654.7,115.85 654.95,115.59 655.2,115.32 655.45,115.05 655.7,114.77 655.95,114.49 656.2,114.21 656.45,113.92 656.7,113.62 656.95,113.33 657.2,113.02 657.45,112.72 657.7,112.41 657.95,112.1 658.2,111.78 658.45,111.45 658.7,111.13 658.95,110.8 659.2,110.46 659.45,110.13 659.7,109.79 659.95,109.44 660.2,109.09 660.45,108.74 660.7,108.38 660.95,108.02 661.2,107.66 661.45,107.29 661.7,106.92 661.95,106.54 662.2,106.17 662.45,105.78 662.7,105.4 662.95,105.01 663.2,104.62 663.45,104.22 663.7,103.82 663.95,103.42 664.2,103.02 664.45,102.61 664.7,102.2 664.95,101.79 665.2,101.37 665.45,100.95 665.7,100.53 665.95,100.1 666.2,99.67 666.45,99.24 666.7,98.81 666.95,98.37 667.2,97.93 667.45,97.49 667.7,97.04 667.95,96.59 668.2,96.14 668.45,95.69 668.7,95.24 668.95,94.78 669.2,94.32 669.45,93.86 669.7,93.4 669.95,92.93 670.2,92.46 670.45,91.99 670.7,91.52 670.95,91.04 671.2,90.57 671.45,90.09 671.7,89.61 671.95,89.13 672.2,88.64 672.45,88.16 672.7,87.67 672.95,87.18 673.2,86.69 673.45,86.2 673.7,85.71 673.95,85.21 674.2,84.72 674.45,84.22 674.7,83.72 674.95,83.22 675.2,82.72 675.45,82.22 675.7,81.72 675.95,81.21 676.2,80.71 676.45,80.2 676.7,79.7 676.95,79.19 677.2,78.68" fill="none" stroke="#1E4A78" stroke-width="1.4"/>
<rect x="516.5" y="3.8" width="163.1" height="135.5" fill="none" stroke="#000" stroke-width="1.2"/>
<line x1="516.5" y1="13.4" x2="519.1" y2="13.4" stroke="#000" stroke-width="1.1"/>
<text x="514.3" y="16.7" font-size="9.8" text-anchor="end" fill="#1a1a1a" textLength="10.68" lengthAdjust="spacingAndGlyphs" stroke="#1a1a1a" stroke-width="0.12">30</text>
<line x1="516.5" y1="42.65" x2="519.1" y2="42.65" stroke="#000" stroke-width="1.1"/>
<text x="514.3" y="45.95" font-size="9.8" text-anchor="end" fill="#1a1a1a" textLength="10.68" lengthAdjust="spacingAndGlyphs" stroke="#1a1a1a" stroke-width="0.12">15</text>
<line x1="516.5" y1="71.9" x2="519.1" y2="71.9" stroke="#000" stroke-width="1.1"/>
<text x="514.3" y="75.2" font-size="9.8" text-anchor="end" fill="#1a1a1a" textLength="5.34" lengthAdjust="spacingAndGlyphs" stroke="#1a1a1a" stroke-width="0.12">0</text>
<line x1="516.5" y1="101.15" x2="519.1" y2="101.15" stroke="#000" stroke-width="1.1"/>
<text x="514.3" y="104.45" font-size="9.8" text-anchor="end" fill="#1a1a1a" textLength="13.88" lengthAdjust="spacingAndGlyphs" stroke="#1a1a1a" stroke-width="0.12">-15</text>
<line x1="516.5" y1="130.4" x2="519.1" y2="130.4" stroke="#000" stroke-width="1.1"/>
<text x="514.3" y="133.7" font-size="9.8" text-anchor="end" fill="#1a1a1a" textLength="13.88" lengthAdjust="spacingAndGlyphs" stroke="#1a1a1a" stroke-width="0.12">-30</text>
<line x1="518.3" y1="139.3" x2="518.3" y2="136.7" stroke="#000" stroke-width="1.1"/>
<text x="518.3" y="150.6" font-size="9.8" text-anchor="middle" fill="#1a1a1a" textLength="5.34" lengthAdjust="spacingAndGlyphs" stroke="#1a1a1a" stroke-width="0.12">0</text>
<line x1="558.2" y1="139.3" x2="558.2" y2="136.7" stroke="#000" stroke-width="1.1"/>
<text x="558.2" y="150.6" font-size="9.8" text-anchor="middle" fill="#1a1a1a" textLength="10.68" lengthAdjust="spacingAndGlyphs" stroke="#1a1a1a" stroke-width="0.12">90</text>
<line x1="598.1" y1="139.3" x2="598.1" y2="136.7" stroke="#000" stroke-width="1.1"/>
<text x="598.1" y="150.6" font-size="9.8" text-anchor="middle" fill="#1a1a1a" textLength="16.02" lengthAdjust="spacingAndGlyphs" stroke="#1a1a1a" stroke-width="0.12">180</text>
<line x1="637.8" y1="139.3" x2="637.8" y2="136.7" stroke="#000" stroke-width="1.1"/>
<text x="637.8" y="150.6" font-size="9.8" text-anchor="middle" fill="#1a1a1a" textLength="16.02" lengthAdjust="spacingAndGlyphs" stroke="#1a1a1a" stroke-width="0.12">270</text>
<line x1="677.7" y1="139.3" x2="677.7" y2="136.7" stroke="#000" stroke-width="1.1"/>
<text x="677.7" y="150.6" font-size="9.8" text-anchor="middle" fill="#1a1a1a" textLength="16.02" lengthAdjust="spacingAndGlyphs" stroke="#1a1a1a" stroke-width="0.12">360</text>
<g transform="translate(589.5,163.4)" fill="#1a1a1a" stroke="#1a1a1a" stroke-width="0.12"><text x="0" y="0" font-size="9.4" font-style="italic">φ</text><text x="8.6" y="0" font-size="9.4">(°)</text></g>
<g transform="translate(497,98.1) rotate(-90)" fill="#1a1a1a" stroke="#1a1a1a" stroke-width="0.12"><text x="0" y="0" font-size="9.4" font-style="italic">Δ</text><text x="6.9" y="0" font-size="9.8" font-style="italic">R</text><text x="15.3" y="1" font-size="6.3" font-style="italic">xx</text><text x="15.6" y="-5.3" font-size="6.6">2ω</text><text x="28.6" y="0" font-size="9.4">(mΩ)</text></g>
<text x="661.6" y="28.9" font-size="10.2" fill="#D8707A" stroke="#D8707A" stroke-width="0.12">P</text>
<path d="M671.3,20.9V28.1" stroke="#D8707A" stroke-width="0.8"/><path d="M669.6,26.5L671.3,29.1L673,26.5L671.3,27.3Z" fill="#D8707A"/>
<text x="661.6" y="131.3" font-size="10.2" fill="#5B95CF" stroke="#5B95CF" stroke-width="0.12">P</text>
<path d="M671.3,131.3V124.1" stroke="#5B95CF" stroke-width="0.8"/><path d="M669.6,125.7L671.3,123.1L673,125.7L671.3,124.9Z" fill="#5B95CF"/>
<polygon points="559,55.5 577,55.5 577,72.5 559,70" fill="#C4C4C4" stroke="#999" stroke-width="0.5" stroke-dasharray="1,1"/>
<polygon points="534.4,73.9 549,83.4 577,72.4 577,74 549,85 534.4,75.5" fill="#7C7CB4"/>
<polygon points="534.4,73.9 565.2,69 577,72.4 549,83.4" fill="#9898CC"/>
<line x1="541.7" y1="77.5" x2="562.28" y2="73.18" stroke="#111" stroke-width="1.5"/>
<polygon points="566,72.4 562.24,75.44 561.34,71.13" fill="#111"/>
<line x1="566.7" y1="70.9" x2="572.99" y2="63.19" stroke="#D62A3C" stroke-width="1.2"/>
<polygon points="574.7,61.1 573.99,64.65 571.36,62.5" fill="#D62A3C"/>
<line x1="566.7" y1="70.2" x2="566.7" y2="52" stroke="#F4AC48" stroke-width="1.1"/>
<polygon points="566.7,48.9 568.5,52.5 564.9,52.5" fill="#F4AC48"/>
<text x="563" y="45.7" font-size="9.3" fill="#F2A23A" stroke="#F2A23A" stroke-width="0.12">P<tspan font-size="5.8" dx="0.3" dy="3.8">z</tspan></text>
<text x="577.2" y="62.9" font-size="9.4" fill="#D62A3C" stroke="#D62A3C" stroke-width="0.12">H</text>
<text x="568.3" y="59.6" font-size="7.6" fill="#666" stroke="#666" stroke-width="0.12">φ</text>
<path d="M567.2,63.2 Q569.5,61.6 571.8,62.8" fill="none" stroke="#777" stroke-width="0.5"/>
<text x="537.6" y="69.5" font-size="9.3" fill="#222" stroke="#222" stroke-width="0.12">I<tspan font-size="5.8" dx="0.3" dy="3.8">x</tspan></text>
<text x="488.6" y="207.8" font-size="9.5" font-weight="bold">f</text>
<line x1="519.6" y1="280.85" x2="683.5" y2="217.6" stroke="#000" stroke-width="2.2" stroke-dasharray="8.2,5" stroke-dashoffset="1.6"/>
<line x1="519.6" y1="280.85" x2="683.5" y2="330.4" stroke="#000" stroke-width="2.2" stroke-dasharray="8.2,5" stroke-dashoffset="1.6"/>
<circle cx="551" cy="269" r="3.85" fill="#5A8FC6"/>
<circle cx="584.1" cy="257.7" r="3.85" fill="#5A8FC6"/>
<circle cx="615.8" cy="249.9" r="3.85" fill="#5A8FC6"/>
<circle cx="645.4" cy="230.4" r="3.85" fill="#5A8FC6"/>
<circle cx="678.4" cy="218.2" r="3.85" fill="#5A8FC6"/>
<circle cx="551" cy="292.1" r="3.85" fill="#D06466"/>
<circle cx="583.6" cy="303.3" r="3.85" fill="#D06466"/>
<circle cx="615.3" cy="307.1" r="3.85" fill="#D06466"/>
<circle cx="645.4" cy="321.3" r="3.85" fill="#D06466"/>
<circle cx="677.9" cy="326.1" r="3.85" fill="#D06466"/>
<rect x="519.5" y="210.2" width="163.6" height="135.6" fill="none" stroke="#000" stroke-width="1.2"/>
<line x1="519.5" y1="220.2" x2="522.1" y2="220.2" stroke="#000" stroke-width="1.1"/>
<text x="517.3" y="223.5" font-size="9.8" text-anchor="end" fill="#1a1a1a" textLength="10.68" lengthAdjust="spacingAndGlyphs" stroke="#1a1a1a" stroke-width="0.12">30</text>
<line x1="519.5" y1="250.5" x2="522.1" y2="250.5" stroke="#000" stroke-width="1.1"/>
<text x="517.3" y="253.8" font-size="9.8" text-anchor="end" fill="#1a1a1a" textLength="10.68" lengthAdjust="spacingAndGlyphs" stroke="#1a1a1a" stroke-width="0.12">15</text>
<line x1="519.5" y1="280.85" x2="522.1" y2="280.85" stroke="#000" stroke-width="1.1"/>
<text x="517.3" y="284.15" font-size="9.8" text-anchor="end" fill="#1a1a1a" textLength="5.34" lengthAdjust="spacingAndGlyphs" stroke="#1a1a1a" stroke-width="0.12">0</text>
<line x1="519.5" y1="311.15" x2="522.1" y2="311.15" stroke="#000" stroke-width="1.1"/>
<text x="517.3" y="314.45" font-size="9.8" text-anchor="end" fill="#1a1a1a" textLength="13.88" lengthAdjust="spacingAndGlyphs" stroke="#1a1a1a" stroke-width="0.12">-15</text>
<line x1="519.5" y1="341.5" x2="522.1" y2="341.5" stroke="#000" stroke-width="1.1"/>
<text x="517.3" y="344.8" font-size="9.8" text-anchor="end" fill="#1a1a1a" textLength="13.88" lengthAdjust="spacingAndGlyphs" stroke="#1a1a1a" stroke-width="0.12">-30</text>
<line x1="519.6" y1="345.8" x2="519.6" y2="343.2" stroke="#000" stroke-width="1.1"/>
<text x="519.6" y="357.2" font-size="9.8" text-anchor="middle" fill="#1a1a1a" textLength="5.34" lengthAdjust="spacingAndGlyphs" stroke="#1a1a1a" stroke-width="0.12">0</text>
<line x1="551.1" y1="345.8" x2="551.1" y2="343.2" stroke="#000" stroke-width="1.1"/>
<text x="551.1" y="357.2" font-size="9.8" text-anchor="middle" fill="#1a1a1a" textLength="10.68" lengthAdjust="spacingAndGlyphs" stroke="#1a1a1a" stroke-width="0.12">40</text>
<line x1="582.6" y1="345.8" x2="582.6" y2="343.2" stroke="#000" stroke-width="1.1"/>
<text x="582.6" y="357.2" font-size="9.8" text-anchor="middle" fill="#1a1a1a" textLength="10.68" lengthAdjust="spacingAndGlyphs" stroke="#1a1a1a" stroke-width="0.12">80</text>
<line x1="614.1" y1="345.8" x2="614.1" y2="343.2" stroke="#000" stroke-width="1.1"/>
<text x="614.1" y="357.2" font-size="9.8" text-anchor="middle" fill="#1a1a1a" textLength="16.02" lengthAdjust="spacingAndGlyphs" stroke="#1a1a1a" stroke-width="0.12">120</text>
<line x1="645.6" y1="345.8" x2="645.6" y2="343.2" stroke="#000" stroke-width="1.1"/>
<text x="645.6" y="357.2" font-size="9.8" text-anchor="middle" fill="#1a1a1a" textLength="16.02" lengthAdjust="spacingAndGlyphs" stroke="#1a1a1a" stroke-width="0.12">160</text>
<line x1="677.1" y1="345.8" x2="677.1" y2="343.2" stroke="#000" stroke-width="1.1"/>
<text x="677.1" y="357.2" font-size="9.8" text-anchor="middle" fill="#1a1a1a" textLength="16.02" lengthAdjust="spacingAndGlyphs" stroke="#1a1a1a" stroke-width="0.12">200</text>
<g transform="translate(590.4,370.6)" fill="#1a1a1a" stroke="#1a1a1a" stroke-width="0.12"><text x="0" y="0" font-size="9.4" font-style="italic">I</text><text x="5" y="0" font-size="9.4">(μA)</text></g>
<g transform="translate(499.5,307) rotate(-90)" fill="#1a1a1a" stroke="#1a1a1a" stroke-width="0.12"><text x="0" y="0" font-size="9.4" font-style="italic">Δ</text><text x="6.9" y="0" font-size="9.8" font-style="italic">R</text><text x="15.3" y="1" font-size="6.3" font-style="italic">xx</text><text x="15.6" y="-5.3" font-size="6.6">2ω</text><text x="28.6" y="0" font-size="9.4">(mΩ)</text></g>
<text x="661.6" y="242.6" font-size="10.2" fill="#5A8FC6" stroke="#5A8FC6" stroke-width="0.12">P</text>
<path d="M671.3,242.6V235.4" stroke="#5A8FC6" stroke-width="0.8"/><path d="M669.6,237L671.3,234.4L673,237L671.3,236.2Z" fill="#5A8FC6"/>
<text x="661.6" y="317.2" font-size="10.2" fill="#D06466" stroke="#D06466" stroke-width="0.12">P</text>
<path d="M671.3,309.2V316.4" stroke="#D06466" stroke-width="0.8"/><path d="M669.6,314.8L671.3,317.4L673,314.8L671.3,315.6Z" fill="#D06466"/>
</svg>
</body></html>
